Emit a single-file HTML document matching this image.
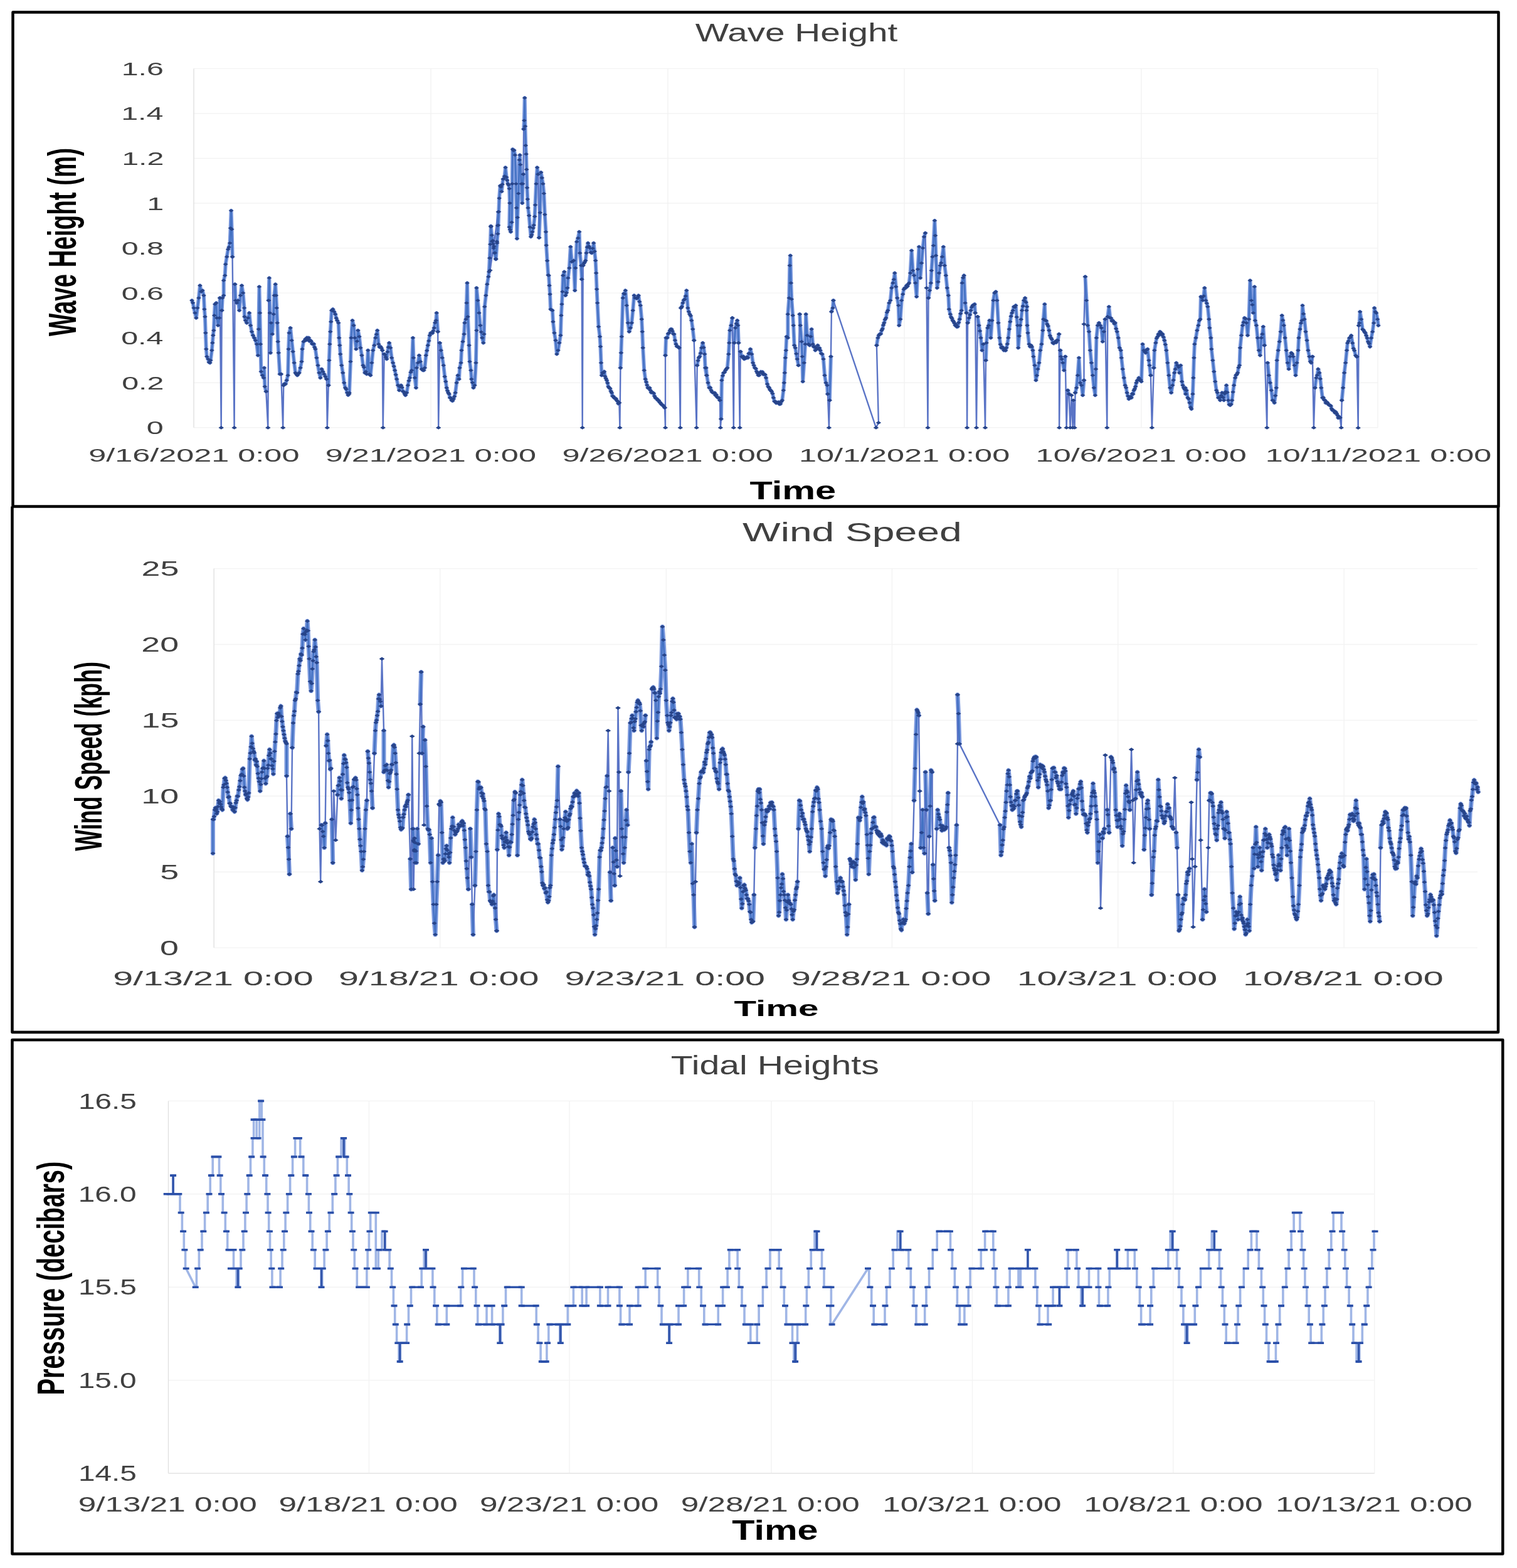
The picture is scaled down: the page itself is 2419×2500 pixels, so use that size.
<!DOCTYPE html><html><head><meta charset="utf-8"><title>Wave Height, Wind Speed, Tidal Heights</title><style>html,body{margin:0;padding:0;background:#fff}svg{display:block}</style></head><body><svg width="2419" height="2500" viewBox="0 0 2419 2500" font-family="&quot;Liberation Sans&quot;, Arial, sans-serif">
<rect width="2419" height="2500" fill="#fff"/>
<line x1="309" y1="109.40" x2="2197" y2="109.40" stroke="#f3f3f3" stroke-width="1.4"/>
<line x1="309" y1="180.95" x2="2197" y2="180.95" stroke="#f3f3f3" stroke-width="1.4"/>
<line x1="309" y1="252.50" x2="2197" y2="252.50" stroke="#f3f3f3" stroke-width="1.4"/>
<line x1="309" y1="324.05" x2="2197" y2="324.05" stroke="#f3f3f3" stroke-width="1.4"/>
<line x1="309" y1="395.60" x2="2197" y2="395.60" stroke="#f3f3f3" stroke-width="1.4"/>
<line x1="309" y1="467.15" x2="2197" y2="467.15" stroke="#f3f3f3" stroke-width="1.4"/>
<line x1="309" y1="538.70" x2="2197" y2="538.70" stroke="#f3f3f3" stroke-width="1.4"/>
<line x1="309" y1="610.25" x2="2197" y2="610.25" stroke="#f3f3f3" stroke-width="1.4"/>
<line x1="309" y1="681.80" x2="2197" y2="681.80" stroke="#f3f3f3" stroke-width="1.4"/>
<line x1="309.00" y1="109.4" x2="309.00" y2="681.8" stroke="#e0e0e0" stroke-width="1.4"/>
<line x1="687.00" y1="109.4" x2="687.00" y2="681.8" stroke="#f3f3f3" stroke-width="1.4"/>
<line x1="1065.00" y1="109.4" x2="1065.00" y2="681.8" stroke="#f3f3f3" stroke-width="1.4"/>
<line x1="1442.00" y1="109.4" x2="1442.00" y2="681.8" stroke="#f3f3f3" stroke-width="1.4"/>
<line x1="1820.00" y1="109.4" x2="1820.00" y2="681.8" stroke="#f3f3f3" stroke-width="1.4"/>
<line x1="2197.00" y1="109.4" x2="2197.00" y2="681.8" stroke="#f3f3f3" stroke-width="1.4"/>
<text transform="translate(1108.72,66.00) scale(0.5674,0.4058)" font-size="100" fill="#404040">Wave Height</text>
<text transform="translate(193.66,119.90) scale(0.4840,0.3010)" font-size="100" fill="#404040">1.6</text>
<text transform="translate(193.18,191.45) scale(0.4840,0.3010)" font-size="100" fill="#404040">1.4</text>
<text transform="translate(194.14,263.00) scale(0.4840,0.3010)" font-size="100" fill="#404040">1.2</text>
<text transform="translate(234.32,334.55) scale(0.4840,0.3010)" font-size="100" fill="#404040">1</text>
<text transform="translate(193.66,406.10) scale(0.4840,0.3010)" font-size="100" fill="#404040">0.8</text>
<text transform="translate(193.66,477.65) scale(0.4840,0.3010)" font-size="100" fill="#404040">0.6</text>
<text transform="translate(193.18,549.20) scale(0.4840,0.3010)" font-size="100" fill="#404040">0.4</text>
<text transform="translate(194.14,620.75) scale(0.4840,0.3010)" font-size="100" fill="#404040">0.2</text>
<text transform="translate(233.83,692.30) scale(0.4840,0.3010)" font-size="100" fill="#404040">0</text>
<text transform="translate(141.16,735.60) scale(0.5040,0.2940)" font-size="100" fill="#404040">9/16/2021 0:00</text>
<text transform="translate(518.66,735.60) scale(0.5040,0.2940)" font-size="100" fill="#404040">9/21/2021 0:00</text>
<text transform="translate(896.46,735.60) scale(0.5040,0.2940)" font-size="100" fill="#404040">9/26/2021 0:00</text>
<text transform="translate(1273.91,735.60) scale(0.5040,0.2940)" font-size="100" fill="#404040">10/1/2021 0:00</text>
<text transform="translate(1651.61,735.60) scale(0.5040,0.2940)" font-size="100" fill="#404040">10/6/2021 0:00</text>
<text transform="translate(2017.69,735.60) scale(0.5040,0.2940)" font-size="100" fill="#404040">10/11/2021 0:00</text>
<text transform="translate(1195.41,795.60) scale(0.5947,0.4072)" font-size="100" fill="#000" font-weight="bold">Time</text>
<text transform="translate(120.70,536.00) rotate(-90) scale(0.3850,0.6261)" font-size="100" fill="#000" font-weight="bold">Wave Height (m)</text>
<line x1="341.2" y1="906.60" x2="2356" y2="906.60" stroke="#f3f3f3" stroke-width="1.4"/>
<line x1="341.2" y1="1027.50" x2="2356" y2="1027.50" stroke="#f3f3f3" stroke-width="1.4"/>
<line x1="341.2" y1="1148.40" x2="2356" y2="1148.40" stroke="#f3f3f3" stroke-width="1.4"/>
<line x1="341.2" y1="1269.30" x2="2356" y2="1269.30" stroke="#f3f3f3" stroke-width="1.4"/>
<line x1="341.2" y1="1390.20" x2="2356" y2="1390.20" stroke="#f3f3f3" stroke-width="1.4"/>
<line x1="341.2" y1="1511.10" x2="2356" y2="1511.10" stroke="#f3f3f3" stroke-width="1.4"/>
<line x1="341.20" y1="906.6" x2="341.20" y2="1511" stroke="#e0e0e0" stroke-width="1.4"/>
<line x1="701.70" y1="906.6" x2="701.70" y2="1511" stroke="#f3f3f3" stroke-width="1.4"/>
<line x1="1062.30" y1="906.6" x2="1062.30" y2="1511" stroke="#f3f3f3" stroke-width="1.4"/>
<line x1="1422.40" y1="906.6" x2="1422.40" y2="1511" stroke="#f3f3f3" stroke-width="1.4"/>
<line x1="1782.70" y1="906.6" x2="1782.70" y2="1511" stroke="#f3f3f3" stroke-width="1.4"/>
<line x1="2143.20" y1="906.6" x2="2143.20" y2="1511" stroke="#f3f3f3" stroke-width="1.4"/>
<text transform="translate(1184.08,863.40) scale(0.6417,0.4304)" font-size="100" fill="#404040">Wind Speed</text>
<text transform="translate(225.51,918.20) scale(0.5373,0.3329)" font-size="100" fill="#404040">25</text>
<text transform="translate(225.25,1039.10) scale(0.5373,0.3329)" font-size="100" fill="#404040">20</text>
<text transform="translate(225.51,1160.00) scale(0.5373,0.3329)" font-size="100" fill="#404040">15</text>
<text transform="translate(225.25,1280.90) scale(0.5373,0.3329)" font-size="100" fill="#404040">10</text>
<text transform="translate(255.33,1401.80) scale(0.5373,0.3329)" font-size="100" fill="#404040">5</text>
<text transform="translate(255.06,1522.70) scale(0.5373,0.3329)" font-size="100" fill="#404040">0</text>
<text transform="translate(180.21,1571.40) scale(0.5748,0.3157)" font-size="100" fill="#404040">9/13/21 0:00</text>
<text transform="translate(539.91,1571.40) scale(0.5748,0.3157)" font-size="100" fill="#404040">9/18/21 0:00</text>
<text transform="translate(900.51,1571.40) scale(0.5748,0.3157)" font-size="100" fill="#404040">9/23/21 0:00</text>
<text transform="translate(1260.91,1571.40) scale(0.5748,0.3157)" font-size="100" fill="#404040">9/28/21 0:00</text>
<text transform="translate(1621.65,1571.40) scale(0.5748,0.3157)" font-size="100" fill="#404040">10/3/21 0:00</text>
<text transform="translate(1982.05,1571.40) scale(0.5748,0.3157)" font-size="100" fill="#404040">10/8/21 0:00</text>
<text transform="translate(1170.62,1619.70) scale(0.5819,0.3493)" font-size="100" fill="#000" font-weight="bold">Time</text>
<text transform="translate(162.30,1356.80) rotate(-90) scale(0.3578,0.6072)" font-size="100" fill="#000" font-weight="bold">Wind Speed (kph)</text>
<line x1="268.5" y1="1755.40" x2="2191.8" y2="1755.40" stroke="#f3f3f3" stroke-width="1.4"/>
<line x1="268.5" y1="1903.80" x2="2191.8" y2="1903.80" stroke="#f3f3f3" stroke-width="1.4"/>
<line x1="268.5" y1="2052.20" x2="2191.8" y2="2052.20" stroke="#f3f3f3" stroke-width="1.4"/>
<line x1="268.5" y1="2200.60" x2="2191.8" y2="2200.60" stroke="#f3f3f3" stroke-width="1.4"/>
<line x1="268.5" y1="2349.00" x2="2191.8" y2="2349.00" stroke="#f3f3f3" stroke-width="1.4"/>
<line x1="268.50" y1="1755.4" x2="268.50" y2="2349" stroke="#e0e0e0" stroke-width="1.4"/>
<line x1="588.40" y1="1755.4" x2="588.40" y2="2349" stroke="#f3f3f3" stroke-width="1.4"/>
<line x1="908.00" y1="1755.4" x2="908.00" y2="2349" stroke="#f3f3f3" stroke-width="1.4"/>
<line x1="1230.00" y1="1755.4" x2="1230.00" y2="2349" stroke="#f3f3f3" stroke-width="1.4"/>
<line x1="1550.50" y1="1755.4" x2="1550.50" y2="2349" stroke="#f3f3f3" stroke-width="1.4"/>
<line x1="1870.80" y1="1755.4" x2="1870.80" y2="2349" stroke="#f3f3f3" stroke-width="1.4"/>
<line x1="2191.80" y1="1755.4" x2="2191.80" y2="2349" stroke="#f3f3f3" stroke-width="1.4"/>
<line x1="268.5" y1="2349" x2="2191.8" y2="2349" stroke="#e6e6e6" stroke-width="1.4"/>
<text transform="translate(1069.85,1712.70) scale(0.5727,0.4275)" font-size="100" fill="#404040">Tidal Heights</text>
<text transform="translate(124.91,1767.60) scale(0.4781,0.3500)" font-size="100" fill="#404040">16.5</text>
<text transform="translate(124.67,1916.00) scale(0.4781,0.3500)" font-size="100" fill="#404040">16.0</text>
<text transform="translate(124.91,2064.40) scale(0.4781,0.3500)" font-size="100" fill="#404040">15.5</text>
<text transform="translate(124.67,2212.80) scale(0.4781,0.3500)" font-size="100" fill="#404040">15.0</text>
<text transform="translate(124.91,2361.20) scale(0.4781,0.3500)" font-size="100" fill="#404040">14.5</text>
<text transform="translate(124.69,2409.50) scale(0.5131,0.3414)" font-size="100" fill="#404040">9/13/21 0:00</text>
<text transform="translate(444.59,2409.50) scale(0.5131,0.3414)" font-size="100" fill="#404040">9/18/21 0:00</text>
<text transform="translate(765.09,2409.50) scale(0.5131,0.3414)" font-size="100" fill="#404040">9/23/21 0:00</text>
<text transform="translate(1085.69,2409.50) scale(0.5131,0.3414)" font-size="100" fill="#404040">9/28/21 0:00</text>
<text transform="translate(1407.32,2409.50) scale(0.5131,0.3414)" font-size="100" fill="#404040">10/3/21 0:00</text>
<text transform="translate(1728.32,2409.50) scale(0.5131,0.3414)" font-size="100" fill="#404040">10/8/21 0:00</text>
<text transform="translate(2034.08,2409.50) scale(0.5131,0.3414)" font-size="100" fill="#404040">10/13/21 0:00</text>
<text transform="translate(1167.31,2454.70) scale(0.5925,0.4362)" font-size="100" fill="#000" font-weight="bold">Time</text>
<text transform="translate(102.00,2224.60) rotate(-90) scale(0.3993,0.6029)" font-size="100" fill="#000" font-weight="bold">Pressure (decibars)</text>
<path d="M306.0,479.0 307.5,482.8 309.0,491.0 310.9,498.9 312.9,506.9 314.9,491.0 316.9,475.1 318.9,455.2 320.9,465.1 322.9,463.1 324.9,471.1 325.9,493.0 326.9,504.9 327.8,530.8 328.8,556.6 329.8,568.5 331.8,572.5 333.3,577.6 334.8,578.5 335.8,574.5 337.8,558.6 338.8,546.7 339.8,534.7 340.8,526.8 341.8,502.9 342.8,485.0 344.8,483.0 345.8,506.9 347.7,518.8 349.7,506.9 350.7,475.1M353.7,494.9 354.7,475.1 356.7,471.1 356.7,447.2 358.7,439.2 359.7,421.3 361.7,409.4 363.7,397.5 365.1,394.1 366.6,387.5 367.6,363.7 368.6,335.8 369.6,365.6 370.6,409.4M374.6,453.2 375.6,479.0 377.6,483.0 379.6,479.0 381.6,494.9 383.5,471.1 385.5,455.2 387.5,467.1 389.5,491.0 389.9,504.9 391.5,510.9 393.5,514.8 395.5,506.9 397.5,498.9 399.5,518.8 401.5,528.8 403.4,534.7 405.4,538.7 407.4,542.7 409.4,548.7 411.4,566.6 412.4,524.8 413.4,457.2 414.4,498.9 415.4,548.7 416.4,592.4 418.4,598.4 420.4,602.4 421.3,586.5 422.3,616.3 424.3,624.2M428.3,479.0 429.3,443.2 430.3,498.9 431.3,562.6 432.3,514.8 434.3,532.7 436.3,500.9 437.3,471.1 439.2,453.2 440.2,471.1 441.2,491.0 442.2,514.8 443.2,544.7 444.2,562.6 446.2,596.4 448.2,596.4M452.2,614.3 453.7,611.8 455.2,612.3 457.2,606.3 459.1,598.4 460.1,556.6 461.1,530.8 463.1,522.8 465.1,542.7 467.1,560.6 469.1,578.5 471.1,594.4 472.6,596.4 474.1,598.4 475.6,596.1 477.0,594.4 479.0,586.5 481.0,576.5 482.0,556.6 484.0,544.7 485.5,543.6 487.0,540.7 488.3,542.4 489.6,538.3 491.0,540.7 492.3,538.5 493.6,544.0 494.9,542.7 496.3,544.3 497.6,548.2 498.9,548.7 500.3,548.3 501.6,553.6 502.9,556.6 504.9,570.5 506.9,582.5 508.9,594.4 510.9,602.4 512.9,588.4 514.8,592.4 516.8,596.4 518.8,600.4 520.8,604.4M523.8,614.3 524.8,574.5 525.8,548.7 526.8,528.8 527.8,512.9 528.8,494.9 530.8,493.0 532.7,496.9 534.7,500.9 536.2,507.2 537.7,510.9 539.7,514.8 540.7,538.7 541.7,550.6 542.7,564.6 544.7,582.5 546.7,594.4 548.7,610.3 550.6,618.3 552.1,620.6 553.6,626.2 555.1,629.9 556.6,628.2 557.0,626.2 559.0,576.5 560.0,538.7 562.0,510.9 564.0,518.8 565.9,538.7 567.9,556.6 569.4,544.1 570.9,526.8 572.9,536.7 574.9,554.6 576.9,566.6 578.9,582.5 580.4,585.6 581.9,594.4 583.3,592.6 584.8,596.4 586.8,558.6 588.8,596.4 590.8,598.4 592.8,578.5 594.8,558.6 596.8,550.6 598.8,538.7 600.3,533.0 601.7,526.8 603.7,548.7 605.2,553.3 606.7,552.6 608.2,554.9 609.7,558.6M612.7,564.6 614.0,565.5 615.3,569.4 616.7,572.5 618.0,561.1 619.3,553.6 620.6,546.7 622.6,554.6 624.6,570.5 626.6,578.5 628.1,584.1 629.6,590.4 631.1,597.4 632.6,604.4 634.6,614.3 636.6,622.3 638.1,616.7 639.5,614.3 641.0,617.7 642.5,624.2 643.9,624.6 645.2,628.0 646.5,630.2 648.5,626.2 650.5,614.3 652.0,607.1 653.5,602.4 655.0,593.5 656.5,590.4 658.4,538.7 659.4,570.5 661.4,602.4 663.4,618.3 664.4,586.5 666.4,578.5 668.4,566.6 670.4,576.5 672.4,588.4 674.4,590.4 675.8,590.5 677.3,586.5 679.3,566.6 680.8,558.9 682.3,550.6 683.8,543.5 685.3,534.7 686.8,530.9 688.3,530.8 689.6,531.1 690.9,527.6 692.3,522.8 693.8,514.6 695.2,510.9 696.2,498.9 698.2,528.8M701.2,546.7 703.2,558.6 705.2,570.5 707.2,582.5 709.2,600.4 710.7,608.3 712.2,618.3 713.5,622.9 714.8,626.2 716.1,628.2 717.5,634.2 718.8,634.4 720.1,638.2 721.6,639.2 723.1,636.2 724.6,632.2 726.1,626.2 728.1,610.3 730.1,598.4 732.0,604.4 733.0,586.5 735.0,578.5 736.0,558.6 738.0,544.7 740.0,532.7 741.0,514.8 743.0,508.9 744.0,483.0 745.0,451.2 746.0,504.9 748.0,550.6 749.0,576.5 750.9,590.4 751.9,604.4 753.4,610.1 754.9,618.3 756.9,614.3 758.9,578.5 759.9,526.8 759.9,459.1 761.9,479.0 763.9,498.9 765.9,518.8 767.4,529.3 768.8,538.7 770.8,546.7 771.8,532.7 772.8,489.0 774.8,471.1 776.8,453.2 778.8,441.2 779.8,433.3 780.8,411.4 781.8,389.5 782.8,361.7 784.3,374.9 785.8,383.5 787.2,395.6 788.7,403.4 790.7,413.4 792.7,387.5 793.7,359.7 794.7,337.8M782.8,360.5 784.6,385.0 786.1,388.9 787.7,392.7 789.2,403.2 790.7,412.6 792.3,385.0 793.8,372.8 794.5,359.0 795.3,337.5 796.1,316.1 797.6,296.2 798.8,298.0 799.9,305.4 801.1,293.9 802.2,285.5 803.4,285.0 804.5,280.9 806.0,267.1 807.6,282.4 808.7,287.3 809.9,293.1 811.0,295.0 812.2,300.8 812.9,323.8 812.2,362.1 813.3,366.2 814.5,369.7 816.0,354.4 816.8,293.1 817.5,238.0 818.7,240.0 819.8,239.5 821.3,247.2 822.9,293.1 823.6,331.4 824.4,380.4 825.2,346.7 826.7,308.5 828.2,254.9 829.0,247.2 829.8,262.5 831.3,293.1 832.8,323.8 833.6,293.1 834.4,277.8M835.1,205.8 835.9,192.1 836.7,156.1 837.4,201.3 838.2,231.9 839.0,245.7 839.7,270.2 840.5,299.3 841.3,317.6 842.0,331.4 843.6,343.7 845.1,362.1 846.6,377.4 847.8,374.6 848.9,369.7 850.1,363.6 851.2,359.0 852.7,345.2 853.5,326.8 855.0,293.1 856.6,267.1 858.1,277.8M859.6,378.9 861.2,339.1 862.7,274.8 864.2,283.6 865.8,293.1 867.3,308.5 868.8,342.1 870.4,369.7 871.1,391.1 872.6,415.7 874.2,438.6 875.0,439.2 876.0,455.2 877.0,469.1 878.0,493.0 879.4,494.0 880.9,494.9 881.9,512.9 883.9,530.8 885.9,542.7 887.9,564.6 889.9,558.6 891.9,546.7 893.9,534.7 894.9,502.9 895.9,485.0 896.9,465.1 897.8,439.2 899.8,433.3 901.8,471.1 903.3,466.8 904.8,459.1 905.8,443.2 907.8,427.3 909.8,393.5 911.8,417.4 913.3,416.5 914.8,415.4 916.7,463.1 917.7,427.3 919.7,385.5 921.7,379.6 923.7,369.6 924.7,403.4 926.7,423.3 927.7,445.2M929.7,423.3 931.0,420.0 932.3,418.0 933.7,415.4 935.0,403.3 936.3,394.1 937.6,387.5 939.1,392.7 940.6,395.5 942.1,402.4 943.6,403.4 945.1,396.0 946.6,387.5 948.1,400.8 949.6,415.4 950.6,435.3 951.6,461.1 952.6,483.0 954.5,520.8 956.5,536.7 957.5,552.6 958.5,578.5 959.5,598.4 960.8,594.4 962.2,594.4 963.5,592.4 964.8,600.0 966.1,603.3 967.5,606.3 968.8,610.6 970.1,616.5 971.5,618.3 972.8,619.3 974.1,623.7 975.4,626.2 976.8,631.6 978.1,632.0 979.4,634.2 980.7,635.3 982.1,635.5 983.4,638.2 984.7,639.8 986.0,643.6 987.4,642.2M989.4,586.5 990.4,562.6 991.3,536.7 993.3,475.1 994.7,468.1 996.0,468.8 997.3,463.1 999.3,487.0 1001.3,514.8 1003.3,528.8 1005.3,522.8 1007.3,514.8 1009.2,494.9 1011.2,471.1 1012.7,475.0 1014.2,475.1 1015.5,476.0 1016.9,473.8 1018.2,471.1 1019.7,480.9 1021.2,487.0 1023.2,508.9 1024.2,528.8 1025.2,554.6 1027.2,590.4 1029.1,604.4 1030.5,609.1 1031.8,614.0 1033.1,618.3 1034.4,619.2 1035.8,618.3 1037.1,622.3 1038.4,625.8 1039.8,625.3 1041.1,626.2 1042.4,627.1 1043.7,631.6 1045.1,634.2 1046.4,635.4 1047.7,636.0 1049.0,638.2 1050.4,638.6 1051.7,641.1 1053.0,642.2 1054.3,644.2 1055.7,645.5 1057.0,646.1 1058.5,647.9 1060.0,650.1M1061.0,566.6 1062.0,538.7 1064.0,538.7 1065.4,531.9 1066.9,530.8 1068.3,527.1 1069.6,524.8 1070.9,524.8 1072.2,527.9 1073.6,532.3 1074.9,532.7 1076.4,542.5 1077.9,548.7 1079.4,552.4 1080.9,552.6 1082.9,554.6M1085.8,491.0 1087.3,488.9 1088.8,483.0 1090.3,478.6 1091.8,477.0 1093.3,472.1 1094.8,463.1 1096.8,491.0 1098.3,497.0 1099.8,500.9 1101.3,503.4 1102.7,510.9 1104.7,524.8 1106.7,542.7M1111.7,582.5 1113.0,574.9 1114.3,570.3 1115.7,568.5 1117.2,563.1 1118.7,554.6 1120.6,546.7 1122.1,554.1 1123.6,564.6 1124.6,586.5 1126.6,598.4 1126.0,586.5 1127.0,598.4 1129.0,610.3 1131.0,618.3 1132.5,617.9 1134.0,622.3 1135.4,625.0 1136.9,626.2 1138.3,626.6 1139.6,626.3 1140.9,630.2 1142.2,629.5 1143.6,633.0 1144.9,634.2 1146.4,634.2 1147.9,638.2M1149.9,668.0 1150.9,606.3 1152.4,599.0 1153.8,594.4 1155.3,593.7 1156.8,590.4 1158.3,588.2 1159.8,586.5 1161.8,564.6 1162.8,546.7 1163.8,526.8 1165.8,518.8 1167.8,506.9M1170.8,546.7 1172.7,522.8 1174.2,515.8 1175.7,510.9 1176.7,518.8 1177.7,546.7M1180.7,560.6 1182.7,568.5 1184.0,569.7 1185.3,568.3 1186.7,572.5 1188.2,571.4 1189.7,571.1 1191.1,569.2 1192.6,570.5 1194.0,563.6 1195.3,563.7 1196.6,556.6 1198.6,564.6 1200.6,578.5 1202.1,582.5 1203.6,586.5 1205.1,587.7 1206.6,592.4 1207.9,595.0 1209.2,598.3 1210.5,598.4 1211.9,594.2 1213.2,592.8 1214.5,594.4 1215.8,593.0 1217.2,597.0 1218.5,596.4 1220.0,597.3 1221.5,602.4 1223.5,612.3 1225.0,616.5 1226.5,618.3 1227.8,621.3 1229.1,622.5 1230.4,624.2 1231.9,627.5 1233.4,634.2 1234.9,640.0 1236.4,640.2 1237.7,642.6 1239.1,641.6 1240.4,642.2 1241.7,641.2 1243.0,644.4 1244.4,644.1 1245.8,640.5 1247.3,638.2 1249.3,622.3 1250.3,610.3 1251.3,594.4 1252.3,570.5 1253.3,558.6 1254.3,536.7 1256.3,538.7 1256.3,500.9 1258.3,475.1 1259.3,423.3 1260.3,407.4 1261.3,451.2 1262.3,477.0 1264.2,502.9 1265.2,518.8 1266.6,550.6 1268.2,554.6 1269.7,564.0 1271.2,572.5 1273.2,582.5M1275.2,500.9 1276.2,518.8 1278.2,544.7 1279.2,568.5 1280.2,608.3 1282.2,578.5 1284.1,548.7 1285.1,500.9 1287.1,534.7 1289.1,548.7 1291.1,550.6 1292.6,536.6 1294.1,524.8 1296.1,548.7 1297.4,552.8 1298.7,552.6 1300.1,558.6 1301.4,554.7 1302.7,556.1 1304.0,550.6 1305.4,555.6 1306.7,554.8 1308.0,558.6 1309.5,563.7 1311.0,564.6 1313.0,572.5 1315.0,598.4 1317.0,610.3 1319.0,614.3 1319.9,628.2M1322.9,638.2 1324.9,568.5M1325.9,496.9 1327.9,491.0 1328.9,479.0M1397.9,550.6 1399.9,538.7 1401.4,534.6 1402.9,532.7 1404.4,532.4 1405.9,526.8 1407.2,524.3 1408.5,518.3 1409.8,514.8 1411.3,509.4 1412.8,506.9 1414.3,498.0 1415.8,494.9 1417.8,483.0 1419.8,479.0 1421.8,459.1 1423.8,451.2 1425.3,445.5 1426.7,435.3 1428.7,457.2 1430.7,475.1 1432.7,487.0 1433.7,518.8 1435.7,508.9 1437.7,479.0 1439.7,469.1 1441.2,461.3 1442.7,459.1 1444.2,459.1 1445.6,455.2 1447.0,456.6 1448.3,452.9 1449.6,451.2 1451.6,435.3 1453.6,399.5 1455.6,431.3 1457.6,439.2 1459.6,451.2 1461.6,473.1 1463.5,429.3 1465.5,393.5 1467.5,443.2 1469.5,419.4 1471.5,395.5 1473.5,377.6 1475.5,371.6M1480.5,475.1 1482.4,463.1 1484.4,451.2 1485.4,431.3 1486.9,409.4 1488.4,391.5 1490.4,351.7 1491.4,375.6 1492.4,407.4 1494.4,459.1 1495.9,449.4 1497.4,435.3 1499.4,423.3 1500.8,419.2 1502.3,409.4 1504.3,393.5 1506.3,423.3 1508.3,439.2 1510.3,459.1 1512.3,471.1 1513.3,493.0 1515.3,500.9 1516.6,505.5 1517.9,507.6 1519.2,510.9 1520.6,512.8 1521.9,515.2 1523.2,518.8 1524.6,517.7 1525.9,521.2 1527.2,520.8 1528.7,514.4 1530.2,508.9 1531.7,500.1 1533.2,494.9 1534.2,451.2 1535.7,442.8 1537.2,439.2 1539.1,483.0 1541.1,498.9M1543.1,514.8 1545.1,506.9 1546.6,501.9 1548.1,494.9 1549.6,489.7 1551.1,487.0 1552.6,486.0 1554.1,485.0 1555.1,498.9M1559.0,504.9 1561.0,518.8 1562.5,527.7 1564.0,538.7 1566.0,558.6 1568.0,548.7M1572.0,574.5 1573.0,546.7 1574.9,522.8 1576.4,519.1 1577.9,510.9 1579.9,538.7 1581.9,510.9 1583.9,479.0 1585.9,467.1 1587.9,465.1 1589.9,479.0 1591.9,514.8 1593.8,538.7 1595.3,549.1 1596.8,554.6 1598.2,553.1 1599.5,555.5 1600.8,558.6 1602.1,556.2 1603.5,558.9 1604.8,554.6 1606.3,548.4 1607.8,538.7 1609.3,524.8 1610.8,512.9 1612.2,504.2 1613.7,498.9 1615.2,495.0 1616.7,489.0 1618.2,490.0 1619.7,487.0 1621.2,505.5 1622.7,518.8 1623.7,554.6 1625.2,535.8 1626.7,518.8 1628.2,509.2 1629.7,494.9 1631.1,488.1 1632.6,479.0 1634.6,475.1 1636.1,481.9 1637.6,489.0 1637.0,494.9 1638.0,518.8 1639.0,530.8 1641.0,548.7 1642.5,552.6 1644.0,550.6 1645.4,553.0 1646.9,558.6 1647.9,568.5 1649.9,582.5 1651.9,606.3 1653.4,598.7 1654.9,588.4 1656.9,578.5 1658.9,558.6 1660.9,548.7 1662.8,526.8 1663.8,508.9 1665.8,485.0 1666.8,510.9 1668.3,511.4 1669.8,516.8 1671.3,519.8 1672.8,526.8 1674.3,535.2 1675.8,538.7 1677.3,541.0 1678.8,546.7 1680.1,547.6 1681.4,545.9 1682.7,544.7 1684.1,546.1 1685.4,542.6 1686.7,542.7 1688.7,532.7M1690.7,558.6 1691.7,568.5 1693.2,572.6 1694.7,578.5 1696.7,590.4 1698.7,568.5M1702.6,622.3 1704.6,628.2M1714.6,626.2 1716.6,618.3 1718.5,598.4 1720.5,570.5 1722.5,610.3 1724.5,614.3 1726.5,630.2 1728.5,606.3M1730.5,441.2 1732.5,479.0 1734.5,518.8 1736.5,528.8 1738.4,558.6 1740.4,578.5 1742.4,598.4 1744.4,618.3 1746.4,630.2 1747.4,588.4 1748.4,538.7 1750.4,518.8 1752.4,514.8 1754.4,518.8 1756.3,522.8 1758.3,544.7 1760.3,528.8 1762.3,508.9M1766.3,504.9 1768.3,489.0 1770.3,506.9 1771.6,507.0 1772.9,511.7 1774.2,510.9 1775.6,512.8 1776.9,516.2 1778.2,514.8 1779.7,524.1 1781.2,528.8 1783.2,538.7 1785.2,554.6 1787.2,558.6 1788.2,570.5 1790.2,588.4 1792.2,602.4 1794.1,614.3 1795.6,618.1 1797.1,626.2 1798.6,631.5 1800.1,636.2 1801.4,633.1 1802.8,632.1 1804.1,634.2 1805.4,627.7 1806.7,628.4 1808.1,622.3 1809.4,620.0 1810.7,616.3 1812.0,610.3 1813.4,606.7 1814.7,605.7 1816.0,602.4 1817.3,606.0 1818.7,605.6 1820.0,608.3 1822.0,548.7 1824.0,558.6 1825.5,561.0 1827.0,562.6 1828.5,557.9 1829.9,556.6 1831.9,574.5 1832.9,582.5 1834.9,598.4M1839.9,586.5 1840.9,558.6 1842.9,546.7 1844.4,539.2 1845.9,536.7 1847.2,532.7 1848.5,533.8 1849.8,528.8 1851.2,530.5 1852.5,534.0 1853.8,532.7 1855.3,537.5 1856.8,542.7 1858.3,549.3 1859.8,558.6 1861.8,578.5 1863.8,598.4 1865.8,618.3 1867.7,626.2 1869.7,614.3 1871.2,606.1 1872.7,594.4 1874.2,588.4 1875.7,578.5 1877.7,582.5 1879.2,585.5 1880.7,594.4 1882.7,582.5 1884.7,608.3 1886.1,614.3 1887.6,618.3 1889.1,620.8 1890.6,628.2 1890.0,618.3 1892.0,622.3 1894.0,634.2 1895.5,635.9 1897.0,642.2 1898.5,649.4 1899.9,652.1 1901.9,628.2 1902.9,602.4 1903.9,570.5 1904.9,548.7 1906.9,538.7 1908.9,526.8 1910.9,518.8 1912.4,511.1 1913.9,508.9 1914.9,473.1 1916.4,474.5 1917.8,479.0 1919.3,472.0 1920.8,459.1 1922.8,479.0 1924.3,483.5 1925.8,489.0 1927.8,508.9 1928.8,522.8 1930.8,538.7 1931.8,556.6 1933.8,574.5 1935.8,592.4 1937.7,608.3 1939.7,622.3 1941.2,625.9 1942.7,634.2 1944.2,634.2 1945.7,638.2 1947.2,630.7 1948.7,626.2 1950.2,633.7 1951.7,638.2 1953.0,627.8 1954.3,624.7 1955.6,614.3 1957.1,625.5 1958.6,638.2 1960.1,645.0 1961.6,646.1 1963.1,644.6 1964.6,638.2 1966.1,625.0 1967.6,614.3 1969.6,602.4 1970.9,598.2 1972.2,596.9 1973.5,594.4 1975.0,586.0 1976.5,582.5 1977.5,554.6 1979.5,534.7 1981.5,518.8 1983.0,513.8 1984.5,506.9 1986.0,508.1 1987.5,514.8 1989.5,534.7 1991.5,508.9 1993.4,447.2 1995.4,479.0 1996.9,486.0 1998.4,498.9 2000.4,457.2 2001.4,510.9 2003.4,518.8 2005.4,538.7 2007.4,558.6 2009.4,566.6 2011.3,538.7 2012.8,532.7 2014.3,520.8 2016.3,550.6M2021.3,578.5 2023.3,598.4 2025.3,610.3 2027.3,622.3 2029.2,638.2 2030.7,638.9 2032.2,642.2 2033.7,630.8 2035.2,618.3 2036.2,574.5 2038.2,558.6 2040.2,544.7 2042.2,528.8 2044.2,502.9 2045.7,510.6 2047.2,518.8 2049.1,538.7 2051.1,558.6 2053.1,578.5 2055.1,588.4 2057.1,568.5 2059.1,562.6 2060.6,564.4 2062.1,568.5 2064.1,582.5 2066.0,598.4 2068.0,578.5 2070.0,558.6 2071.0,538.7 2073.0,524.8 2074.5,515.2 2076.0,510.9 2077.0,487.0 2078.5,500.4 2080.0,508.9 2082.0,528.8 2084.0,542.7 2085.9,558.6 2087.9,568.5 2089.4,576.3 2090.9,578.5 2092.9,568.5M2096.9,618.3 2098.9,602.4 2100.4,598.2 2101.9,588.4 2103.8,594.4 2105.3,604.0 2106.8,618.3 2108.8,634.2 2110.1,633.8 2111.5,637.6 2112.8,638.2 2114.1,642.4 2115.4,641.1 2116.8,642.2 2118.1,644.6 2119.4,645.8 2120.8,646.1 2122.1,647.3 2123.4,651.7 2124.7,654.1 2126.1,654.3 2127.4,655.2 2128.7,658.1 2130.0,656.9 2131.4,659.4 2132.7,662.0 2134.0,666.3 2135.3,664.4 2136.7,666.0M2139.7,638.2 2141.6,618.3 2143.6,594.4 2145.6,578.5 2147.6,558.6 2148.8,546.9 2150.3,543.8 2151.8,538.9 2153.3,537.8 2154.7,534.9 2156.7,546.9 2158.2,555.5 2159.7,558.8 2161.7,566.8 2163.7,568.8M2166.7,519.0 2167.7,515.0 2168.7,497.1 2170.7,509.0 2172.7,525.0 2174.2,526.3 2175.7,528.9 2177.1,530.8 2178.6,534.9 2180.1,538.9 2181.6,544.9 2183.1,547.8 2184.6,552.8 2186.6,538.9 2188.6,528.9 2190.6,515.0 2191.6,491.1 2193.1,497.2 2194.6,499.1 2196.6,509.0 2197.9,519.0" fill="none" stroke="#7d9ade" stroke-width="6" stroke-linejoin="round" stroke-linecap="round"/>
<path d="M350.7,475.1L352.7,681.9M352.7,681.9L353.7,494.9M370.6,409.4L373.6,681.9M373.6,681.9L374.6,453.2M424.3,624.2L427.3,681.9M427.3,681.9L428.3,479.0M448.2,596.4L451.2,681.9M451.2,681.9L452.2,614.3M520.8,604.4L521.8,681.9M521.8,681.9L523.8,614.3M609.7,558.6L610.7,681.9M610.7,681.9L612.7,564.6M698.2,528.8L699.2,681.9M699.2,681.9L701.2,546.7M794.7,337.8L781.5,431.0M781.5,431.0L782.8,360.5M834.4,277.8L835.1,205.8M858.1,277.8L859.6,378.9M927.7,445.2L928.7,681.9M928.7,681.9L929.7,423.3M987.4,642.2L988.4,681.9M988.4,681.9L989.4,586.5M1060.0,650.1L1061.0,681.9M1061.0,681.9L1061.0,566.6M1082.9,554.6L1084.8,681.9M1084.8,681.9L1085.8,491.0M1106.7,542.7L1110.7,681.9M1110.7,681.9L1111.7,582.5M1147.9,638.2L1148.9,681.9M1148.9,681.9L1149.9,668.0M1167.8,506.9L1169.8,681.9M1169.8,681.9L1170.8,546.7M1177.7,546.7L1179.7,681.9M1179.7,681.9L1180.7,560.6M1273.2,582.5L1275.2,500.9M1319.9,628.2L1321.9,681.9M1321.9,681.9L1322.9,638.2M1324.9,568.5L1325.9,496.9M1328.9,479.0L1396.9,681.9M1396.9,681.9L1400.9,674.0M1400.9,674.0L1397.9,550.6M1475.5,371.6L1477.5,459.1M1477.5,459.1L1479.5,681.9M1479.5,681.9L1480.5,475.1M1541.1,498.9L1542.1,681.9M1542.1,681.9L1543.1,514.8M1555.1,498.9L1557.0,681.9M1557.0,681.9L1559.0,504.9M1568.0,548.7L1571.0,681.9M1571.0,681.9L1572.0,574.5M1688.7,532.7L1689.1,681.9M1689.1,681.9L1690.7,558.6M1698.7,568.5L1700.6,681.9M1700.6,681.9L1702.6,622.3M1704.6,628.2L1706.6,681.9M1706.6,681.9L1708.6,630.2M1708.6,630.2L1710.6,681.9M1710.6,681.9L1711.6,638.2M1711.6,638.2L1713.6,681.9M1713.6,681.9L1714.6,626.2M1728.5,606.3L1728.5,516.8M1728.5,516.8L1730.5,441.2M1762.3,508.9L1765.3,681.9M1765.3,681.9L1766.3,504.9M1834.9,598.4L1836.9,681.9M1836.9,681.9L1839.9,586.5M2016.3,550.6L2020.3,681.9M2020.3,681.9L2021.3,578.5M2092.9,568.5L2094.9,681.9M2094.9,681.9L2096.9,618.3M2136.7,666.0L2138.7,681.9M2138.7,681.9L2139.7,638.2M2163.7,568.8L2165.7,682.2M2165.7,682.2L2166.7,519.0" fill="none" stroke="#5a74c6" stroke-width="2.4"/>
<path d="M306.0,479.0 307.5,482.8 309.0,491.0 310.9,498.9 312.9,506.9 314.9,491.0 316.9,475.1 318.9,455.2 320.9,465.1 322.9,463.1 324.9,471.1 325.9,493.0 326.9,504.9 327.8,530.8 328.8,556.6 329.8,568.5 331.8,572.5 333.3,577.6 334.8,578.5 335.8,574.5 337.8,558.6 338.8,546.7 339.8,534.7 340.8,526.8 341.8,502.9 342.8,485.0 344.8,483.0 345.8,506.9 347.7,518.8 349.7,506.9 350.7,475.1M353.7,494.9 354.7,475.1 356.7,471.1 356.7,447.2 358.7,439.2 359.7,421.3 361.7,409.4 363.7,397.5 365.1,394.1 366.6,387.5 367.6,363.7 368.6,335.8 369.6,365.6 370.6,409.4M374.6,453.2 375.6,479.0 377.6,483.0 379.6,479.0 381.6,494.9 383.5,471.1 385.5,455.2 387.5,467.1 389.5,491.0 389.9,504.9 391.5,510.9 393.5,514.8 395.5,506.9 397.5,498.9 399.5,518.8 401.5,528.8 403.4,534.7 405.4,538.7 407.4,542.7 409.4,548.7 411.4,566.6 412.4,524.8 413.4,457.2 414.4,498.9 415.4,548.7 416.4,592.4 418.4,598.4 420.4,602.4 421.3,586.5 422.3,616.3 424.3,624.2M428.3,479.0 429.3,443.2 430.3,498.9 431.3,562.6 432.3,514.8 434.3,532.7 436.3,500.9 437.3,471.1 439.2,453.2 440.2,471.1 441.2,491.0 442.2,514.8 443.2,544.7 444.2,562.6 446.2,596.4 448.2,596.4M452.2,614.3 453.7,611.8 455.2,612.3 457.2,606.3 459.1,598.4 460.1,556.6 461.1,530.8 463.1,522.8 465.1,542.7 467.1,560.6 469.1,578.5 471.1,594.4 472.6,596.4 474.1,598.4 475.6,596.1 477.0,594.4 479.0,586.5 481.0,576.5 482.0,556.6 484.0,544.7 485.5,543.6 487.0,540.7 488.3,542.4 489.6,538.3 491.0,540.7 492.3,538.5 493.6,544.0 494.9,542.7 496.3,544.3 497.6,548.2 498.9,548.7 500.3,548.3 501.6,553.6 502.9,556.6 504.9,570.5 506.9,582.5 508.9,594.4 510.9,602.4 512.9,588.4 514.8,592.4 516.8,596.4 518.8,600.4 520.8,604.4M523.8,614.3 524.8,574.5 525.8,548.7 526.8,528.8 527.8,512.9 528.8,494.9 530.8,493.0 532.7,496.9 534.7,500.9 536.2,507.2 537.7,510.9 539.7,514.8 540.7,538.7 541.7,550.6 542.7,564.6 544.7,582.5 546.7,594.4 548.7,610.3 550.6,618.3 552.1,620.6 553.6,626.2 555.1,629.9 556.6,628.2 557.0,626.2 559.0,576.5 560.0,538.7 562.0,510.9 564.0,518.8 565.9,538.7 567.9,556.6 569.4,544.1 570.9,526.8 572.9,536.7 574.9,554.6 576.9,566.6 578.9,582.5 580.4,585.6 581.9,594.4 583.3,592.6 584.8,596.4 586.8,558.6 588.8,596.4 590.8,598.4 592.8,578.5 594.8,558.6 596.8,550.6 598.8,538.7 600.3,533.0 601.7,526.8 603.7,548.7 605.2,553.3 606.7,552.6 608.2,554.9 609.7,558.6M612.7,564.6 614.0,565.5 615.3,569.4 616.7,572.5 618.0,561.1 619.3,553.6 620.6,546.7 622.6,554.6 624.6,570.5 626.6,578.5 628.1,584.1 629.6,590.4 631.1,597.4 632.6,604.4 634.6,614.3 636.6,622.3 638.1,616.7 639.5,614.3 641.0,617.7 642.5,624.2 643.9,624.6 645.2,628.0 646.5,630.2 648.5,626.2 650.5,614.3 652.0,607.1 653.5,602.4 655.0,593.5 656.5,590.4 658.4,538.7 659.4,570.5 661.4,602.4 663.4,618.3 664.4,586.5 666.4,578.5 668.4,566.6 670.4,576.5 672.4,588.4 674.4,590.4 675.8,590.5 677.3,586.5 679.3,566.6 680.8,558.9 682.3,550.6 683.8,543.5 685.3,534.7 686.8,530.9 688.3,530.8 689.6,531.1 690.9,527.6 692.3,522.8 693.8,514.6 695.2,510.9 696.2,498.9 698.2,528.8M701.2,546.7 703.2,558.6 705.2,570.5 707.2,582.5 709.2,600.4 710.7,608.3 712.2,618.3 713.5,622.9 714.8,626.2 716.1,628.2 717.5,634.2 718.8,634.4 720.1,638.2 721.6,639.2 723.1,636.2 724.6,632.2 726.1,626.2 728.1,610.3 730.1,598.4 732.0,604.4 733.0,586.5 735.0,578.5 736.0,558.6 738.0,544.7 740.0,532.7 741.0,514.8 743.0,508.9 744.0,483.0 745.0,451.2 746.0,504.9 748.0,550.6 749.0,576.5 750.9,590.4 751.9,604.4 753.4,610.1 754.9,618.3 756.9,614.3 758.9,578.5 759.9,526.8 759.9,459.1 761.9,479.0 763.9,498.9 765.9,518.8 767.4,529.3 768.8,538.7 770.8,546.7 771.8,532.7 772.8,489.0 774.8,471.1 776.8,453.2 778.8,441.2 779.8,433.3 780.8,411.4 781.8,389.5 782.8,361.7 784.3,374.9 785.8,383.5 787.2,395.6 788.7,403.4 790.7,413.4 792.7,387.5 793.7,359.7 794.7,337.8M782.8,360.5 784.6,385.0 786.1,388.9 787.7,392.7 789.2,403.2 790.7,412.6 792.3,385.0 793.8,372.8 794.5,359.0 795.3,337.5 796.1,316.1 797.6,296.2 798.8,298.0 799.9,305.4 801.1,293.9 802.2,285.5 803.4,285.0 804.5,280.9 806.0,267.1 807.6,282.4 808.7,287.3 809.9,293.1 811.0,295.0 812.2,300.8 812.9,323.8 812.2,362.1 813.3,366.2 814.5,369.7 816.0,354.4 816.8,293.1 817.5,238.0 818.7,240.0 819.8,239.5 821.3,247.2 822.9,293.1 823.6,331.4 824.4,380.4 825.2,346.7 826.7,308.5 828.2,254.9 829.0,247.2 829.8,262.5 831.3,293.1 832.8,323.8 833.6,293.1 834.4,277.8M835.1,205.8 835.9,192.1 836.7,156.1 837.4,201.3 838.2,231.9 839.0,245.7 839.7,270.2 840.5,299.3 841.3,317.6 842.0,331.4 843.6,343.7 845.1,362.1 846.6,377.4 847.8,374.6 848.9,369.7 850.1,363.6 851.2,359.0 852.7,345.2 853.5,326.8 855.0,293.1 856.6,267.1 858.1,277.8M859.6,378.9 861.2,339.1 862.7,274.8 864.2,283.6 865.8,293.1 867.3,308.5 868.8,342.1 870.4,369.7 871.1,391.1 872.6,415.7 874.2,438.6 875.0,439.2 876.0,455.2 877.0,469.1 878.0,493.0 879.4,494.0 880.9,494.9 881.9,512.9 883.9,530.8 885.9,542.7 887.9,564.6 889.9,558.6 891.9,546.7 893.9,534.7 894.9,502.9 895.9,485.0 896.9,465.1 897.8,439.2 899.8,433.3 901.8,471.1 903.3,466.8 904.8,459.1 905.8,443.2 907.8,427.3 909.8,393.5 911.8,417.4 913.3,416.5 914.8,415.4 916.7,463.1 917.7,427.3 919.7,385.5 921.7,379.6 923.7,369.6 924.7,403.4 926.7,423.3 927.7,445.2M929.7,423.3 931.0,420.0 932.3,418.0 933.7,415.4 935.0,403.3 936.3,394.1 937.6,387.5 939.1,392.7 940.6,395.5 942.1,402.4 943.6,403.4 945.1,396.0 946.6,387.5 948.1,400.8 949.6,415.4 950.6,435.3 951.6,461.1 952.6,483.0 954.5,520.8 956.5,536.7 957.5,552.6 958.5,578.5 959.5,598.4 960.8,594.4 962.2,594.4 963.5,592.4 964.8,600.0 966.1,603.3 967.5,606.3 968.8,610.6 970.1,616.5 971.5,618.3 972.8,619.3 974.1,623.7 975.4,626.2 976.8,631.6 978.1,632.0 979.4,634.2 980.7,635.3 982.1,635.5 983.4,638.2 984.7,639.8 986.0,643.6 987.4,642.2M989.4,586.5 990.4,562.6 991.3,536.7 993.3,475.1 994.7,468.1 996.0,468.8 997.3,463.1 999.3,487.0 1001.3,514.8 1003.3,528.8 1005.3,522.8 1007.3,514.8 1009.2,494.9 1011.2,471.1 1012.7,475.0 1014.2,475.1 1015.5,476.0 1016.9,473.8 1018.2,471.1 1019.7,480.9 1021.2,487.0 1023.2,508.9 1024.2,528.8 1025.2,554.6 1027.2,590.4 1029.1,604.4 1030.5,609.1 1031.8,614.0 1033.1,618.3 1034.4,619.2 1035.8,618.3 1037.1,622.3 1038.4,625.8 1039.8,625.3 1041.1,626.2 1042.4,627.1 1043.7,631.6 1045.1,634.2 1046.4,635.4 1047.7,636.0 1049.0,638.2 1050.4,638.6 1051.7,641.1 1053.0,642.2 1054.3,644.2 1055.7,645.5 1057.0,646.1 1058.5,647.9 1060.0,650.1M1061.0,566.6 1062.0,538.7 1064.0,538.7 1065.4,531.9 1066.9,530.8 1068.3,527.1 1069.6,524.8 1070.9,524.8 1072.2,527.9 1073.6,532.3 1074.9,532.7 1076.4,542.5 1077.9,548.7 1079.4,552.4 1080.9,552.6 1082.9,554.6M1085.8,491.0 1087.3,488.9 1088.8,483.0 1090.3,478.6 1091.8,477.0 1093.3,472.1 1094.8,463.1 1096.8,491.0 1098.3,497.0 1099.8,500.9 1101.3,503.4 1102.7,510.9 1104.7,524.8 1106.7,542.7M1111.7,582.5 1113.0,574.9 1114.3,570.3 1115.7,568.5 1117.2,563.1 1118.7,554.6 1120.6,546.7 1122.1,554.1 1123.6,564.6 1124.6,586.5 1126.6,598.4 1126.0,586.5 1127.0,598.4 1129.0,610.3 1131.0,618.3 1132.5,617.9 1134.0,622.3 1135.4,625.0 1136.9,626.2 1138.3,626.6 1139.6,626.3 1140.9,630.2 1142.2,629.5 1143.6,633.0 1144.9,634.2 1146.4,634.2 1147.9,638.2M1149.9,668.0 1150.9,606.3 1152.4,599.0 1153.8,594.4 1155.3,593.7 1156.8,590.4 1158.3,588.2 1159.8,586.5 1161.8,564.6 1162.8,546.7 1163.8,526.8 1165.8,518.8 1167.8,506.9M1170.8,546.7 1172.7,522.8 1174.2,515.8 1175.7,510.9 1176.7,518.8 1177.7,546.7M1180.7,560.6 1182.7,568.5 1184.0,569.7 1185.3,568.3 1186.7,572.5 1188.2,571.4 1189.7,571.1 1191.1,569.2 1192.6,570.5 1194.0,563.6 1195.3,563.7 1196.6,556.6 1198.6,564.6 1200.6,578.5 1202.1,582.5 1203.6,586.5 1205.1,587.7 1206.6,592.4 1207.9,595.0 1209.2,598.3 1210.5,598.4 1211.9,594.2 1213.2,592.8 1214.5,594.4 1215.8,593.0 1217.2,597.0 1218.5,596.4 1220.0,597.3 1221.5,602.4 1223.5,612.3 1225.0,616.5 1226.5,618.3 1227.8,621.3 1229.1,622.5 1230.4,624.2 1231.9,627.5 1233.4,634.2 1234.9,640.0 1236.4,640.2 1237.7,642.6 1239.1,641.6 1240.4,642.2 1241.7,641.2 1243.0,644.4 1244.4,644.1 1245.8,640.5 1247.3,638.2 1249.3,622.3 1250.3,610.3 1251.3,594.4 1252.3,570.5 1253.3,558.6 1254.3,536.7 1256.3,538.7 1256.3,500.9 1258.3,475.1 1259.3,423.3 1260.3,407.4 1261.3,451.2 1262.3,477.0 1264.2,502.9 1265.2,518.8 1266.6,550.6 1268.2,554.6 1269.7,564.0 1271.2,572.5 1273.2,582.5M1275.2,500.9 1276.2,518.8 1278.2,544.7 1279.2,568.5 1280.2,608.3 1282.2,578.5 1284.1,548.7 1285.1,500.9 1287.1,534.7 1289.1,548.7 1291.1,550.6 1292.6,536.6 1294.1,524.8 1296.1,548.7 1297.4,552.8 1298.7,552.6 1300.1,558.6 1301.4,554.7 1302.7,556.1 1304.0,550.6 1305.4,555.6 1306.7,554.8 1308.0,558.6 1309.5,563.7 1311.0,564.6 1313.0,572.5 1315.0,598.4 1317.0,610.3 1319.0,614.3 1319.9,628.2M1322.9,638.2 1324.9,568.5M1325.9,496.9 1327.9,491.0 1328.9,479.0M1397.9,550.6 1399.9,538.7 1401.4,534.6 1402.9,532.7 1404.4,532.4 1405.9,526.8 1407.2,524.3 1408.5,518.3 1409.8,514.8 1411.3,509.4 1412.8,506.9 1414.3,498.0 1415.8,494.9 1417.8,483.0 1419.8,479.0 1421.8,459.1 1423.8,451.2 1425.3,445.5 1426.7,435.3 1428.7,457.2 1430.7,475.1 1432.7,487.0 1433.7,518.8 1435.7,508.9 1437.7,479.0 1439.7,469.1 1441.2,461.3 1442.7,459.1 1444.2,459.1 1445.6,455.2 1447.0,456.6 1448.3,452.9 1449.6,451.2 1451.6,435.3 1453.6,399.5 1455.6,431.3 1457.6,439.2 1459.6,451.2 1461.6,473.1 1463.5,429.3 1465.5,393.5 1467.5,443.2 1469.5,419.4 1471.5,395.5 1473.5,377.6 1475.5,371.6M1480.5,475.1 1482.4,463.1 1484.4,451.2 1485.4,431.3 1486.9,409.4 1488.4,391.5 1490.4,351.7 1491.4,375.6 1492.4,407.4 1494.4,459.1 1495.9,449.4 1497.4,435.3 1499.4,423.3 1500.8,419.2 1502.3,409.4 1504.3,393.5 1506.3,423.3 1508.3,439.2 1510.3,459.1 1512.3,471.1 1513.3,493.0 1515.3,500.9 1516.6,505.5 1517.9,507.6 1519.2,510.9 1520.6,512.8 1521.9,515.2 1523.2,518.8 1524.6,517.7 1525.9,521.2 1527.2,520.8 1528.7,514.4 1530.2,508.9 1531.7,500.1 1533.2,494.9 1534.2,451.2 1535.7,442.8 1537.2,439.2 1539.1,483.0 1541.1,498.9M1543.1,514.8 1545.1,506.9 1546.6,501.9 1548.1,494.9 1549.6,489.7 1551.1,487.0 1552.6,486.0 1554.1,485.0 1555.1,498.9M1559.0,504.9 1561.0,518.8 1562.5,527.7 1564.0,538.7 1566.0,558.6 1568.0,548.7M1572.0,574.5 1573.0,546.7 1574.9,522.8 1576.4,519.1 1577.9,510.9 1579.9,538.7 1581.9,510.9 1583.9,479.0 1585.9,467.1 1587.9,465.1 1589.9,479.0 1591.9,514.8 1593.8,538.7 1595.3,549.1 1596.8,554.6 1598.2,553.1 1599.5,555.5 1600.8,558.6 1602.1,556.2 1603.5,558.9 1604.8,554.6 1606.3,548.4 1607.8,538.7 1609.3,524.8 1610.8,512.9 1612.2,504.2 1613.7,498.9 1615.2,495.0 1616.7,489.0 1618.2,490.0 1619.7,487.0 1621.2,505.5 1622.7,518.8 1623.7,554.6 1625.2,535.8 1626.7,518.8 1628.2,509.2 1629.7,494.9 1631.1,488.1 1632.6,479.0 1634.6,475.1 1636.1,481.9 1637.6,489.0 1637.0,494.9 1638.0,518.8 1639.0,530.8 1641.0,548.7 1642.5,552.6 1644.0,550.6 1645.4,553.0 1646.9,558.6 1647.9,568.5 1649.9,582.5 1651.9,606.3 1653.4,598.7 1654.9,588.4 1656.9,578.5 1658.9,558.6 1660.9,548.7 1662.8,526.8 1663.8,508.9 1665.8,485.0 1666.8,510.9 1668.3,511.4 1669.8,516.8 1671.3,519.8 1672.8,526.8 1674.3,535.2 1675.8,538.7 1677.3,541.0 1678.8,546.7 1680.1,547.6 1681.4,545.9 1682.7,544.7 1684.1,546.1 1685.4,542.6 1686.7,542.7 1688.7,532.7M1690.7,558.6 1691.7,568.5 1693.2,572.6 1694.7,578.5 1696.7,590.4 1698.7,568.5M1702.6,622.3 1704.6,628.2M1714.6,626.2 1716.6,618.3 1718.5,598.4 1720.5,570.5 1722.5,610.3 1724.5,614.3 1726.5,630.2 1728.5,606.3M1730.5,441.2 1732.5,479.0 1734.5,518.8 1736.5,528.8 1738.4,558.6 1740.4,578.5 1742.4,598.4 1744.4,618.3 1746.4,630.2 1747.4,588.4 1748.4,538.7 1750.4,518.8 1752.4,514.8 1754.4,518.8 1756.3,522.8 1758.3,544.7 1760.3,528.8 1762.3,508.9M1766.3,504.9 1768.3,489.0 1770.3,506.9 1771.6,507.0 1772.9,511.7 1774.2,510.9 1775.6,512.8 1776.9,516.2 1778.2,514.8 1779.7,524.1 1781.2,528.8 1783.2,538.7 1785.2,554.6 1787.2,558.6 1788.2,570.5 1790.2,588.4 1792.2,602.4 1794.1,614.3 1795.6,618.1 1797.1,626.2 1798.6,631.5 1800.1,636.2 1801.4,633.1 1802.8,632.1 1804.1,634.2 1805.4,627.7 1806.7,628.4 1808.1,622.3 1809.4,620.0 1810.7,616.3 1812.0,610.3 1813.4,606.7 1814.7,605.7 1816.0,602.4 1817.3,606.0 1818.7,605.6 1820.0,608.3 1822.0,548.7 1824.0,558.6 1825.5,561.0 1827.0,562.6 1828.5,557.9 1829.9,556.6 1831.9,574.5 1832.9,582.5 1834.9,598.4M1839.9,586.5 1840.9,558.6 1842.9,546.7 1844.4,539.2 1845.9,536.7 1847.2,532.7 1848.5,533.8 1849.8,528.8 1851.2,530.5 1852.5,534.0 1853.8,532.7 1855.3,537.5 1856.8,542.7 1858.3,549.3 1859.8,558.6 1861.8,578.5 1863.8,598.4 1865.8,618.3 1867.7,626.2 1869.7,614.3 1871.2,606.1 1872.7,594.4 1874.2,588.4 1875.7,578.5 1877.7,582.5 1879.2,585.5 1880.7,594.4 1882.7,582.5 1884.7,608.3 1886.1,614.3 1887.6,618.3 1889.1,620.8 1890.6,628.2 1890.0,618.3 1892.0,622.3 1894.0,634.2 1895.5,635.9 1897.0,642.2 1898.5,649.4 1899.9,652.1 1901.9,628.2 1902.9,602.4 1903.9,570.5 1904.9,548.7 1906.9,538.7 1908.9,526.8 1910.9,518.8 1912.4,511.1 1913.9,508.9 1914.9,473.1 1916.4,474.5 1917.8,479.0 1919.3,472.0 1920.8,459.1 1922.8,479.0 1924.3,483.5 1925.8,489.0 1927.8,508.9 1928.8,522.8 1930.8,538.7 1931.8,556.6 1933.8,574.5 1935.8,592.4 1937.7,608.3 1939.7,622.3 1941.2,625.9 1942.7,634.2 1944.2,634.2 1945.7,638.2 1947.2,630.7 1948.7,626.2 1950.2,633.7 1951.7,638.2 1953.0,627.8 1954.3,624.7 1955.6,614.3 1957.1,625.5 1958.6,638.2 1960.1,645.0 1961.6,646.1 1963.1,644.6 1964.6,638.2 1966.1,625.0 1967.6,614.3 1969.6,602.4 1970.9,598.2 1972.2,596.9 1973.5,594.4 1975.0,586.0 1976.5,582.5 1977.5,554.6 1979.5,534.7 1981.5,518.8 1983.0,513.8 1984.5,506.9 1986.0,508.1 1987.5,514.8 1989.5,534.7 1991.5,508.9 1993.4,447.2 1995.4,479.0 1996.9,486.0 1998.4,498.9 2000.4,457.2 2001.4,510.9 2003.4,518.8 2005.4,538.7 2007.4,558.6 2009.4,566.6 2011.3,538.7 2012.8,532.7 2014.3,520.8 2016.3,550.6M2021.3,578.5 2023.3,598.4 2025.3,610.3 2027.3,622.3 2029.2,638.2 2030.7,638.9 2032.2,642.2 2033.7,630.8 2035.2,618.3 2036.2,574.5 2038.2,558.6 2040.2,544.7 2042.2,528.8 2044.2,502.9 2045.7,510.6 2047.2,518.8 2049.1,538.7 2051.1,558.6 2053.1,578.5 2055.1,588.4 2057.1,568.5 2059.1,562.6 2060.6,564.4 2062.1,568.5 2064.1,582.5 2066.0,598.4 2068.0,578.5 2070.0,558.6 2071.0,538.7 2073.0,524.8 2074.5,515.2 2076.0,510.9 2077.0,487.0 2078.5,500.4 2080.0,508.9 2082.0,528.8 2084.0,542.7 2085.9,558.6 2087.9,568.5 2089.4,576.3 2090.9,578.5 2092.9,568.5M2096.9,618.3 2098.9,602.4 2100.4,598.2 2101.9,588.4 2103.8,594.4 2105.3,604.0 2106.8,618.3 2108.8,634.2 2110.1,633.8 2111.5,637.6 2112.8,638.2 2114.1,642.4 2115.4,641.1 2116.8,642.2 2118.1,644.6 2119.4,645.8 2120.8,646.1 2122.1,647.3 2123.4,651.7 2124.7,654.1 2126.1,654.3 2127.4,655.2 2128.7,658.1 2130.0,656.9 2131.4,659.4 2132.7,662.0 2134.0,666.3 2135.3,664.4 2136.7,666.0M2139.7,638.2 2141.6,618.3 2143.6,594.4 2145.6,578.5 2147.6,558.6 2148.8,546.9 2150.3,543.8 2151.8,538.9 2153.3,537.8 2154.7,534.9 2156.7,546.9 2158.2,555.5 2159.7,558.8 2161.7,566.8 2163.7,568.8M2166.7,519.0 2167.7,515.0 2168.7,497.1 2170.7,509.0 2172.7,525.0 2174.2,526.3 2175.7,528.9 2177.1,530.8 2178.6,534.9 2180.1,538.9 2181.6,544.9 2183.1,547.8 2184.6,552.8 2186.6,538.9 2188.6,528.9 2190.6,515.0 2191.6,491.1 2193.1,497.2 2194.6,499.1 2196.6,509.0 2197.9,519.0" fill="none" stroke="#4472C4" stroke-width="2.6" stroke-linejoin="round"/>
<defs><marker id="mk1" markerUnits="userSpaceOnUse" markerWidth="9.0" markerHeight="6.2" refX="4.0" refY="2.6" overflow="visible"><path d="M0,2.6L4.0,0L8.0,2.6L4.0,5.2Z" fill="#27448a"/></marker></defs>
<polyline points="350.7,475.1 352.7,681.9 352.7,681.9 353.7,494.9 370.6,409.4 373.6,681.9 373.6,681.9 374.6,453.2 424.3,624.2 427.3,681.9 427.3,681.9 428.3,479.0 448.2,596.4 451.2,681.9 451.2,681.9 452.2,614.3 520.8,604.4 521.8,681.9 521.8,681.9 523.8,614.3 609.7,558.6 610.7,681.9 610.7,681.9 612.7,564.6 698.2,528.8 699.2,681.9 699.2,681.9 701.2,546.7 794.7,337.8 781.5,431.0 781.5,431.0 782.8,360.5 834.4,277.8 835.1,205.8 858.1,277.8 859.6,378.9 927.7,445.2 928.7,681.9 928.7,681.9 929.7,423.3 987.4,642.2 988.4,681.9 988.4,681.9 989.4,586.5 1060.0,650.1 1061.0,681.9 1061.0,681.9 1061.0,566.6 1082.9,554.6 1084.8,681.9 1084.8,681.9 1085.8,491.0 1106.7,542.7 1110.7,681.9 1110.7,681.9 1111.7,582.5 1147.9,638.2 1148.9,681.9 1148.9,681.9 1149.9,668.0 1167.8,506.9 1169.8,681.9 1169.8,681.9 1170.8,546.7 1177.7,546.7 1179.7,681.9 1179.7,681.9 1180.7,560.6 1273.2,582.5 1275.2,500.9 1319.9,628.2 1321.9,681.9 1321.9,681.9 1322.9,638.2 1324.9,568.5 1325.9,496.9 1328.9,479.0 1396.9,681.9 1396.9,681.9 1400.9,674.0 1400.9,674.0 1397.9,550.6 1475.5,371.6 1477.5,459.1 1477.5,459.1 1479.5,681.9 1479.5,681.9 1480.5,475.1 1541.1,498.9 1542.1,681.9 1542.1,681.9 1543.1,514.8 1555.1,498.9 1557.0,681.9 1557.0,681.9 1559.0,504.9 1568.0,548.7 1571.0,681.9 1571.0,681.9 1572.0,574.5 1688.7,532.7 1689.1,681.9 1689.1,681.9 1690.7,558.6 1698.7,568.5 1700.6,681.9 1700.6,681.9 1702.6,622.3 1704.6,628.2 1706.6,681.9 1706.6,681.9 1708.6,630.2 1708.6,630.2 1710.6,681.9 1710.6,681.9 1711.6,638.2 1711.6,638.2 1713.6,681.9 1713.6,681.9 1714.6,626.2 1728.5,606.3 1728.5,516.8 1728.5,516.8 1730.5,441.2 1762.3,508.9 1765.3,681.9 1765.3,681.9 1766.3,504.9 1834.9,598.4 1836.9,681.9 1836.9,681.9 1839.9,586.5 2016.3,550.6 2020.3,681.9 2020.3,681.9 2021.3,578.5 2092.9,568.5 2094.9,681.9 2094.9,681.9 2096.9,618.3 2136.7,666.0 2138.7,681.9 2138.7,681.9 2139.7,638.2 2163.7,568.8 2165.7,682.2 2165.7,682.2 2166.7,519.0 306.0,479.0 307.5,482.8 309.0,491.0 310.9,498.9 312.9,506.9 314.9,491.0 316.9,475.1 318.9,455.2 320.9,465.1 322.9,463.1 324.9,471.1 325.9,493.0 326.9,504.9 327.8,530.8 328.8,556.6 329.8,568.5 331.8,572.5 333.3,577.6 334.8,578.5 335.8,574.5 337.8,558.6 338.8,546.7 339.8,534.7 340.8,526.8 341.8,502.9 342.8,485.0 344.8,483.0 345.8,506.9 347.7,518.8 349.7,506.9 350.7,475.1 353.7,494.9 354.7,475.1 356.7,471.1 356.7,447.2 358.7,439.2 359.7,421.3 361.7,409.4 363.7,397.5 365.1,394.1 366.6,387.5 367.6,363.7 368.6,335.8 369.6,365.6 370.6,409.4 374.6,453.2 375.6,479.0 377.6,483.0 379.6,479.0 381.6,494.9 383.5,471.1 385.5,455.2 387.5,467.1 389.5,491.0 389.9,504.9 391.5,510.9 393.5,514.8 395.5,506.9 397.5,498.9 399.5,518.8 401.5,528.8 403.4,534.7 405.4,538.7 407.4,542.7 409.4,548.7 411.4,566.6 412.4,524.8 413.4,457.2 414.4,498.9 415.4,548.7 416.4,592.4 418.4,598.4 420.4,602.4 421.3,586.5 422.3,616.3 424.3,624.2 428.3,479.0 429.3,443.2 430.3,498.9 431.3,562.6 432.3,514.8 434.3,532.7 436.3,500.9 437.3,471.1 439.2,453.2 440.2,471.1 441.2,491.0 442.2,514.8 443.2,544.7 444.2,562.6 446.2,596.4 448.2,596.4 452.2,614.3 453.7,611.8 455.2,612.3 457.2,606.3 459.1,598.4 460.1,556.6 461.1,530.8 463.1,522.8 465.1,542.7 467.1,560.6 469.1,578.5 471.1,594.4 472.6,596.4 474.1,598.4 475.6,596.1 477.0,594.4 479.0,586.5 481.0,576.5 482.0,556.6 484.0,544.7 485.5,543.6 487.0,540.7 488.3,542.4 489.6,538.3 491.0,540.7 492.3,538.5 493.6,544.0 494.9,542.7 496.3,544.3 497.6,548.2 498.9,548.7 500.3,548.3 501.6,553.6 502.9,556.6 504.9,570.5 506.9,582.5 508.9,594.4 510.9,602.4 512.9,588.4 514.8,592.4 516.8,596.4 518.8,600.4 520.8,604.4 523.8,614.3 524.8,574.5 525.8,548.7 526.8,528.8 527.8,512.9 528.8,494.9 530.8,493.0 532.7,496.9 534.7,500.9 536.2,507.2 537.7,510.9 539.7,514.8 540.7,538.7 541.7,550.6 542.7,564.6 544.7,582.5 546.7,594.4 548.7,610.3 550.6,618.3 552.1,620.6 553.6,626.2 555.1,629.9 556.6,628.2 557.0,626.2 559.0,576.5 560.0,538.7 562.0,510.9 564.0,518.8 565.9,538.7 567.9,556.6 569.4,544.1 570.9,526.8 572.9,536.7 574.9,554.6 576.9,566.6 578.9,582.5 580.4,585.6 581.9,594.4 583.3,592.6 584.8,596.4 586.8,558.6 588.8,596.4 590.8,598.4 592.8,578.5 594.8,558.6 596.8,550.6 598.8,538.7 600.3,533.0 601.7,526.8 603.7,548.7 605.2,553.3 606.7,552.6 608.2,554.9 609.7,558.6 612.7,564.6 614.0,565.5 615.3,569.4 616.7,572.5 618.0,561.1 619.3,553.6 620.6,546.7 622.6,554.6 624.6,570.5 626.6,578.5 628.1,584.1 629.6,590.4 631.1,597.4 632.6,604.4 634.6,614.3 636.6,622.3 638.1,616.7 639.5,614.3 641.0,617.7 642.5,624.2 643.9,624.6 645.2,628.0 646.5,630.2 648.5,626.2 650.5,614.3 652.0,607.1 653.5,602.4 655.0,593.5 656.5,590.4 658.4,538.7 659.4,570.5 661.4,602.4 663.4,618.3 664.4,586.5 666.4,578.5 668.4,566.6 670.4,576.5 672.4,588.4 674.4,590.4 675.8,590.5 677.3,586.5 679.3,566.6 680.8,558.9 682.3,550.6 683.8,543.5 685.3,534.7 686.8,530.9 688.3,530.8 689.6,531.1 690.9,527.6 692.3,522.8 693.8,514.6 695.2,510.9 696.2,498.9 698.2,528.8 701.2,546.7 703.2,558.6 705.2,570.5 707.2,582.5 709.2,600.4 710.7,608.3 712.2,618.3 713.5,622.9 714.8,626.2 716.1,628.2 717.5,634.2 718.8,634.4 720.1,638.2 721.6,639.2 723.1,636.2 724.6,632.2 726.1,626.2 728.1,610.3 730.1,598.4 732.0,604.4 733.0,586.5 735.0,578.5 736.0,558.6 738.0,544.7 740.0,532.7 741.0,514.8 743.0,508.9 744.0,483.0 745.0,451.2 746.0,504.9 748.0,550.6 749.0,576.5 750.9,590.4 751.9,604.4 753.4,610.1 754.9,618.3 756.9,614.3 758.9,578.5 759.9,526.8 759.9,459.1 761.9,479.0 763.9,498.9 765.9,518.8 767.4,529.3 768.8,538.7 770.8,546.7 771.8,532.7 772.8,489.0 774.8,471.1 776.8,453.2 778.8,441.2 779.8,433.3 780.8,411.4 781.8,389.5 782.8,361.7 784.3,374.9 785.8,383.5 787.2,395.6 788.7,403.4 790.7,413.4 792.7,387.5 793.7,359.7 794.7,337.8 782.8,360.5 784.6,385.0 786.1,388.9 787.7,392.7 789.2,403.2 790.7,412.6 792.3,385.0 793.8,372.8 794.5,359.0 795.3,337.5 796.1,316.1 797.6,296.2 798.8,298.0 799.9,305.4 801.1,293.9 802.2,285.5 803.4,285.0 804.5,280.9 806.0,267.1 807.6,282.4 808.7,287.3 809.9,293.1 811.0,295.0 812.2,300.8 812.9,323.8 812.2,362.1 813.3,366.2 814.5,369.7 816.0,354.4 816.8,293.1 817.5,238.0 818.7,240.0 819.8,239.5 821.3,247.2 822.9,293.1 823.6,331.4 824.4,380.4 825.2,346.7 826.7,308.5 828.2,254.9 829.0,247.2 829.8,262.5 831.3,293.1 832.8,323.8 833.6,293.1 834.4,277.8 835.1,205.8 835.9,192.1 836.7,156.1 837.4,201.3 838.2,231.9 839.0,245.7 839.7,270.2 840.5,299.3 841.3,317.6 842.0,331.4 843.6,343.7 845.1,362.1 846.6,377.4 847.8,374.6 848.9,369.7 850.1,363.6 851.2,359.0 852.7,345.2 853.5,326.8 855.0,293.1 856.6,267.1 858.1,277.8 859.6,378.9 861.2,339.1 862.7,274.8 864.2,283.6 865.8,293.1 867.3,308.5 868.8,342.1 870.4,369.7 871.1,391.1 872.6,415.7 874.2,438.6 875.0,439.2 876.0,455.2 877.0,469.1 878.0,493.0 879.4,494.0 880.9,494.9 881.9,512.9 883.9,530.8 885.9,542.7 887.9,564.6 889.9,558.6 891.9,546.7 893.9,534.7 894.9,502.9 895.9,485.0 896.9,465.1 897.8,439.2 899.8,433.3 901.8,471.1 903.3,466.8 904.8,459.1 905.8,443.2 907.8,427.3 909.8,393.5 911.8,417.4 913.3,416.5 914.8,415.4 916.7,463.1 917.7,427.3 919.7,385.5 921.7,379.6 923.7,369.6 924.7,403.4 926.7,423.3 927.7,445.2 929.7,423.3 931.0,420.0 932.3,418.0 933.7,415.4 935.0,403.3 936.3,394.1 937.6,387.5 939.1,392.7 940.6,395.5 942.1,402.4 943.6,403.4 945.1,396.0 946.6,387.5 948.1,400.8 949.6,415.4 950.6,435.3 951.6,461.1 952.6,483.0 954.5,520.8 956.5,536.7 957.5,552.6 958.5,578.5 959.5,598.4 960.8,594.4 962.2,594.4 963.5,592.4 964.8,600.0 966.1,603.3 967.5,606.3 968.8,610.6 970.1,616.5 971.5,618.3 972.8,619.3 974.1,623.7 975.4,626.2 976.8,631.6 978.1,632.0 979.4,634.2 980.7,635.3 982.1,635.5 983.4,638.2 984.7,639.8 986.0,643.6 987.4,642.2 989.4,586.5 990.4,562.6 991.3,536.7 993.3,475.1 994.7,468.1 996.0,468.8 997.3,463.1 999.3,487.0 1001.3,514.8 1003.3,528.8 1005.3,522.8 1007.3,514.8 1009.2,494.9 1011.2,471.1 1012.7,475.0 1014.2,475.1 1015.5,476.0 1016.9,473.8 1018.2,471.1 1019.7,480.9 1021.2,487.0 1023.2,508.9 1024.2,528.8 1025.2,554.6 1027.2,590.4 1029.1,604.4 1030.5,609.1 1031.8,614.0 1033.1,618.3 1034.4,619.2 1035.8,618.3 1037.1,622.3 1038.4,625.8 1039.8,625.3 1041.1,626.2 1042.4,627.1 1043.7,631.6 1045.1,634.2 1046.4,635.4 1047.7,636.0 1049.0,638.2 1050.4,638.6 1051.7,641.1 1053.0,642.2 1054.3,644.2 1055.7,645.5 1057.0,646.1 1058.5,647.9 1060.0,650.1 1061.0,566.6 1062.0,538.7 1064.0,538.7 1065.4,531.9 1066.9,530.8 1068.3,527.1 1069.6,524.8 1070.9,524.8 1072.2,527.9 1073.6,532.3 1074.9,532.7 1076.4,542.5 1077.9,548.7 1079.4,552.4 1080.9,552.6 1082.9,554.6 1085.8,491.0 1087.3,488.9 1088.8,483.0 1090.3,478.6 1091.8,477.0 1093.3,472.1 1094.8,463.1 1096.8,491.0 1098.3,497.0 1099.8,500.9 1101.3,503.4 1102.7,510.9 1104.7,524.8 1106.7,542.7 1111.7,582.5 1113.0,574.9 1114.3,570.3 1115.7,568.5 1117.2,563.1 1118.7,554.6 1120.6,546.7 1122.1,554.1 1123.6,564.6 1124.6,586.5 1126.6,598.4 1126.0,586.5 1127.0,598.4 1129.0,610.3 1131.0,618.3 1132.5,617.9 1134.0,622.3 1135.4,625.0 1136.9,626.2 1138.3,626.6 1139.6,626.3 1140.9,630.2 1142.2,629.5 1143.6,633.0 1144.9,634.2 1146.4,634.2 1147.9,638.2 1149.9,668.0 1150.9,606.3 1152.4,599.0 1153.8,594.4 1155.3,593.7 1156.8,590.4 1158.3,588.2 1159.8,586.5 1161.8,564.6 1162.8,546.7 1163.8,526.8 1165.8,518.8 1167.8,506.9 1170.8,546.7 1172.7,522.8 1174.2,515.8 1175.7,510.9 1176.7,518.8 1177.7,546.7 1180.7,560.6 1182.7,568.5 1184.0,569.7 1185.3,568.3 1186.7,572.5 1188.2,571.4 1189.7,571.1 1191.1,569.2 1192.6,570.5 1194.0,563.6 1195.3,563.7 1196.6,556.6 1198.6,564.6 1200.6,578.5 1202.1,582.5 1203.6,586.5 1205.1,587.7 1206.6,592.4 1207.9,595.0 1209.2,598.3 1210.5,598.4 1211.9,594.2 1213.2,592.8 1214.5,594.4 1215.8,593.0 1217.2,597.0 1218.5,596.4 1220.0,597.3 1221.5,602.4 1223.5,612.3 1225.0,616.5 1226.5,618.3 1227.8,621.3 1229.1,622.5 1230.4,624.2 1231.9,627.5 1233.4,634.2 1234.9,640.0 1236.4,640.2 1237.7,642.6 1239.1,641.6 1240.4,642.2 1241.7,641.2 1243.0,644.4 1244.4,644.1 1245.8,640.5 1247.3,638.2 1249.3,622.3 1250.3,610.3 1251.3,594.4 1252.3,570.5 1253.3,558.6 1254.3,536.7 1256.3,538.7 1256.3,500.9 1258.3,475.1 1259.3,423.3 1260.3,407.4 1261.3,451.2 1262.3,477.0 1264.2,502.9 1265.2,518.8 1266.6,550.6 1268.2,554.6 1269.7,564.0 1271.2,572.5 1273.2,582.5 1275.2,500.9 1276.2,518.8 1278.2,544.7 1279.2,568.5 1280.2,608.3 1282.2,578.5 1284.1,548.7 1285.1,500.9 1287.1,534.7 1289.1,548.7 1291.1,550.6 1292.6,536.6 1294.1,524.8 1296.1,548.7 1297.4,552.8 1298.7,552.6 1300.1,558.6 1301.4,554.7 1302.7,556.1 1304.0,550.6 1305.4,555.6 1306.7,554.8 1308.0,558.6 1309.5,563.7 1311.0,564.6 1313.0,572.5 1315.0,598.4 1317.0,610.3 1319.0,614.3 1319.9,628.2 1322.9,638.2 1324.9,568.5 1325.9,496.9 1327.9,491.0 1328.9,479.0 1397.9,550.6 1399.9,538.7 1401.4,534.6 1402.9,532.7 1404.4,532.4 1405.9,526.8 1407.2,524.3 1408.5,518.3 1409.8,514.8 1411.3,509.4 1412.8,506.9 1414.3,498.0 1415.8,494.9 1417.8,483.0 1419.8,479.0 1421.8,459.1 1423.8,451.2 1425.3,445.5 1426.7,435.3 1428.7,457.2 1430.7,475.1 1432.7,487.0 1433.7,518.8 1435.7,508.9 1437.7,479.0 1439.7,469.1 1441.2,461.3 1442.7,459.1 1444.2,459.1 1445.6,455.2 1447.0,456.6 1448.3,452.9 1449.6,451.2 1451.6,435.3 1453.6,399.5 1455.6,431.3 1457.6,439.2 1459.6,451.2 1461.6,473.1 1463.5,429.3 1465.5,393.5 1467.5,443.2 1469.5,419.4 1471.5,395.5 1473.5,377.6 1475.5,371.6 1480.5,475.1 1482.4,463.1 1484.4,451.2 1485.4,431.3 1486.9,409.4 1488.4,391.5 1490.4,351.7 1491.4,375.6 1492.4,407.4 1494.4,459.1 1495.9,449.4 1497.4,435.3 1499.4,423.3 1500.8,419.2 1502.3,409.4 1504.3,393.5 1506.3,423.3 1508.3,439.2 1510.3,459.1 1512.3,471.1 1513.3,493.0 1515.3,500.9 1516.6,505.5 1517.9,507.6 1519.2,510.9 1520.6,512.8 1521.9,515.2 1523.2,518.8 1524.6,517.7 1525.9,521.2 1527.2,520.8 1528.7,514.4 1530.2,508.9 1531.7,500.1 1533.2,494.9 1534.2,451.2 1535.7,442.8 1537.2,439.2 1539.1,483.0 1541.1,498.9 1543.1,514.8 1545.1,506.9 1546.6,501.9 1548.1,494.9 1549.6,489.7 1551.1,487.0 1552.6,486.0 1554.1,485.0 1555.1,498.9 1559.0,504.9 1561.0,518.8 1562.5,527.7 1564.0,538.7 1566.0,558.6 1568.0,548.7 1572.0,574.5 1573.0,546.7 1574.9,522.8 1576.4,519.1 1577.9,510.9 1579.9,538.7 1581.9,510.9 1583.9,479.0 1585.9,467.1 1587.9,465.1 1589.9,479.0 1591.9,514.8 1593.8,538.7 1595.3,549.1 1596.8,554.6 1598.2,553.1 1599.5,555.5 1600.8,558.6 1602.1,556.2 1603.5,558.9 1604.8,554.6 1606.3,548.4 1607.8,538.7 1609.3,524.8 1610.8,512.9 1612.2,504.2 1613.7,498.9 1615.2,495.0 1616.7,489.0 1618.2,490.0 1619.7,487.0 1621.2,505.5 1622.7,518.8 1623.7,554.6 1625.2,535.8 1626.7,518.8 1628.2,509.2 1629.7,494.9 1631.1,488.1 1632.6,479.0 1634.6,475.1 1636.1,481.9 1637.6,489.0 1637.0,494.9 1638.0,518.8 1639.0,530.8 1641.0,548.7 1642.5,552.6 1644.0,550.6 1645.4,553.0 1646.9,558.6 1647.9,568.5 1649.9,582.5 1651.9,606.3 1653.4,598.7 1654.9,588.4 1656.9,578.5 1658.9,558.6 1660.9,548.7 1662.8,526.8 1663.8,508.9 1665.8,485.0 1666.8,510.9 1668.3,511.4 1669.8,516.8 1671.3,519.8 1672.8,526.8 1674.3,535.2 1675.8,538.7 1677.3,541.0 1678.8,546.7 1680.1,547.6 1681.4,545.9 1682.7,544.7 1684.1,546.1 1685.4,542.6 1686.7,542.7 1688.7,532.7 1690.7,558.6 1691.7,568.5 1693.2,572.6 1694.7,578.5 1696.7,590.4 1698.7,568.5 1702.6,622.3 1704.6,628.2 1714.6,626.2 1716.6,618.3 1718.5,598.4 1720.5,570.5 1722.5,610.3 1724.5,614.3 1726.5,630.2 1728.5,606.3 1730.5,441.2 1732.5,479.0 1734.5,518.8 1736.5,528.8 1738.4,558.6 1740.4,578.5 1742.4,598.4 1744.4,618.3 1746.4,630.2 1747.4,588.4 1748.4,538.7 1750.4,518.8 1752.4,514.8 1754.4,518.8 1756.3,522.8 1758.3,544.7 1760.3,528.8 1762.3,508.9 1766.3,504.9 1768.3,489.0 1770.3,506.9 1771.6,507.0 1772.9,511.7 1774.2,510.9 1775.6,512.8 1776.9,516.2 1778.2,514.8 1779.7,524.1 1781.2,528.8 1783.2,538.7 1785.2,554.6 1787.2,558.6 1788.2,570.5 1790.2,588.4 1792.2,602.4 1794.1,614.3 1795.6,618.1 1797.1,626.2 1798.6,631.5 1800.1,636.2 1801.4,633.1 1802.8,632.1 1804.1,634.2 1805.4,627.7 1806.7,628.4 1808.1,622.3 1809.4,620.0 1810.7,616.3 1812.0,610.3 1813.4,606.7 1814.7,605.7 1816.0,602.4 1817.3,606.0 1818.7,605.6 1820.0,608.3 1822.0,548.7 1824.0,558.6 1825.5,561.0 1827.0,562.6 1828.5,557.9 1829.9,556.6 1831.9,574.5 1832.9,582.5 1834.9,598.4 1839.9,586.5 1840.9,558.6 1842.9,546.7 1844.4,539.2 1845.9,536.7 1847.2,532.7 1848.5,533.8 1849.8,528.8 1851.2,530.5 1852.5,534.0 1853.8,532.7 1855.3,537.5 1856.8,542.7 1858.3,549.3 1859.8,558.6 1861.8,578.5 1863.8,598.4 1865.8,618.3 1867.7,626.2 1869.7,614.3 1871.2,606.1 1872.7,594.4 1874.2,588.4 1875.7,578.5 1877.7,582.5 1879.2,585.5 1880.7,594.4 1882.7,582.5 1884.7,608.3 1886.1,614.3 1887.6,618.3 1889.1,620.8 1890.6,628.2 1890.0,618.3 1892.0,622.3 1894.0,634.2 1895.5,635.9 1897.0,642.2 1898.5,649.4 1899.9,652.1 1901.9,628.2 1902.9,602.4 1903.9,570.5 1904.9,548.7 1906.9,538.7 1908.9,526.8 1910.9,518.8 1912.4,511.1 1913.9,508.9 1914.9,473.1 1916.4,474.5 1917.8,479.0 1919.3,472.0 1920.8,459.1 1922.8,479.0 1924.3,483.5 1925.8,489.0 1927.8,508.9 1928.8,522.8 1930.8,538.7 1931.8,556.6 1933.8,574.5 1935.8,592.4 1937.7,608.3 1939.7,622.3 1941.2,625.9 1942.7,634.2 1944.2,634.2 1945.7,638.2 1947.2,630.7 1948.7,626.2 1950.2,633.7 1951.7,638.2 1953.0,627.8 1954.3,624.7 1955.6,614.3 1957.1,625.5 1958.6,638.2 1960.1,645.0 1961.6,646.1 1963.1,644.6 1964.6,638.2 1966.1,625.0 1967.6,614.3 1969.6,602.4 1970.9,598.2 1972.2,596.9 1973.5,594.4 1975.0,586.0 1976.5,582.5 1977.5,554.6 1979.5,534.7 1981.5,518.8 1983.0,513.8 1984.5,506.9 1986.0,508.1 1987.5,514.8 1989.5,534.7 1991.5,508.9 1993.4,447.2 1995.4,479.0 1996.9,486.0 1998.4,498.9 2000.4,457.2 2001.4,510.9 2003.4,518.8 2005.4,538.7 2007.4,558.6 2009.4,566.6 2011.3,538.7 2012.8,532.7 2014.3,520.8 2016.3,550.6 2021.3,578.5 2023.3,598.4 2025.3,610.3 2027.3,622.3 2029.2,638.2 2030.7,638.9 2032.2,642.2 2033.7,630.8 2035.2,618.3 2036.2,574.5 2038.2,558.6 2040.2,544.7 2042.2,528.8 2044.2,502.9 2045.7,510.6 2047.2,518.8 2049.1,538.7 2051.1,558.6 2053.1,578.5 2055.1,588.4 2057.1,568.5 2059.1,562.6 2060.6,564.4 2062.1,568.5 2064.1,582.5 2066.0,598.4 2068.0,578.5 2070.0,558.6 2071.0,538.7 2073.0,524.8 2074.5,515.2 2076.0,510.9 2077.0,487.0 2078.5,500.4 2080.0,508.9 2082.0,528.8 2084.0,542.7 2085.9,558.6 2087.9,568.5 2089.4,576.3 2090.9,578.5 2092.9,568.5 2096.9,618.3 2098.9,602.4 2100.4,598.2 2101.9,588.4 2103.8,594.4 2105.3,604.0 2106.8,618.3 2108.8,634.2 2110.1,633.8 2111.5,637.6 2112.8,638.2 2114.1,642.4 2115.4,641.1 2116.8,642.2 2118.1,644.6 2119.4,645.8 2120.8,646.1 2122.1,647.3 2123.4,651.7 2124.7,654.1 2126.1,654.3 2127.4,655.2 2128.7,658.1 2130.0,656.9 2131.4,659.4 2132.7,662.0 2134.0,666.3 2135.3,664.4 2136.7,666.0 2139.7,638.2 2141.6,618.3 2143.6,594.4 2145.6,578.5 2147.6,558.6 2148.8,546.9 2150.3,543.8 2151.8,538.9 2153.3,537.8 2154.7,534.9 2156.7,546.9 2158.2,555.5 2159.7,558.8 2161.7,566.8 2163.7,568.8 2166.7,519.0 2167.7,515.0 2168.7,497.1 2170.7,509.0 2172.7,525.0 2174.2,526.3 2175.7,528.9 2177.1,530.8 2178.6,534.9 2180.1,538.9 2181.6,544.9 2183.1,547.8 2184.6,552.8 2186.6,538.9 2188.6,528.9 2190.6,515.0 2191.6,491.1 2193.1,497.2 2194.6,499.1 2196.6,509.0 2197.9,519.0" fill="none" stroke="none" marker-start="url(#mk1)" marker-mid="url(#mk1)" marker-end="url(#mk1)"/>
<path d="M339.5,1360.6 339.5,1306.4 340.5,1306.8 341.5,1301.7 342.5,1291.3 343.5,1288.0 344.5,1290.4 345.5,1297.4 346.5,1294.4 347.5,1286.1 348.6,1276.3 349.6,1280.3 350.6,1278.0 351.6,1282.3 352.6,1286.6 353.6,1289.6 354.6,1291.3 356.1,1255.2 357.1,1251.2 358.1,1241.1 359.1,1240.1 360.1,1244.3 361.1,1248.9 362.1,1255.2 363.1,1262.9 364.1,1271.2 365.1,1270.3 366.1,1280.7 367.1,1280.8 368.1,1285.3 369.1,1286.7 370.1,1286.5 371.1,1291.3 372.1,1286.8 373.1,1287.7 374.1,1294.3 375.1,1287.9 376.2,1280.1 377.2,1276.3 378.3,1269.2 379.5,1269.6 380.7,1259.5 381.8,1254.3 383.0,1244.7 384.2,1236.4 385.4,1234.4 386.5,1226.4 387.7,1225.1 388.7,1237.3 389.7,1255.2 390.7,1261.2 391.7,1267.3 392.7,1265.4 393.7,1273.3 394.7,1275.0 395.7,1270.8 396.7,1264.2 398.2,1210.0 399.2,1200.8 400.2,1190.8 401.2,1173.9 402.2,1185.1 403.3,1193.4 404.3,1198.0 405.3,1200.3 406.3,1211.8 407.3,1210.0 408.3,1219.6 409.3,1214.0 410.3,1222.1 411.3,1233.2 412.3,1240.7 413.3,1246.2 414.8,1261.2 415.8,1250.7 416.8,1241.5 417.8,1231.1 418.8,1225.0 419.8,1224.2 420.8,1213.0 421.8,1225.1 422.8,1241.1 423.8,1249.2 424.8,1239.4 425.8,1237.7 426.8,1225.1 427.8,1219.9 428.8,1204.5 429.9,1195.0 430.9,1200.8 431.9,1210.1 432.9,1210.0 433.9,1220.8 434.9,1225.9 435.9,1234.1 436.9,1213.7 437.9,1197.9 438.9,1182.9 439.9,1170.3 440.9,1148.8 441.9,1137.8 442.9,1143.7 443.9,1137.0 444.9,1140.8 445.9,1140.7 446.9,1128.5 447.9,1125.7 448.9,1142.3 449.9,1150.3 450.9,1158.8 451.9,1164.9 452.9,1171.1 453.9,1176.9 454.9,1181.7 455.9,1184.0 457.0,1185.9 457.0,1237.1M458.5,1333.5 459.5,1351.3 460.5,1370.1 461.5,1393.7M463.0,1297.4 464.5,1321.4M466.0,1192.0 467.5,1152.8 468.5,1140.9 469.5,1133.9 470.5,1116.7 471.5,1114.2 472.5,1103.6 473.5,1104.6 475.0,1074.5 476.0,1070.3 477.0,1061.2 478.0,1050.4 479.0,1053.3 480.0,1042.7 481.0,1044.4 482.0,1033.3 483.0,1011.0 484.1,1002.3 485.1,1010.1 486.1,1011.6 487.1,1020.3 488.1,1007.0 489.1,1004.8 490.1,990.2 491.1,1005.6 492.1,1030.6 493.1,1050.4 494.6,1086.6 496.1,1101.6 497.1,1089.8 498.1,1066.5 499.1,1053.5 500.1,1038.9 501.1,1035.9 502.1,1020.3 503.1,1031.5 504.1,1047.0 505.1,1056.5 506.6,1116.7 508.1,1134.8M512.7,1315.4 513.7,1315.8 514.7,1325.8 515.7,1333.5 517.2,1351.6 518.7,1312.4M520.2,1189.0 521.7,1170.9 522.7,1181.0 523.7,1201.1 524.7,1213.0 525.7,1212.1 526.7,1226.5 527.7,1225.1M529.2,1306.4 530.7,1375.6M538.3,1267.2 539.3,1252.5 540.3,1251.9 541.3,1240.1 542.3,1245.4 543.3,1259.3 544.3,1273.3 545.4,1259.7 546.5,1234.5 547.7,1217.5 548.8,1204.0 549.8,1210.3 550.8,1210.7 551.8,1216.1 552.8,1223.6 553.8,1248.0 554.8,1255.2 555.8,1258.0 556.8,1263.7 557.8,1276.3 559.3,1312.4 560.3,1291.5 561.3,1275.7 562.3,1255.2 563.5,1254.3 564.6,1243.0 565.7,1242.0 566.9,1240.1 567.9,1243.6 568.9,1257.6 569.9,1267.2 570.9,1288.5 571.9,1306.3 572.9,1321.4 573.9,1338.3 574.9,1348.6 575.9,1357.6 577.4,1387.7 578.4,1382.0 579.4,1370.1 580.4,1357.6 581.9,1321.4 583.4,1291.3 584.9,1276.3M586.4,1198.0 587.4,1208.7 588.4,1216.8 589.4,1231.1 590.4,1243.1 591.4,1249.0 592.5,1261.2 594.0,1288.3M597.0,1201.0 598.5,1164.9 599.5,1152.1 600.5,1148.2 601.5,1140.8 602.5,1134.2 603.5,1114.2 604.5,1107.7 605.5,1114.7 606.5,1118.4 607.5,1125.7M612.0,1164.9 612.0,1231.1 613.2,1228.3 614.3,1220.8 615.4,1227.6 616.5,1219.1 617.5,1228.2 618.5,1244.4 619.6,1255.2 620.6,1246.2 621.6,1233.4 622.6,1231.1 623.6,1227.8 624.6,1218.8 625.6,1219.1 627.1,1189.0 628.1,1187.7 629.1,1191.4 630.1,1201.0 631.1,1216.0 632.1,1234.3 633.1,1258.2 634.6,1291.3 635.6,1299.0 636.6,1303.5 637.6,1309.4 638.6,1319.2 639.6,1322.6 640.6,1321.4 641.8,1319.9 642.9,1303.2 644.0,1298.2 645.1,1291.3 646.2,1285.3 647.2,1286.4 648.2,1282.3 649.2,1278.8 650.2,1275.9 651.2,1267.2M654.2,1369.6 655.7,1417.8M658.7,1321.4 659.7,1342.0 660.7,1354.7 661.7,1375.6 660.5,1356.7 659.2,1339.8 658.0,1321.4M661.0,1336.5 662.0,1343.6 663.0,1357.0 664.0,1375.6 665.5,1321.4 667.0,1345.5M670.1,1122.7 671.6,1071.5M673.1,1201.0 674.6,1158.8M677.6,1179.9 679.1,1222.1 680.6,1285.3 682.1,1321.4 683.1,1323.4 684.1,1322.8 685.1,1330.5 686.6,1375.6 688.1,1336.5 689.6,1405.8 691.1,1441.9 692.6,1472.0 694.1,1490.1 695.7,1441.9 697.2,1405.8 698.7,1363.6M700.2,1282.3 701.2,1284.0 702.2,1277.2 703.2,1279.3 704.7,1327.5 706.2,1375.6 707.2,1369.8 708.2,1369.8 709.2,1372.6 710.2,1361.4 711.2,1353.2 712.2,1348.5 713.3,1355.6 714.5,1361.7 715.6,1366.6 716.7,1375.6 717.7,1359.3 718.7,1336.1 719.7,1321.4 720.8,1317.3 721.8,1303.4 723.2,1318.0 724.5,1324.2 725.8,1330.5 726.9,1327.4 728.0,1326.1 729.1,1324.7 730.3,1321.4 731.4,1314.6 732.5,1317.5 733.7,1317.2 734.8,1315.4 735.9,1310.8 737.1,1309.0 738.2,1316.8 739.3,1312.4 740.3,1323.9 741.3,1338.7 742.3,1351.6 743.3,1372.7 744.3,1385.0 745.3,1399.7 746.8,1417.8M749.9,1321.4 751.4,1366.6M752.9,1441.9 754.4,1490.1M757.4,1411.8 758.9,1357.6 760.4,1291.3 761.9,1246.2 762.9,1246.7 763.9,1258.0 764.9,1255.2 765.9,1256.7 766.9,1255.5 767.9,1264.2 768.9,1269.5 769.9,1265.5 770.9,1273.3 771.9,1277.0 772.9,1289.4 773.9,1291.3 775.4,1345.5 777.0,1357.6 778.5,1411.8 779.5,1421.9 780.5,1422.0 781.5,1435.9 782.5,1437.3 783.5,1438.8 784.5,1441.9 785.5,1436.7 786.5,1428.4 787.5,1426.8 788.5,1441.0 789.5,1447.8 790.5,1466.0 792.0,1484.0M792.9,1354.6 794.0,1323.4 795.0,1297.4 796.0,1301.9 797.0,1314.6 798.0,1315.4 799.0,1317.4 800.0,1332.5 801.0,1336.5 802.0,1337.8 803.0,1347.4 804.1,1351.6 805.1,1342.2 806.1,1335.1 807.1,1327.5 808.2,1339.5 809.3,1344.3 810.5,1350.0 811.6,1363.6 812.7,1350.8 813.8,1342.0 815.0,1343.0 816.1,1330.5 817.1,1314.1 818.1,1299.9 819.1,1276.3 820.1,1274.6 821.1,1262.5 822.1,1264.2M825.1,1363.6 826.6,1306.4 827.6,1295.3 828.6,1283.6 829.6,1267.2 830.6,1261.9 831.7,1251.2 832.7,1243.2 833.7,1252.5 834.7,1264.7 835.7,1276.3 836.7,1286.9 837.7,1287.6 838.7,1297.4 839.7,1303.7 840.7,1309.1 841.7,1315.4 842.7,1325.9 843.7,1329.1 844.7,1330.5 845.7,1337.7 846.7,1338.5 847.7,1336.5 848.8,1326.5 850.0,1318.2 851.1,1313.8 852.2,1306.4 853.2,1311.5 854.2,1321.6 855.2,1330.5 856.2,1337.7 857.2,1345.5 858.3,1345.5 859.4,1355.6 860.5,1367.4 861.6,1367.8 862.8,1381.7 863.8,1390.0 864.8,1407.7 865.8,1411.8 866.9,1410.6 868.0,1416.8 869.2,1415.6 870.3,1423.8 871.4,1421.9 872.6,1434.6 873.7,1438.7 874.8,1435.9 875.8,1429.6 876.8,1415.4 877.8,1411.8 879.3,1363.6 880.3,1353.1 881.3,1344.3 882.3,1339.5 883.3,1330.5 884.3,1319.6 885.4,1306.4 886.4,1295.6 887.4,1286.6 888.4,1276.3 889.9,1222.1M892.9,1306.4 893.9,1317.8 894.9,1339.0 895.9,1354.6 896.9,1348.9 897.9,1335.6 898.9,1321.4 899.9,1307.6 900.9,1303.6 901.9,1294.3 902.9,1306.0 903.9,1309.5 904.9,1321.4 905.9,1319.2 906.9,1306.9 907.9,1300.4 908.9,1297.8 909.9,1289.2 910.9,1285.3 912.0,1286.2 913.0,1278.7 914.0,1270.3 915.1,1270.4 916.2,1264.5 917.3,1267.3 918.5,1267.2 919.6,1260.8 920.7,1266.9 921.9,1269.6 923.0,1264.2 924.0,1280.5 925.0,1304.5 926.0,1324.5 927.5,1351.6 928.5,1357.4 929.5,1362.5 930.5,1369.6 931.6,1375.2 932.8,1380.9 933.9,1381.1 935.0,1381.7 936.2,1385.1 937.3,1394.7 938.4,1390.9 939.6,1396.7 940.6,1406.7 941.6,1412.7 942.6,1417.8 943.6,1431.0 944.6,1442.1 945.6,1447.9 946.6,1458.7 947.6,1477.5 948.6,1490.1 949.6,1480.9 950.6,1476.0 951.6,1466.0 952.6,1455.7 953.6,1435.5 954.6,1417.8 956.1,1366.6 957.1,1355.7 958.1,1356.2 959.1,1351.6 960.1,1344.1 961.1,1336.1 962.1,1321.4 963.1,1307.2 964.1,1293.1 965.1,1273.3 966.2,1255.4 967.2,1254.5 968.2,1237.1M972.7,1390.7 974.2,1435.9M977.2,1351.6 978.2,1374.4 979.2,1393.0 980.2,1411.8M981.0,1336.5 982.0,1356.4 983.0,1371.2 984.0,1381.7M990.1,1261.2 991.6,1321.4 992.6,1334.7 993.6,1361.4 994.6,1375.6 996.1,1351.6 997.1,1334.7 998.1,1307.8 999.1,1291.3 1000.6,1315.4M1002.1,1231.1 1003.6,1201.0 1005.1,1152.8 1006.1,1151.7 1007.1,1145.8 1008.1,1140.8 1009.1,1145.1 1010.1,1160.5 1011.1,1164.9 1012.1,1150.5 1013.1,1146.1 1014.1,1134.8 1015.1,1127.9 1016.2,1119.8 1017.2,1116.7 1018.2,1119.5 1019.2,1120.3 1020.2,1122.7 1021.2,1133.2 1022.2,1156.4 1023.2,1164.9 1024.2,1157.7 1025.2,1154.9 1026.2,1158.8 1027.2,1152.6 1028.2,1150.8 1029.2,1140.8M1030.7,1213.0 1031.7,1230.0 1032.7,1246.2 1033.7,1258.2 1035.2,1195.0 1036.2,1190.8 1037.2,1189.0 1038.2,1182.9M1039.7,1098.6 1040.7,1096.6 1041.7,1095.8 1042.8,1098.6 1043.8,1104.7 1044.8,1105.0 1045.8,1116.7 1047.3,1176.9 1048.3,1149.8 1049.3,1135.8 1050.3,1110.7 1051.3,1102.7 1052.3,1105.6 1053.3,1098.6 1054.8,1062.5 1056.3,999.3 1057.8,1020.3 1059.3,1044.4 1060.8,1068.5 1062.3,1116.7 1063.8,1140.8 1064.8,1152.2 1065.8,1155.7 1066.8,1164.9 1067.8,1158.9 1068.8,1152.3 1069.9,1140.8 1070.9,1136.1 1071.9,1118.3 1072.9,1113.7 1073.9,1119.7 1074.9,1132.3 1075.9,1143.8 1076.9,1144.4 1077.9,1143.3 1078.9,1146.8 1079.9,1137.9 1080.9,1141.5 1081.9,1137.8 1082.9,1146.4 1083.9,1142.2 1084.9,1146.8 1086.4,1167.9 1087.9,1195.0 1089.4,1219.1 1090.9,1243.2 1091.9,1249.6 1092.9,1253.8 1093.9,1261.2 1094.9,1270.6 1095.9,1285.7 1097.0,1291.3 1098.5,1327.5 1100.0,1357.6 1101.5,1375.6 1103.0,1345.5 1104.5,1408.8 1106.0,1426.8 1107.5,1478.0M1110.5,1327.5 1112.0,1291.3 1113.5,1273.3 1115.0,1249.2 1116.0,1240.9 1117.0,1238.9 1118.0,1231.1 1119.2,1229.4 1120.3,1228.6 1121.4,1231.6 1122.5,1225.1 1123.5,1215.0 1124.6,1218.9 1125.6,1210.0 1126.6,1199.7 1127.6,1195.7 1128.6,1185.9 1129.6,1183.5 1130.6,1175.7 1131.6,1167.9 1132.6,1167.6 1133.6,1174.0 1134.6,1170.9 1135.6,1176.0 1136.6,1192.6 1137.6,1201.0 1139.1,1225.1 1140.1,1225.8 1141.1,1229.5 1142.1,1231.1 1143.1,1241.3 1144.1,1246.7 1145.1,1249.2 1146.6,1258.2 1148.1,1216.1 1149.1,1210.6 1150.1,1199.7 1151.2,1195.0 1152.2,1193.8 1153.2,1198.5 1154.2,1201.0 1155.2,1203.8 1156.2,1210.4 1157.2,1219.1 1158.2,1234.6 1159.2,1234.5 1160.2,1249.2 1161.2,1260.0 1162.2,1261.8 1163.2,1270.3 1164.2,1277.7 1165.2,1286.1 1166.2,1297.4 1167.7,1333.5 1169.2,1369.6 1170.2,1372.6 1171.2,1385.2 1172.2,1393.7 1173.2,1395.7 1174.2,1405.1 1175.2,1411.8 1176.4,1406.3 1177.5,1410.5 1178.6,1407.8 1179.8,1399.7 1180.8,1415.1 1181.8,1433.5 1182.8,1447.9 1183.8,1441.0 1184.8,1421.7 1185.8,1411.8 1186.9,1410.7 1188.0,1416.2 1189.2,1419.3 1190.3,1426.8 1191.4,1432.7 1192.6,1432.9 1193.7,1436.4 1194.8,1441.9 1195.8,1453.5 1196.8,1454.8 1197.8,1466.0 1198.8,1470.7 1199.8,1469.6 1200.8,1469.0 1202.3,1426.8M1203.8,1351.6 1205.4,1321.4 1206.4,1300.2 1207.4,1285.2 1208.4,1261.2 1209.4,1258.3 1210.4,1263.8 1211.4,1258.2 1212.4,1274.4 1213.4,1280.3 1214.4,1291.3 1215.4,1311.7 1216.4,1332.9 1217.4,1345.5 1218.9,1315.4 1219.9,1310.3 1220.9,1302.4 1221.9,1291.3 1223.0,1294.3 1224.2,1293.6 1225.3,1289.9 1226.4,1285.3 1227.6,1289.6 1228.7,1279.8 1229.8,1282.3 1230.9,1279.3 1232.0,1285.4 1233.0,1285.7 1234.0,1291.3 1235.5,1321.4 1236.5,1332.2 1237.5,1341.6 1238.5,1357.6 1240.0,1399.7 1241.5,1460.0 1242.5,1454.4 1243.5,1436.1 1244.5,1426.8 1245.5,1415.5 1246.5,1409.5 1247.5,1393.7 1248.5,1401.0 1249.5,1421.3 1250.5,1426.8 1251.5,1435.4 1252.5,1447.3 1253.5,1466.0 1254.5,1451.1 1255.5,1438.2 1256.5,1426.8 1257.7,1435.6 1258.8,1439.0 1259.9,1441.3 1261.1,1441.9 1262.1,1449.2 1263.1,1458.5 1264.1,1466.0 1265.2,1453.0 1266.3,1450.4 1267.5,1435.3 1268.6,1426.8 1269.6,1417.2 1270.6,1414.4 1271.6,1405.8M1273.1,1321.4 1274.6,1276.3 1275.6,1277.1 1276.6,1284.1 1277.6,1291.3 1278.6,1301.5 1279.6,1296.5 1280.6,1306.4 1281.8,1305.9 1282.9,1310.4 1284.0,1314.7 1285.1,1321.4 1286.2,1324.5 1287.2,1326.5 1288.2,1333.5 1289.2,1339.6 1290.2,1346.5 1291.2,1357.6 1292.2,1342.4 1293.2,1334.8 1294.2,1321.4 1295.7,1294.3 1296.7,1285.4 1297.7,1278.8 1298.7,1273.3 1299.7,1272.5 1300.7,1260.0 1301.7,1261.2 1302.9,1255.4 1304.0,1258.2 1305.0,1273.5 1306.0,1279.5 1307.0,1291.3 1308.6,1309.4 1310.1,1321.4 1311.6,1357.6 1313.1,1375.6 1314.1,1386.0 1315.1,1385.3 1316.1,1396.7 1317.1,1381.9 1318.1,1370.8 1319.1,1351.6 1320.1,1348.6 1321.1,1352.8 1322.1,1348.5 1323.6,1327.5 1325.1,1306.4 1326.1,1308.7 1327.1,1307.1 1328.1,1309.4 1329.1,1323.4 1330.1,1324.2 1331.1,1333.5 1332.6,1381.7 1334.1,1405.8 1335.7,1423.8 1336.8,1417.5 1337.9,1413.2 1339.0,1403.6 1340.2,1399.7 1341.2,1405.8 1342.2,1404.9 1343.2,1405.8 1344.2,1413.8 1345.2,1420.3 1346.2,1426.8 1347.2,1443.7 1348.2,1454.8 1349.2,1460.0 1350.7,1490.1 1351.7,1478.1 1352.7,1457.4 1353.7,1441.9M1355.2,1369.6 1356.2,1372.6 1357.2,1378.0 1358.2,1381.7 1359.4,1374.7 1360.5,1374.0 1361.6,1383.1 1362.8,1375.6 1364.3,1402.7 1365.3,1379.2 1366.3,1369.9 1367.3,1345.5 1368.8,1303.4 1369.8,1305.5 1370.8,1308.4 1371.8,1303.4 1372.8,1287.3 1373.8,1279.0 1374.8,1270.3 1375.8,1280.9 1376.8,1278.4 1377.8,1291.3 1378.8,1289.6 1379.8,1295.6 1380.8,1300.4 1382.3,1330.5 1383.3,1347.6 1384.3,1368.4 1385.3,1393.7 1386.8,1357.6 1387.8,1347.6 1388.8,1328.6 1389.9,1321.4 1390.9,1321.1 1391.9,1311.2 1392.9,1303.4 1393.9,1303.0 1394.9,1318.2 1395.9,1318.4 1396.9,1318.3 1397.9,1324.2 1398.9,1327.5 1400.0,1329.7 1401.1,1326.1 1402.3,1332.0 1403.4,1333.5 1404.5,1329.7 1405.7,1332.9 1406.8,1343.0 1407.9,1339.5 1409.0,1344.9 1410.2,1342.8 1411.3,1346.2 1412.4,1345.5 1413.6,1347.8 1414.7,1336.7 1415.8,1338.7 1417.0,1336.5 1418.0,1333.1 1419.0,1333.9 1420.0,1339.5 1421.0,1340.8 1422.0,1348.1 1423.0,1357.6 1424.5,1381.7 1425.5,1384.3 1426.5,1394.3 1427.5,1405.8 1428.5,1414.3 1429.5,1427.3 1430.5,1435.9 1431.5,1447.2 1432.5,1454.8 1433.5,1456.9 1434.5,1467.6 1435.5,1473.1 1436.5,1481.0 1437.5,1483.0 1438.5,1471.0 1439.5,1472.0 1440.7,1465.8 1441.8,1472.8 1442.9,1469.0 1444.1,1466.0 1445.1,1448.5 1446.1,1436.4 1447.1,1423.8 1448.6,1411.8 1450.1,1381.7 1451.1,1367.2 1452.1,1356.8 1453.1,1345.5 1454.6,1390.7M1457.6,1276.3 1459.1,1225.1 1460.6,1170.9 1462.1,1131.7 1463.1,1133.9 1464.1,1136.5 1465.1,1140.8M1468.1,1351.6 1469.6,1327.5 1471.2,1291.3 1472.7,1351.6 1474.2,1360.6M1475.7,1231.1 1477.2,1291.3M1478.7,1423.8 1480.2,1456.9M1481.7,1333.5 1483.2,1285.3 1484.7,1228.1 1486.2,1231.1M1487.7,1378.7 1488.7,1401.3 1489.7,1420.5 1490.7,1435.9M1493.7,1321.4 1495.2,1291.3 1496.4,1298.1 1497.5,1303.1 1498.6,1306.8 1499.8,1315.4 1500.9,1320.1 1502.0,1324.3 1503.1,1316.7 1504.3,1321.4 1505.4,1323.1 1506.5,1322.3 1507.7,1321.1 1508.8,1318.4 1509.8,1294.7 1510.8,1282.9 1511.8,1264.2M1513.3,1351.6 1514.3,1356.0 1515.3,1364.0 1516.3,1375.6 1517.8,1438.9 1518.8,1426.8 1519.8,1414.5 1520.8,1399.7 1521.8,1389.2 1522.8,1378.6 1523.8,1363.6 1525.4,1315.4M1526.9,1107.7 1528.4,1137.8 1529.9,1185.9M1594.6,1315.4 1596.1,1363.6 1597.1,1358.0 1598.1,1347.2 1599.1,1339.5 1600.1,1322.0 1601.1,1318.7 1602.1,1303.4 1603.1,1293.2 1604.1,1279.3 1605.1,1261.2 1606.2,1251.4 1607.2,1233.6 1608.2,1228.1 1609.2,1238.5 1610.2,1251.5 1611.2,1270.3 1612.2,1278.9 1613.2,1284.8 1614.2,1291.3 1615.3,1283.8 1616.4,1289.3 1617.6,1285.8 1618.7,1276.3 1619.7,1276.1 1620.7,1265.8 1621.7,1261.2 1622.5,1261.2 1623.5,1271.8 1624.5,1283.8 1625.5,1300.4 1626.5,1310.3 1627.5,1314.8 1628.6,1318.4 1629.6,1301.7 1630.6,1295.2 1631.6,1276.3 1632.7,1274.9 1633.8,1270.7 1634.9,1268.5 1636.1,1267.2 1637.2,1264.6 1638.3,1256.2 1639.5,1253.4 1640.6,1246.2 1641.7,1237.9 1642.9,1241.1 1644.0,1232.1 1645.1,1231.1 1646.1,1229.0 1647.1,1213.6 1648.1,1210.0 1649.3,1207.3 1650.4,1209.0 1651.5,1206.5 1652.6,1207.0 1653.6,1223.4 1654.6,1244.2 1655.7,1255.2 1656.7,1239.6 1657.7,1234.4 1658.7,1219.1 1659.8,1222.1 1660.9,1224.0 1662.0,1220.7 1663.2,1222.1 1664.3,1226.8 1665.4,1230.8 1666.6,1237.6 1667.7,1243.2 1668.7,1246.2 1669.7,1251.5 1670.7,1261.2 1672.2,1288.3 1673.2,1284.0 1674.2,1276.6 1675.2,1276.3 1676.2,1258.9 1677.2,1243.0 1678.2,1225.1 1679.4,1224.3 1680.5,1224.1 1681.6,1230.9 1682.8,1231.1 1683.9,1240.0 1685.0,1236.8 1686.1,1246.1 1687.3,1249.2 1688.4,1253.3 1689.5,1258.3 1690.7,1258.1 1691.8,1258.2 1692.8,1246.9 1693.8,1236.6 1694.8,1231.1 1695.8,1233.1 1696.8,1224.7 1697.8,1225.1 1698.8,1229.3 1699.8,1249.6 1700.8,1255.2 1701.8,1267.6 1702.8,1285.1 1703.8,1303.4 1704.8,1292.2 1705.8,1282.4 1706.8,1276.3 1708.0,1275.2 1709.1,1266.9 1710.2,1264.3 1711.4,1261.2 1712.5,1269.3 1713.6,1283.3 1714.7,1282.5 1715.9,1297.4 1716.9,1288.3 1717.9,1272.9 1718.9,1267.2 1720.0,1257.8 1721.1,1258.0 1722.3,1249.9 1723.4,1246.2 1724.4,1256.0 1725.4,1277.3 1726.4,1291.3 1727.5,1298.6 1728.7,1297.6 1729.8,1298.1 1730.9,1300.4 1731.9,1313.0 1732.9,1323.4 1733.9,1327.5 1734.9,1316.3 1735.9,1311.0 1737.0,1306.4 1738.0,1304.9 1739.0,1297.5 1740.0,1285.3 1741.0,1269.7 1742.0,1263.7 1743.0,1249.2 1744.0,1260.7 1745.0,1264.3 1746.0,1270.3 1747.0,1284.7 1748.0,1294.6 1749.0,1306.4 1750.5,1375.6 1751.5,1357.4 1752.5,1342.1 1753.5,1330.5M1758.0,1336.5 1759.0,1326.2 1760.0,1328.5 1761.0,1321.4M1765.6,1291.3 1766.6,1299.0 1767.6,1316.9 1768.6,1327.5M1771.6,1207.0 1772.6,1208.7 1773.6,1212.3 1774.6,1216.1 1775.6,1226.7 1776.6,1224.8 1777.6,1231.1 1779.1,1291.3 1780.1,1300.1 1781.1,1308.0 1782.1,1318.4 1783.1,1308.0 1784.1,1301.1 1785.1,1297.4 1786.1,1305.8 1787.1,1317.2 1788.1,1321.4 1789.6,1348.5 1790.6,1329.6 1791.7,1325.8 1792.7,1306.4 1793.7,1290.4 1794.7,1264.9 1795.7,1252.2 1796.7,1260.7 1797.7,1263.1 1798.7,1270.3 1799.7,1277.5 1800.7,1279.5 1801.7,1291.3M1810.7,1273.3 1811.7,1259.3 1812.7,1245.4 1813.7,1231.1 1814.7,1243.5 1815.7,1250.2 1816.7,1258.2 1817.9,1263.7 1819.0,1267.1 1820.1,1263.9 1821.3,1270.3M1824.3,1354.6 1825.3,1331.8 1826.3,1320.2 1827.3,1303.4 1828.3,1289.9 1829.3,1281.0 1830.3,1276.3 1831.3,1289.2 1832.3,1306.8 1833.3,1321.4M1836.3,1426.8 1837.3,1408.2 1838.3,1388.4 1839.3,1366.6 1840.3,1356.9 1841.3,1331.7 1842.3,1321.4 1843.3,1318.1 1844.3,1308.5 1845.4,1309.4 1846.9,1243.2 1847.9,1259.3 1848.9,1270.5 1849.9,1285.3 1850.9,1286.0 1851.9,1293.1 1852.9,1300.4 1854.0,1304.6 1855.1,1304.6 1856.3,1312.5 1857.4,1309.4 1858.5,1300.9 1859.7,1293.9 1860.8,1294.1 1861.9,1282.3 1863.0,1288.8 1864.2,1288.1 1865.3,1301.5 1866.4,1303.4 1867.6,1306.3 1868.7,1317.8 1869.8,1318.6 1870.9,1321.4M1875.5,1327.5 1877.0,1351.6M1878.5,1426.8 1880.0,1484.0 1881.0,1481.7 1882.0,1476.8 1883.0,1466.0 1884.0,1458.1 1885.0,1455.5 1886.0,1441.9 1887.1,1432.4 1888.3,1432.5 1889.4,1434.7 1890.5,1426.8 1891.5,1408.9 1892.5,1404.8 1893.5,1390.7 1894.5,1394.7 1895.5,1389.3 1896.5,1384.7M1908.6,1243.2 1909.6,1231.4 1910.6,1206.0 1911.6,1195.0 1913.1,1207.0M1917.6,1466.0 1918.6,1450.4 1919.6,1435.2 1920.6,1417.8 1921.6,1429.1 1922.6,1440.9 1923.6,1453.9M1928.2,1276.3 1929.2,1275.8 1930.2,1264.2 1931.2,1264.2 1932.2,1265.8 1933.2,1279.4 1934.2,1285.3 1935.2,1303.0 1936.2,1313.3 1937.2,1321.4 1938.2,1329.5 1939.2,1331.0 1940.2,1339.5 1941.0,1321.4 1942.0,1316.3 1943.0,1295.9 1944.0,1291.3 1945.0,1284.3 1946.0,1286.8 1947.0,1279.3 1948.0,1293.1 1949.1,1296.2 1950.1,1306.4 1951.1,1321.3 1952.1,1321.8 1953.1,1336.5 1954.1,1323.6 1955.1,1303.2 1956.1,1294.3 1957.1,1302.2 1958.1,1312.7 1959.1,1327.5 1960.1,1327.6 1961.1,1338.4 1962.1,1345.5 1963.6,1381.7 1965.1,1423.8 1966.6,1447.9 1968.1,1481.0 1969.1,1472.0 1970.1,1460.3 1971.1,1453.9 1972.1,1459.8 1973.1,1456.6 1974.1,1466.0 1975.1,1454.1 1976.2,1442.2 1977.2,1429.8 1978.2,1440.7 1979.2,1458.9 1980.2,1466.0 1981.2,1463.5 1982.2,1469.1 1983.2,1472.0 1984.2,1477.5 1985.2,1482.5 1986.2,1490.1 1987.2,1487.7 1988.2,1474.9 1989.2,1466.0 1990.2,1472.2 1991.2,1477.3 1992.2,1484.0 1993.7,1441.9 1995.2,1411.8 1996.7,1396.7 1998.2,1351.6 1999.7,1384.7 2000.7,1361.9 2001.7,1345.9 2002.8,1318.4 2003.8,1343.1 2004.8,1362.4 2005.8,1381.7 2006.8,1367.6 2007.8,1362.7 2008.8,1351.6 2009.8,1359.1 2010.8,1373.9 2011.8,1387.7 2012.8,1365.9 2013.8,1358.0 2014.8,1339.5 2015.8,1339.2 2016.8,1329.1 2017.8,1321.4 2018.8,1332.3 2019.8,1338.5 2020.8,1351.6 2021.8,1343.8 2022.8,1337.1 2023.8,1330.5 2024.8,1334.6 2025.8,1337.8 2026.8,1345.5 2027.8,1349.2 2028.8,1362.6 2029.9,1366.6 2030.9,1379.1 2031.9,1384.5 2032.9,1387.7 2033.9,1394.2 2034.9,1392.1 2035.9,1402.7 2036.9,1387.3 2037.9,1380.7 2038.9,1363.6 2039.9,1377.3 2040.9,1380.2 2041.9,1387.7 2042.9,1369.4 2043.9,1351.8 2044.9,1330.5 2046.0,1324.4 2047.2,1327.0 2048.3,1319.8 2049.4,1318.4 2050.4,1337.7 2051.4,1348.1 2052.4,1363.6 2053.4,1351.5 2054.4,1336.2 2055.4,1321.4 2056.4,1339.9 2057.5,1357.1 2058.5,1375.6 2060.0,1399.7 2061.5,1429.8 2062.5,1444.3 2063.5,1451.0 2064.5,1456.9 2065.5,1459.0 2066.5,1463.0 2067.5,1466.0 2068.5,1462.7 2069.5,1452.9 2070.5,1441.9 2072.0,1411.8 2073.5,1366.6 2074.5,1355.4 2075.5,1346.0 2076.5,1327.5 2077.5,1320.9 2078.5,1324.6 2079.5,1321.4 2080.5,1315.9 2081.5,1306.9 2082.5,1300.4 2083.5,1300.9 2084.6,1295.9 2085.6,1285.3 2086.6,1280.0 2087.6,1278.7 2088.6,1273.3 2089.6,1282.5 2090.6,1287.7 2091.6,1291.3 2092.6,1299.7 2093.6,1315.0 2094.6,1321.4 2095.6,1327.7 2096.6,1333.3 2097.6,1345.5 2098.6,1355.5 2099.6,1363.4 2100.6,1369.6 2101.6,1378.6 2102.6,1389.7 2103.6,1399.7 2104.6,1417.6 2105.6,1427.5 2106.6,1435.9 2107.6,1426.7 2108.6,1424.8 2109.6,1411.8 2110.6,1414.6 2111.7,1414.7 2112.7,1417.8 2113.7,1413.5 2114.7,1409.2 2115.7,1399.7 2116.8,1401.5 2117.9,1395.8 2119.1,1392.7 2120.2,1387.7 2121.2,1390.5 2122.2,1390.2 2123.2,1399.7 2124.2,1408.2 2125.2,1413.2 2126.2,1426.8 2127.3,1435.9 2128.5,1432.7 2129.6,1439.4 2130.7,1441.9 2131.7,1433.7 2132.7,1416.0 2133.7,1408.8 2134.7,1401.7 2135.7,1384.6 2136.7,1375.6 2137.8,1365.6 2138.8,1366.8 2139.8,1360.6 2140.8,1366.4 2141.8,1379.7 2142.8,1381.7 2143.8,1363.9 2144.8,1342.7 2145.8,1330.5 2146.8,1322.7 2147.8,1320.8 2148.8,1324.5 2149.8,1318.4 2150.8,1315.0 2151.8,1306.4 2152.9,1298.7 2154.1,1299.8 2155.2,1299.4 2156.3,1297.4 2157.3,1305.1 2158.3,1309.0 2159.3,1306.4 2160.3,1300.9 2161.3,1288.0 2162.3,1276.3 2163.3,1289.2 2164.3,1297.0 2165.4,1312.4 2166.4,1315.8 2167.4,1312.4 2168.4,1318.4 2169.4,1320.1 2170.4,1330.4 2171.4,1330.5 2172.4,1342.3 2173.4,1355.3 2174.4,1363.6 2175.9,1417.8 2176.9,1401.3 2177.9,1383.0 2178.9,1369.6 2179.9,1389.7 2180.9,1410.7 2181.9,1429.8 2182.9,1439.8 2183.9,1460.1 2184.9,1469.0 2185.9,1451.7 2186.9,1419.0 2187.9,1399.7 2188.9,1394.6 2189.9,1399.5 2190.9,1393.7 2192.0,1402.4 2193.0,1402.5 2194.0,1411.8 2195.0,1422.9 2196.0,1428.7 2197.0,1441.9 2198.0,1455.3 2199.0,1461.0 2200.0,1469.0M2201.5,1351.6 2203.0,1315.4 2204.0,1314.6 2205.0,1309.4 2206.0,1312.4 2207.0,1305.3 2208.0,1300.0 2209.0,1294.3 2210.0,1295.7 2211.0,1296.5 2212.0,1303.4 2213.0,1306.8 2214.0,1319.8 2215.0,1324.5 2216.0,1336.6 2217.0,1342.6 2218.0,1345.5 2219.1,1351.9 2220.1,1359.1 2221.1,1360.6 2222.1,1363.2 2223.1,1371.2 2224.1,1381.7 2225.1,1385.1 2226.1,1377.7 2227.1,1384.7 2228.1,1373.7 2229.1,1376.0 2230.1,1366.6 2231.1,1352.9 2232.1,1342.8 2233.1,1336.5 2234.1,1323.2 2235.1,1316.5 2236.1,1300.4 2237.1,1291.5 2238.1,1298.9 2239.1,1291.3 2240.1,1288.0 2241.1,1290.2 2242.1,1288.3 2243.1,1301.0 2244.1,1309.9 2245.1,1327.5 2246.2,1338.0 2247.2,1333.6 2248.2,1342.5 2249.7,1363.6 2251.2,1405.8 2252.7,1460.0 2253.7,1446.6 2254.7,1430.4 2255.7,1408.8 2256.8,1406.0 2257.9,1409.8 2259.1,1396.8 2260.2,1399.7 2261.5,1380.6 2262.9,1370.0 2263.9,1364.4 2265.0,1359.3 2266.1,1353.1 2267.1,1357.1 2268.2,1370.5 2269.3,1376.4 2270.4,1389.3 2271.4,1406.4 2272.5,1421.4 2273.6,1442.8 2274.6,1451.7 2275.7,1460.0 2276.8,1457.1 2277.9,1447.1 2278.9,1438.1 2280.0,1434.3 2281.1,1426.4 2282.1,1430.0 2283.2,1436.8 2284.3,1434.3 2285.4,1435.0 2286.4,1442.8 2287.5,1454.7 2288.6,1468.5 2289.6,1475.8 2290.7,1492.1 2291.8,1479.2 2292.8,1464.3 2293.9,1453.1 2295.0,1442.8 2296.1,1431.7 2297.1,1427.8 2298.2,1421.2 2299.3,1425.7 2300.3,1408.7 2301.4,1395.7 2302.5,1387.3 2303.6,1372.1 2304.6,1351.9 2305.7,1340.0 2306.8,1330.3 2307.8,1327.1 2308.9,1323.2 2310.0,1316.4 2311.1,1313.7 2312.1,1307.8 2313.2,1313.6 2314.3,1312.1 2315.3,1319.2 2316.4,1322.8 2317.5,1333.5 2318.6,1335.7 2319.6,1342.3 2320.7,1357.1 2321.8,1360.0 2322.8,1352.8 2323.9,1338.6 2325.0,1335.7 2326.1,1324.7 2327.1,1322.8 2328.2,1288.6 2329.3,1281.7 2330.3,1284.3 2331.4,1291.9 2332.5,1292.8 2333.6,1294.3 2334.6,1300.8 2335.7,1297.1 2336.8,1304.3 2337.8,1305.4 2338.9,1301.4 2340.0,1307.1 2341.1,1310.0 2342.1,1311.4 2343.2,1316.4 2344.3,1292.8 2345.3,1289.8 2346.4,1275.7 2347.5,1269.9 2348.6,1258.6 2349.6,1247.4 2350.7,1243.6 2351.8,1247.4 2352.8,1250.0 2353.9,1248.5 2355.0,1258.6 2356.1,1254.9 2357.1,1262.8" fill="none" stroke="#7d9ade" stroke-width="7" stroke-linejoin="round" stroke-linecap="round"/>
<path d="M457.0,1237.1L458.5,1333.5M461.5,1393.7L463.0,1297.4M464.5,1321.4L466.0,1192.0M508.1,1134.8L509.6,1321.4M509.6,1321.4L511.2,1405.8M511.2,1405.8L512.7,1315.4M518.7,1312.4L520.2,1189.0M527.7,1225.1L529.2,1306.4M530.7,1375.6L532.2,1261.2M532.2,1261.2L535.2,1339.5M535.2,1339.5L538.3,1267.2M584.9,1276.3L586.4,1198.0M594.0,1288.3L597.0,1201.0M607.5,1125.7L609.0,1050.4M609.0,1050.4L612.0,1164.9M651.2,1267.2L654.2,1369.6M655.7,1417.8L657.2,1173.9M657.2,1173.9L658.7,1321.4M658.0,1321.4L659.5,1417.8M659.5,1417.8L661.0,1336.5M667.0,1345.5L668.6,1201.0M668.6,1201.0L670.1,1122.7M671.6,1071.5L673.1,1201.0M674.6,1158.8L676.1,1315.4M676.1,1315.4L677.6,1179.9M698.7,1363.6L700.2,1282.3M746.8,1417.8L749.9,1321.4M751.4,1366.6L752.9,1441.9M754.4,1490.1L757.4,1411.8M792.0,1484.0L792.9,1354.6M822.1,1264.2L825.1,1363.6M889.9,1222.1L892.9,1306.4M968.2,1237.1L969.7,1164.9M969.7,1164.9L971.2,1261.2M971.2,1261.2L972.7,1390.7M974.2,1435.9L977.2,1351.6M980.2,1411.8L981.0,1336.5M984.0,1381.7L985.5,1128.7M985.5,1128.7L987.0,1231.1M987.0,1231.1L988.6,1396.7M988.6,1396.7L990.1,1261.2M1000.6,1315.4L1002.1,1231.1M1029.2,1140.8L1030.7,1213.0M1038.2,1182.9L1039.7,1098.6M1107.5,1478.0L1109.0,1405.8M1109.0,1405.8L1110.5,1327.5M1202.3,1426.8L1203.8,1351.6M1271.6,1405.8L1273.1,1321.4M1353.7,1441.9L1355.2,1369.6M1454.6,1390.7L1457.6,1276.3M1465.1,1140.8L1466.6,1261.2M1466.6,1261.2L1468.1,1351.6M1474.2,1360.6L1475.7,1231.1M1477.2,1291.3L1478.7,1423.8M1480.2,1456.9L1481.7,1333.5M1486.2,1231.1L1487.7,1378.7M1490.7,1435.9L1493.7,1321.4M1511.8,1264.2L1513.3,1351.6M1525.4,1315.4L1526.9,1185.9M1526.9,1185.9L1526.9,1107.7M1529.9,1185.9L1594.6,1315.4M1753.5,1330.5L1755.0,1447.9M1755.0,1447.9L1758.0,1336.5M1761.0,1321.4L1762.5,1204.0M1762.5,1204.0L1765.6,1291.3M1768.6,1327.5L1771.6,1207.0M1801.7,1291.3L1804.1,1195.0M1804.1,1195.0L1806.2,1276.3M1806.2,1276.3L1807.7,1375.6M1807.7,1375.6L1810.7,1273.3M1821.3,1270.3L1824.3,1354.6M1833.3,1321.4L1836.3,1426.8M1870.9,1321.4L1873.4,1240.1M1873.4,1240.1L1875.5,1327.5M1877.0,1351.6L1878.5,1426.8M1896.5,1384.7L1899.6,1279.3M1899.6,1279.3L1901.1,1369.6M1901.1,1369.6L1902.6,1478.0M1902.6,1478.0L1905.6,1381.7M1905.6,1381.7L1908.6,1243.2M1913.1,1207.0L1914.6,1339.5M1914.6,1339.5L1917.6,1466.0M1923.6,1453.9L1926.7,1351.6M1926.7,1351.6L1928.2,1276.3M2200.0,1469.0L2201.5,1351.6" fill="none" stroke="#5a74c6" stroke-width="2.4"/>
<path d="M339.5,1360.6 339.5,1306.4 340.5,1306.8 341.5,1301.7 342.5,1291.3 343.5,1288.0 344.5,1290.4 345.5,1297.4 346.5,1294.4 347.5,1286.1 348.6,1276.3 349.6,1280.3 350.6,1278.0 351.6,1282.3 352.6,1286.6 353.6,1289.6 354.6,1291.3 356.1,1255.2 357.1,1251.2 358.1,1241.1 359.1,1240.1 360.1,1244.3 361.1,1248.9 362.1,1255.2 363.1,1262.9 364.1,1271.2 365.1,1270.3 366.1,1280.7 367.1,1280.8 368.1,1285.3 369.1,1286.7 370.1,1286.5 371.1,1291.3 372.1,1286.8 373.1,1287.7 374.1,1294.3 375.1,1287.9 376.2,1280.1 377.2,1276.3 378.3,1269.2 379.5,1269.6 380.7,1259.5 381.8,1254.3 383.0,1244.7 384.2,1236.4 385.4,1234.4 386.5,1226.4 387.7,1225.1 388.7,1237.3 389.7,1255.2 390.7,1261.2 391.7,1267.3 392.7,1265.4 393.7,1273.3 394.7,1275.0 395.7,1270.8 396.7,1264.2 398.2,1210.0 399.2,1200.8 400.2,1190.8 401.2,1173.9 402.2,1185.1 403.3,1193.4 404.3,1198.0 405.3,1200.3 406.3,1211.8 407.3,1210.0 408.3,1219.6 409.3,1214.0 410.3,1222.1 411.3,1233.2 412.3,1240.7 413.3,1246.2 414.8,1261.2 415.8,1250.7 416.8,1241.5 417.8,1231.1 418.8,1225.0 419.8,1224.2 420.8,1213.0 421.8,1225.1 422.8,1241.1 423.8,1249.2 424.8,1239.4 425.8,1237.7 426.8,1225.1 427.8,1219.9 428.8,1204.5 429.9,1195.0 430.9,1200.8 431.9,1210.1 432.9,1210.0 433.9,1220.8 434.9,1225.9 435.9,1234.1 436.9,1213.7 437.9,1197.9 438.9,1182.9 439.9,1170.3 440.9,1148.8 441.9,1137.8 442.9,1143.7 443.9,1137.0 444.9,1140.8 445.9,1140.7 446.9,1128.5 447.9,1125.7 448.9,1142.3 449.9,1150.3 450.9,1158.8 451.9,1164.9 452.9,1171.1 453.9,1176.9 454.9,1181.7 455.9,1184.0 457.0,1185.9 457.0,1237.1M458.5,1333.5 459.5,1351.3 460.5,1370.1 461.5,1393.7M463.0,1297.4 464.5,1321.4M466.0,1192.0 467.5,1152.8 468.5,1140.9 469.5,1133.9 470.5,1116.7 471.5,1114.2 472.5,1103.6 473.5,1104.6 475.0,1074.5 476.0,1070.3 477.0,1061.2 478.0,1050.4 479.0,1053.3 480.0,1042.7 481.0,1044.4 482.0,1033.3 483.0,1011.0 484.1,1002.3 485.1,1010.1 486.1,1011.6 487.1,1020.3 488.1,1007.0 489.1,1004.8 490.1,990.2 491.1,1005.6 492.1,1030.6 493.1,1050.4 494.6,1086.6 496.1,1101.6 497.1,1089.8 498.1,1066.5 499.1,1053.5 500.1,1038.9 501.1,1035.9 502.1,1020.3 503.1,1031.5 504.1,1047.0 505.1,1056.5 506.6,1116.7 508.1,1134.8M512.7,1315.4 513.7,1315.8 514.7,1325.8 515.7,1333.5 517.2,1351.6 518.7,1312.4M520.2,1189.0 521.7,1170.9 522.7,1181.0 523.7,1201.1 524.7,1213.0 525.7,1212.1 526.7,1226.5 527.7,1225.1M529.2,1306.4 530.7,1375.6M538.3,1267.2 539.3,1252.5 540.3,1251.9 541.3,1240.1 542.3,1245.4 543.3,1259.3 544.3,1273.3 545.4,1259.7 546.5,1234.5 547.7,1217.5 548.8,1204.0 549.8,1210.3 550.8,1210.7 551.8,1216.1 552.8,1223.6 553.8,1248.0 554.8,1255.2 555.8,1258.0 556.8,1263.7 557.8,1276.3 559.3,1312.4 560.3,1291.5 561.3,1275.7 562.3,1255.2 563.5,1254.3 564.6,1243.0 565.7,1242.0 566.9,1240.1 567.9,1243.6 568.9,1257.6 569.9,1267.2 570.9,1288.5 571.9,1306.3 572.9,1321.4 573.9,1338.3 574.9,1348.6 575.9,1357.6 577.4,1387.7 578.4,1382.0 579.4,1370.1 580.4,1357.6 581.9,1321.4 583.4,1291.3 584.9,1276.3M586.4,1198.0 587.4,1208.7 588.4,1216.8 589.4,1231.1 590.4,1243.1 591.4,1249.0 592.5,1261.2 594.0,1288.3M597.0,1201.0 598.5,1164.9 599.5,1152.1 600.5,1148.2 601.5,1140.8 602.5,1134.2 603.5,1114.2 604.5,1107.7 605.5,1114.7 606.5,1118.4 607.5,1125.7M612.0,1164.9 612.0,1231.1 613.2,1228.3 614.3,1220.8 615.4,1227.6 616.5,1219.1 617.5,1228.2 618.5,1244.4 619.6,1255.2 620.6,1246.2 621.6,1233.4 622.6,1231.1 623.6,1227.8 624.6,1218.8 625.6,1219.1 627.1,1189.0 628.1,1187.7 629.1,1191.4 630.1,1201.0 631.1,1216.0 632.1,1234.3 633.1,1258.2 634.6,1291.3 635.6,1299.0 636.6,1303.5 637.6,1309.4 638.6,1319.2 639.6,1322.6 640.6,1321.4 641.8,1319.9 642.9,1303.2 644.0,1298.2 645.1,1291.3 646.2,1285.3 647.2,1286.4 648.2,1282.3 649.2,1278.8 650.2,1275.9 651.2,1267.2M654.2,1369.6 655.7,1417.8M658.7,1321.4 659.7,1342.0 660.7,1354.7 661.7,1375.6 660.5,1356.7 659.2,1339.8 658.0,1321.4M661.0,1336.5 662.0,1343.6 663.0,1357.0 664.0,1375.6 665.5,1321.4 667.0,1345.5M670.1,1122.7 671.6,1071.5M673.1,1201.0 674.6,1158.8M677.6,1179.9 679.1,1222.1 680.6,1285.3 682.1,1321.4 683.1,1323.4 684.1,1322.8 685.1,1330.5 686.6,1375.6 688.1,1336.5 689.6,1405.8 691.1,1441.9 692.6,1472.0 694.1,1490.1 695.7,1441.9 697.2,1405.8 698.7,1363.6M700.2,1282.3 701.2,1284.0 702.2,1277.2 703.2,1279.3 704.7,1327.5 706.2,1375.6 707.2,1369.8 708.2,1369.8 709.2,1372.6 710.2,1361.4 711.2,1353.2 712.2,1348.5 713.3,1355.6 714.5,1361.7 715.6,1366.6 716.7,1375.6 717.7,1359.3 718.7,1336.1 719.7,1321.4 720.8,1317.3 721.8,1303.4 723.2,1318.0 724.5,1324.2 725.8,1330.5 726.9,1327.4 728.0,1326.1 729.1,1324.7 730.3,1321.4 731.4,1314.6 732.5,1317.5 733.7,1317.2 734.8,1315.4 735.9,1310.8 737.1,1309.0 738.2,1316.8 739.3,1312.4 740.3,1323.9 741.3,1338.7 742.3,1351.6 743.3,1372.7 744.3,1385.0 745.3,1399.7 746.8,1417.8M749.9,1321.4 751.4,1366.6M752.9,1441.9 754.4,1490.1M757.4,1411.8 758.9,1357.6 760.4,1291.3 761.9,1246.2 762.9,1246.7 763.9,1258.0 764.9,1255.2 765.9,1256.7 766.9,1255.5 767.9,1264.2 768.9,1269.5 769.9,1265.5 770.9,1273.3 771.9,1277.0 772.9,1289.4 773.9,1291.3 775.4,1345.5 777.0,1357.6 778.5,1411.8 779.5,1421.9 780.5,1422.0 781.5,1435.9 782.5,1437.3 783.5,1438.8 784.5,1441.9 785.5,1436.7 786.5,1428.4 787.5,1426.8 788.5,1441.0 789.5,1447.8 790.5,1466.0 792.0,1484.0M792.9,1354.6 794.0,1323.4 795.0,1297.4 796.0,1301.9 797.0,1314.6 798.0,1315.4 799.0,1317.4 800.0,1332.5 801.0,1336.5 802.0,1337.8 803.0,1347.4 804.1,1351.6 805.1,1342.2 806.1,1335.1 807.1,1327.5 808.2,1339.5 809.3,1344.3 810.5,1350.0 811.6,1363.6 812.7,1350.8 813.8,1342.0 815.0,1343.0 816.1,1330.5 817.1,1314.1 818.1,1299.9 819.1,1276.3 820.1,1274.6 821.1,1262.5 822.1,1264.2M825.1,1363.6 826.6,1306.4 827.6,1295.3 828.6,1283.6 829.6,1267.2 830.6,1261.9 831.7,1251.2 832.7,1243.2 833.7,1252.5 834.7,1264.7 835.7,1276.3 836.7,1286.9 837.7,1287.6 838.7,1297.4 839.7,1303.7 840.7,1309.1 841.7,1315.4 842.7,1325.9 843.7,1329.1 844.7,1330.5 845.7,1337.7 846.7,1338.5 847.7,1336.5 848.8,1326.5 850.0,1318.2 851.1,1313.8 852.2,1306.4 853.2,1311.5 854.2,1321.6 855.2,1330.5 856.2,1337.7 857.2,1345.5 858.3,1345.5 859.4,1355.6 860.5,1367.4 861.6,1367.8 862.8,1381.7 863.8,1390.0 864.8,1407.7 865.8,1411.8 866.9,1410.6 868.0,1416.8 869.2,1415.6 870.3,1423.8 871.4,1421.9 872.6,1434.6 873.7,1438.7 874.8,1435.9 875.8,1429.6 876.8,1415.4 877.8,1411.8 879.3,1363.6 880.3,1353.1 881.3,1344.3 882.3,1339.5 883.3,1330.5 884.3,1319.6 885.4,1306.4 886.4,1295.6 887.4,1286.6 888.4,1276.3 889.9,1222.1M892.9,1306.4 893.9,1317.8 894.9,1339.0 895.9,1354.6 896.9,1348.9 897.9,1335.6 898.9,1321.4 899.9,1307.6 900.9,1303.6 901.9,1294.3 902.9,1306.0 903.9,1309.5 904.9,1321.4 905.9,1319.2 906.9,1306.9 907.9,1300.4 908.9,1297.8 909.9,1289.2 910.9,1285.3 912.0,1286.2 913.0,1278.7 914.0,1270.3 915.1,1270.4 916.2,1264.5 917.3,1267.3 918.5,1267.2 919.6,1260.8 920.7,1266.9 921.9,1269.6 923.0,1264.2 924.0,1280.5 925.0,1304.5 926.0,1324.5 927.5,1351.6 928.5,1357.4 929.5,1362.5 930.5,1369.6 931.6,1375.2 932.8,1380.9 933.9,1381.1 935.0,1381.7 936.2,1385.1 937.3,1394.7 938.4,1390.9 939.6,1396.7 940.6,1406.7 941.6,1412.7 942.6,1417.8 943.6,1431.0 944.6,1442.1 945.6,1447.9 946.6,1458.7 947.6,1477.5 948.6,1490.1 949.6,1480.9 950.6,1476.0 951.6,1466.0 952.6,1455.7 953.6,1435.5 954.6,1417.8 956.1,1366.6 957.1,1355.7 958.1,1356.2 959.1,1351.6 960.1,1344.1 961.1,1336.1 962.1,1321.4 963.1,1307.2 964.1,1293.1 965.1,1273.3 966.2,1255.4 967.2,1254.5 968.2,1237.1M972.7,1390.7 974.2,1435.9M977.2,1351.6 978.2,1374.4 979.2,1393.0 980.2,1411.8M981.0,1336.5 982.0,1356.4 983.0,1371.2 984.0,1381.7M990.1,1261.2 991.6,1321.4 992.6,1334.7 993.6,1361.4 994.6,1375.6 996.1,1351.6 997.1,1334.7 998.1,1307.8 999.1,1291.3 1000.6,1315.4M1002.1,1231.1 1003.6,1201.0 1005.1,1152.8 1006.1,1151.7 1007.1,1145.8 1008.1,1140.8 1009.1,1145.1 1010.1,1160.5 1011.1,1164.9 1012.1,1150.5 1013.1,1146.1 1014.1,1134.8 1015.1,1127.9 1016.2,1119.8 1017.2,1116.7 1018.2,1119.5 1019.2,1120.3 1020.2,1122.7 1021.2,1133.2 1022.2,1156.4 1023.2,1164.9 1024.2,1157.7 1025.2,1154.9 1026.2,1158.8 1027.2,1152.6 1028.2,1150.8 1029.2,1140.8M1030.7,1213.0 1031.7,1230.0 1032.7,1246.2 1033.7,1258.2 1035.2,1195.0 1036.2,1190.8 1037.2,1189.0 1038.2,1182.9M1039.7,1098.6 1040.7,1096.6 1041.7,1095.8 1042.8,1098.6 1043.8,1104.7 1044.8,1105.0 1045.8,1116.7 1047.3,1176.9 1048.3,1149.8 1049.3,1135.8 1050.3,1110.7 1051.3,1102.7 1052.3,1105.6 1053.3,1098.6 1054.8,1062.5 1056.3,999.3 1057.8,1020.3 1059.3,1044.4 1060.8,1068.5 1062.3,1116.7 1063.8,1140.8 1064.8,1152.2 1065.8,1155.7 1066.8,1164.9 1067.8,1158.9 1068.8,1152.3 1069.9,1140.8 1070.9,1136.1 1071.9,1118.3 1072.9,1113.7 1073.9,1119.7 1074.9,1132.3 1075.9,1143.8 1076.9,1144.4 1077.9,1143.3 1078.9,1146.8 1079.9,1137.9 1080.9,1141.5 1081.9,1137.8 1082.9,1146.4 1083.9,1142.2 1084.9,1146.8 1086.4,1167.9 1087.9,1195.0 1089.4,1219.1 1090.9,1243.2 1091.9,1249.6 1092.9,1253.8 1093.9,1261.2 1094.9,1270.6 1095.9,1285.7 1097.0,1291.3 1098.5,1327.5 1100.0,1357.6 1101.5,1375.6 1103.0,1345.5 1104.5,1408.8 1106.0,1426.8 1107.5,1478.0M1110.5,1327.5 1112.0,1291.3 1113.5,1273.3 1115.0,1249.2 1116.0,1240.9 1117.0,1238.9 1118.0,1231.1 1119.2,1229.4 1120.3,1228.6 1121.4,1231.6 1122.5,1225.1 1123.5,1215.0 1124.6,1218.9 1125.6,1210.0 1126.6,1199.7 1127.6,1195.7 1128.6,1185.9 1129.6,1183.5 1130.6,1175.7 1131.6,1167.9 1132.6,1167.6 1133.6,1174.0 1134.6,1170.9 1135.6,1176.0 1136.6,1192.6 1137.6,1201.0 1139.1,1225.1 1140.1,1225.8 1141.1,1229.5 1142.1,1231.1 1143.1,1241.3 1144.1,1246.7 1145.1,1249.2 1146.6,1258.2 1148.1,1216.1 1149.1,1210.6 1150.1,1199.7 1151.2,1195.0 1152.2,1193.8 1153.2,1198.5 1154.2,1201.0 1155.2,1203.8 1156.2,1210.4 1157.2,1219.1 1158.2,1234.6 1159.2,1234.5 1160.2,1249.2 1161.2,1260.0 1162.2,1261.8 1163.2,1270.3 1164.2,1277.7 1165.2,1286.1 1166.2,1297.4 1167.7,1333.5 1169.2,1369.6 1170.2,1372.6 1171.2,1385.2 1172.2,1393.7 1173.2,1395.7 1174.2,1405.1 1175.2,1411.8 1176.4,1406.3 1177.5,1410.5 1178.6,1407.8 1179.8,1399.7 1180.8,1415.1 1181.8,1433.5 1182.8,1447.9 1183.8,1441.0 1184.8,1421.7 1185.8,1411.8 1186.9,1410.7 1188.0,1416.2 1189.2,1419.3 1190.3,1426.8 1191.4,1432.7 1192.6,1432.9 1193.7,1436.4 1194.8,1441.9 1195.8,1453.5 1196.8,1454.8 1197.8,1466.0 1198.8,1470.7 1199.8,1469.6 1200.8,1469.0 1202.3,1426.8M1203.8,1351.6 1205.4,1321.4 1206.4,1300.2 1207.4,1285.2 1208.4,1261.2 1209.4,1258.3 1210.4,1263.8 1211.4,1258.2 1212.4,1274.4 1213.4,1280.3 1214.4,1291.3 1215.4,1311.7 1216.4,1332.9 1217.4,1345.5 1218.9,1315.4 1219.9,1310.3 1220.9,1302.4 1221.9,1291.3 1223.0,1294.3 1224.2,1293.6 1225.3,1289.9 1226.4,1285.3 1227.6,1289.6 1228.7,1279.8 1229.8,1282.3 1230.9,1279.3 1232.0,1285.4 1233.0,1285.7 1234.0,1291.3 1235.5,1321.4 1236.5,1332.2 1237.5,1341.6 1238.5,1357.6 1240.0,1399.7 1241.5,1460.0 1242.5,1454.4 1243.5,1436.1 1244.5,1426.8 1245.5,1415.5 1246.5,1409.5 1247.5,1393.7 1248.5,1401.0 1249.5,1421.3 1250.5,1426.8 1251.5,1435.4 1252.5,1447.3 1253.5,1466.0 1254.5,1451.1 1255.5,1438.2 1256.5,1426.8 1257.7,1435.6 1258.8,1439.0 1259.9,1441.3 1261.1,1441.9 1262.1,1449.2 1263.1,1458.5 1264.1,1466.0 1265.2,1453.0 1266.3,1450.4 1267.5,1435.3 1268.6,1426.8 1269.6,1417.2 1270.6,1414.4 1271.6,1405.8M1273.1,1321.4 1274.6,1276.3 1275.6,1277.1 1276.6,1284.1 1277.6,1291.3 1278.6,1301.5 1279.6,1296.5 1280.6,1306.4 1281.8,1305.9 1282.9,1310.4 1284.0,1314.7 1285.1,1321.4 1286.2,1324.5 1287.2,1326.5 1288.2,1333.5 1289.2,1339.6 1290.2,1346.5 1291.2,1357.6 1292.2,1342.4 1293.2,1334.8 1294.2,1321.4 1295.7,1294.3 1296.7,1285.4 1297.7,1278.8 1298.7,1273.3 1299.7,1272.5 1300.7,1260.0 1301.7,1261.2 1302.9,1255.4 1304.0,1258.2 1305.0,1273.5 1306.0,1279.5 1307.0,1291.3 1308.6,1309.4 1310.1,1321.4 1311.6,1357.6 1313.1,1375.6 1314.1,1386.0 1315.1,1385.3 1316.1,1396.7 1317.1,1381.9 1318.1,1370.8 1319.1,1351.6 1320.1,1348.6 1321.1,1352.8 1322.1,1348.5 1323.6,1327.5 1325.1,1306.4 1326.1,1308.7 1327.1,1307.1 1328.1,1309.4 1329.1,1323.4 1330.1,1324.2 1331.1,1333.5 1332.6,1381.7 1334.1,1405.8 1335.7,1423.8 1336.8,1417.5 1337.9,1413.2 1339.0,1403.6 1340.2,1399.7 1341.2,1405.8 1342.2,1404.9 1343.2,1405.8 1344.2,1413.8 1345.2,1420.3 1346.2,1426.8 1347.2,1443.7 1348.2,1454.8 1349.2,1460.0 1350.7,1490.1 1351.7,1478.1 1352.7,1457.4 1353.7,1441.9M1355.2,1369.6 1356.2,1372.6 1357.2,1378.0 1358.2,1381.7 1359.4,1374.7 1360.5,1374.0 1361.6,1383.1 1362.8,1375.6 1364.3,1402.7 1365.3,1379.2 1366.3,1369.9 1367.3,1345.5 1368.8,1303.4 1369.8,1305.5 1370.8,1308.4 1371.8,1303.4 1372.8,1287.3 1373.8,1279.0 1374.8,1270.3 1375.8,1280.9 1376.8,1278.4 1377.8,1291.3 1378.8,1289.6 1379.8,1295.6 1380.8,1300.4 1382.3,1330.5 1383.3,1347.6 1384.3,1368.4 1385.3,1393.7 1386.8,1357.6 1387.8,1347.6 1388.8,1328.6 1389.9,1321.4 1390.9,1321.1 1391.9,1311.2 1392.9,1303.4 1393.9,1303.0 1394.9,1318.2 1395.9,1318.4 1396.9,1318.3 1397.9,1324.2 1398.9,1327.5 1400.0,1329.7 1401.1,1326.1 1402.3,1332.0 1403.4,1333.5 1404.5,1329.7 1405.7,1332.9 1406.8,1343.0 1407.9,1339.5 1409.0,1344.9 1410.2,1342.8 1411.3,1346.2 1412.4,1345.5 1413.6,1347.8 1414.7,1336.7 1415.8,1338.7 1417.0,1336.5 1418.0,1333.1 1419.0,1333.9 1420.0,1339.5 1421.0,1340.8 1422.0,1348.1 1423.0,1357.6 1424.5,1381.7 1425.5,1384.3 1426.5,1394.3 1427.5,1405.8 1428.5,1414.3 1429.5,1427.3 1430.5,1435.9 1431.5,1447.2 1432.5,1454.8 1433.5,1456.9 1434.5,1467.6 1435.5,1473.1 1436.5,1481.0 1437.5,1483.0 1438.5,1471.0 1439.5,1472.0 1440.7,1465.8 1441.8,1472.8 1442.9,1469.0 1444.1,1466.0 1445.1,1448.5 1446.1,1436.4 1447.1,1423.8 1448.6,1411.8 1450.1,1381.7 1451.1,1367.2 1452.1,1356.8 1453.1,1345.5 1454.6,1390.7M1457.6,1276.3 1459.1,1225.1 1460.6,1170.9 1462.1,1131.7 1463.1,1133.9 1464.1,1136.5 1465.1,1140.8M1468.1,1351.6 1469.6,1327.5 1471.2,1291.3 1472.7,1351.6 1474.2,1360.6M1475.7,1231.1 1477.2,1291.3M1478.7,1423.8 1480.2,1456.9M1481.7,1333.5 1483.2,1285.3 1484.7,1228.1 1486.2,1231.1M1487.7,1378.7 1488.7,1401.3 1489.7,1420.5 1490.7,1435.9M1493.7,1321.4 1495.2,1291.3 1496.4,1298.1 1497.5,1303.1 1498.6,1306.8 1499.8,1315.4 1500.9,1320.1 1502.0,1324.3 1503.1,1316.7 1504.3,1321.4 1505.4,1323.1 1506.5,1322.3 1507.7,1321.1 1508.8,1318.4 1509.8,1294.7 1510.8,1282.9 1511.8,1264.2M1513.3,1351.6 1514.3,1356.0 1515.3,1364.0 1516.3,1375.6 1517.8,1438.9 1518.8,1426.8 1519.8,1414.5 1520.8,1399.7 1521.8,1389.2 1522.8,1378.6 1523.8,1363.6 1525.4,1315.4M1526.9,1107.7 1528.4,1137.8 1529.9,1185.9M1594.6,1315.4 1596.1,1363.6 1597.1,1358.0 1598.1,1347.2 1599.1,1339.5 1600.1,1322.0 1601.1,1318.7 1602.1,1303.4 1603.1,1293.2 1604.1,1279.3 1605.1,1261.2 1606.2,1251.4 1607.2,1233.6 1608.2,1228.1 1609.2,1238.5 1610.2,1251.5 1611.2,1270.3 1612.2,1278.9 1613.2,1284.8 1614.2,1291.3 1615.3,1283.8 1616.4,1289.3 1617.6,1285.8 1618.7,1276.3 1619.7,1276.1 1620.7,1265.8 1621.7,1261.2 1622.5,1261.2 1623.5,1271.8 1624.5,1283.8 1625.5,1300.4 1626.5,1310.3 1627.5,1314.8 1628.6,1318.4 1629.6,1301.7 1630.6,1295.2 1631.6,1276.3 1632.7,1274.9 1633.8,1270.7 1634.9,1268.5 1636.1,1267.2 1637.2,1264.6 1638.3,1256.2 1639.5,1253.4 1640.6,1246.2 1641.7,1237.9 1642.9,1241.1 1644.0,1232.1 1645.1,1231.1 1646.1,1229.0 1647.1,1213.6 1648.1,1210.0 1649.3,1207.3 1650.4,1209.0 1651.5,1206.5 1652.6,1207.0 1653.6,1223.4 1654.6,1244.2 1655.7,1255.2 1656.7,1239.6 1657.7,1234.4 1658.7,1219.1 1659.8,1222.1 1660.9,1224.0 1662.0,1220.7 1663.2,1222.1 1664.3,1226.8 1665.4,1230.8 1666.6,1237.6 1667.7,1243.2 1668.7,1246.2 1669.7,1251.5 1670.7,1261.2 1672.2,1288.3 1673.2,1284.0 1674.2,1276.6 1675.2,1276.3 1676.2,1258.9 1677.2,1243.0 1678.2,1225.1 1679.4,1224.3 1680.5,1224.1 1681.6,1230.9 1682.8,1231.1 1683.9,1240.0 1685.0,1236.8 1686.1,1246.1 1687.3,1249.2 1688.4,1253.3 1689.5,1258.3 1690.7,1258.1 1691.8,1258.2 1692.8,1246.9 1693.8,1236.6 1694.8,1231.1 1695.8,1233.1 1696.8,1224.7 1697.8,1225.1 1698.8,1229.3 1699.8,1249.6 1700.8,1255.2 1701.8,1267.6 1702.8,1285.1 1703.8,1303.4 1704.8,1292.2 1705.8,1282.4 1706.8,1276.3 1708.0,1275.2 1709.1,1266.9 1710.2,1264.3 1711.4,1261.2 1712.5,1269.3 1713.6,1283.3 1714.7,1282.5 1715.9,1297.4 1716.9,1288.3 1717.9,1272.9 1718.9,1267.2 1720.0,1257.8 1721.1,1258.0 1722.3,1249.9 1723.4,1246.2 1724.4,1256.0 1725.4,1277.3 1726.4,1291.3 1727.5,1298.6 1728.7,1297.6 1729.8,1298.1 1730.9,1300.4 1731.9,1313.0 1732.9,1323.4 1733.9,1327.5 1734.9,1316.3 1735.9,1311.0 1737.0,1306.4 1738.0,1304.9 1739.0,1297.5 1740.0,1285.3 1741.0,1269.7 1742.0,1263.7 1743.0,1249.2 1744.0,1260.7 1745.0,1264.3 1746.0,1270.3 1747.0,1284.7 1748.0,1294.6 1749.0,1306.4 1750.5,1375.6 1751.5,1357.4 1752.5,1342.1 1753.5,1330.5M1758.0,1336.5 1759.0,1326.2 1760.0,1328.5 1761.0,1321.4M1765.6,1291.3 1766.6,1299.0 1767.6,1316.9 1768.6,1327.5M1771.6,1207.0 1772.6,1208.7 1773.6,1212.3 1774.6,1216.1 1775.6,1226.7 1776.6,1224.8 1777.6,1231.1 1779.1,1291.3 1780.1,1300.1 1781.1,1308.0 1782.1,1318.4 1783.1,1308.0 1784.1,1301.1 1785.1,1297.4 1786.1,1305.8 1787.1,1317.2 1788.1,1321.4 1789.6,1348.5 1790.6,1329.6 1791.7,1325.8 1792.7,1306.4 1793.7,1290.4 1794.7,1264.9 1795.7,1252.2 1796.7,1260.7 1797.7,1263.1 1798.7,1270.3 1799.7,1277.5 1800.7,1279.5 1801.7,1291.3M1810.7,1273.3 1811.7,1259.3 1812.7,1245.4 1813.7,1231.1 1814.7,1243.5 1815.7,1250.2 1816.7,1258.2 1817.9,1263.7 1819.0,1267.1 1820.1,1263.9 1821.3,1270.3M1824.3,1354.6 1825.3,1331.8 1826.3,1320.2 1827.3,1303.4 1828.3,1289.9 1829.3,1281.0 1830.3,1276.3 1831.3,1289.2 1832.3,1306.8 1833.3,1321.4M1836.3,1426.8 1837.3,1408.2 1838.3,1388.4 1839.3,1366.6 1840.3,1356.9 1841.3,1331.7 1842.3,1321.4 1843.3,1318.1 1844.3,1308.5 1845.4,1309.4 1846.9,1243.2 1847.9,1259.3 1848.9,1270.5 1849.9,1285.3 1850.9,1286.0 1851.9,1293.1 1852.9,1300.4 1854.0,1304.6 1855.1,1304.6 1856.3,1312.5 1857.4,1309.4 1858.5,1300.9 1859.7,1293.9 1860.8,1294.1 1861.9,1282.3 1863.0,1288.8 1864.2,1288.1 1865.3,1301.5 1866.4,1303.4 1867.6,1306.3 1868.7,1317.8 1869.8,1318.6 1870.9,1321.4M1875.5,1327.5 1877.0,1351.6M1878.5,1426.8 1880.0,1484.0 1881.0,1481.7 1882.0,1476.8 1883.0,1466.0 1884.0,1458.1 1885.0,1455.5 1886.0,1441.9 1887.1,1432.4 1888.3,1432.5 1889.4,1434.7 1890.5,1426.8 1891.5,1408.9 1892.5,1404.8 1893.5,1390.7 1894.5,1394.7 1895.5,1389.3 1896.5,1384.7M1908.6,1243.2 1909.6,1231.4 1910.6,1206.0 1911.6,1195.0 1913.1,1207.0M1917.6,1466.0 1918.6,1450.4 1919.6,1435.2 1920.6,1417.8 1921.6,1429.1 1922.6,1440.9 1923.6,1453.9M1928.2,1276.3 1929.2,1275.8 1930.2,1264.2 1931.2,1264.2 1932.2,1265.8 1933.2,1279.4 1934.2,1285.3 1935.2,1303.0 1936.2,1313.3 1937.2,1321.4 1938.2,1329.5 1939.2,1331.0 1940.2,1339.5 1941.0,1321.4 1942.0,1316.3 1943.0,1295.9 1944.0,1291.3 1945.0,1284.3 1946.0,1286.8 1947.0,1279.3 1948.0,1293.1 1949.1,1296.2 1950.1,1306.4 1951.1,1321.3 1952.1,1321.8 1953.1,1336.5 1954.1,1323.6 1955.1,1303.2 1956.1,1294.3 1957.1,1302.2 1958.1,1312.7 1959.1,1327.5 1960.1,1327.6 1961.1,1338.4 1962.1,1345.5 1963.6,1381.7 1965.1,1423.8 1966.6,1447.9 1968.1,1481.0 1969.1,1472.0 1970.1,1460.3 1971.1,1453.9 1972.1,1459.8 1973.1,1456.6 1974.1,1466.0 1975.1,1454.1 1976.2,1442.2 1977.2,1429.8 1978.2,1440.7 1979.2,1458.9 1980.2,1466.0 1981.2,1463.5 1982.2,1469.1 1983.2,1472.0 1984.2,1477.5 1985.2,1482.5 1986.2,1490.1 1987.2,1487.7 1988.2,1474.9 1989.2,1466.0 1990.2,1472.2 1991.2,1477.3 1992.2,1484.0 1993.7,1441.9 1995.2,1411.8 1996.7,1396.7 1998.2,1351.6 1999.7,1384.7 2000.7,1361.9 2001.7,1345.9 2002.8,1318.4 2003.8,1343.1 2004.8,1362.4 2005.8,1381.7 2006.8,1367.6 2007.8,1362.7 2008.8,1351.6 2009.8,1359.1 2010.8,1373.9 2011.8,1387.7 2012.8,1365.9 2013.8,1358.0 2014.8,1339.5 2015.8,1339.2 2016.8,1329.1 2017.8,1321.4 2018.8,1332.3 2019.8,1338.5 2020.8,1351.6 2021.8,1343.8 2022.8,1337.1 2023.8,1330.5 2024.8,1334.6 2025.8,1337.8 2026.8,1345.5 2027.8,1349.2 2028.8,1362.6 2029.9,1366.6 2030.9,1379.1 2031.9,1384.5 2032.9,1387.7 2033.9,1394.2 2034.9,1392.1 2035.9,1402.7 2036.9,1387.3 2037.9,1380.7 2038.9,1363.6 2039.9,1377.3 2040.9,1380.2 2041.9,1387.7 2042.9,1369.4 2043.9,1351.8 2044.9,1330.5 2046.0,1324.4 2047.2,1327.0 2048.3,1319.8 2049.4,1318.4 2050.4,1337.7 2051.4,1348.1 2052.4,1363.6 2053.4,1351.5 2054.4,1336.2 2055.4,1321.4 2056.4,1339.9 2057.5,1357.1 2058.5,1375.6 2060.0,1399.7 2061.5,1429.8 2062.5,1444.3 2063.5,1451.0 2064.5,1456.9 2065.5,1459.0 2066.5,1463.0 2067.5,1466.0 2068.5,1462.7 2069.5,1452.9 2070.5,1441.9 2072.0,1411.8 2073.5,1366.6 2074.5,1355.4 2075.5,1346.0 2076.5,1327.5 2077.5,1320.9 2078.5,1324.6 2079.5,1321.4 2080.5,1315.9 2081.5,1306.9 2082.5,1300.4 2083.5,1300.9 2084.6,1295.9 2085.6,1285.3 2086.6,1280.0 2087.6,1278.7 2088.6,1273.3 2089.6,1282.5 2090.6,1287.7 2091.6,1291.3 2092.6,1299.7 2093.6,1315.0 2094.6,1321.4 2095.6,1327.7 2096.6,1333.3 2097.6,1345.5 2098.6,1355.5 2099.6,1363.4 2100.6,1369.6 2101.6,1378.6 2102.6,1389.7 2103.6,1399.7 2104.6,1417.6 2105.6,1427.5 2106.6,1435.9 2107.6,1426.7 2108.6,1424.8 2109.6,1411.8 2110.6,1414.6 2111.7,1414.7 2112.7,1417.8 2113.7,1413.5 2114.7,1409.2 2115.7,1399.7 2116.8,1401.5 2117.9,1395.8 2119.1,1392.7 2120.2,1387.7 2121.2,1390.5 2122.2,1390.2 2123.2,1399.7 2124.2,1408.2 2125.2,1413.2 2126.2,1426.8 2127.3,1435.9 2128.5,1432.7 2129.6,1439.4 2130.7,1441.9 2131.7,1433.7 2132.7,1416.0 2133.7,1408.8 2134.7,1401.7 2135.7,1384.6 2136.7,1375.6 2137.8,1365.6 2138.8,1366.8 2139.8,1360.6 2140.8,1366.4 2141.8,1379.7 2142.8,1381.7 2143.8,1363.9 2144.8,1342.7 2145.8,1330.5 2146.8,1322.7 2147.8,1320.8 2148.8,1324.5 2149.8,1318.4 2150.8,1315.0 2151.8,1306.4 2152.9,1298.7 2154.1,1299.8 2155.2,1299.4 2156.3,1297.4 2157.3,1305.1 2158.3,1309.0 2159.3,1306.4 2160.3,1300.9 2161.3,1288.0 2162.3,1276.3 2163.3,1289.2 2164.3,1297.0 2165.4,1312.4 2166.4,1315.8 2167.4,1312.4 2168.4,1318.4 2169.4,1320.1 2170.4,1330.4 2171.4,1330.5 2172.4,1342.3 2173.4,1355.3 2174.4,1363.6 2175.9,1417.8 2176.9,1401.3 2177.9,1383.0 2178.9,1369.6 2179.9,1389.7 2180.9,1410.7 2181.9,1429.8 2182.9,1439.8 2183.9,1460.1 2184.9,1469.0 2185.9,1451.7 2186.9,1419.0 2187.9,1399.7 2188.9,1394.6 2189.9,1399.5 2190.9,1393.7 2192.0,1402.4 2193.0,1402.5 2194.0,1411.8 2195.0,1422.9 2196.0,1428.7 2197.0,1441.9 2198.0,1455.3 2199.0,1461.0 2200.0,1469.0M2201.5,1351.6 2203.0,1315.4 2204.0,1314.6 2205.0,1309.4 2206.0,1312.4 2207.0,1305.3 2208.0,1300.0 2209.0,1294.3 2210.0,1295.7 2211.0,1296.5 2212.0,1303.4 2213.0,1306.8 2214.0,1319.8 2215.0,1324.5 2216.0,1336.6 2217.0,1342.6 2218.0,1345.5 2219.1,1351.9 2220.1,1359.1 2221.1,1360.6 2222.1,1363.2 2223.1,1371.2 2224.1,1381.7 2225.1,1385.1 2226.1,1377.7 2227.1,1384.7 2228.1,1373.7 2229.1,1376.0 2230.1,1366.6 2231.1,1352.9 2232.1,1342.8 2233.1,1336.5 2234.1,1323.2 2235.1,1316.5 2236.1,1300.4 2237.1,1291.5 2238.1,1298.9 2239.1,1291.3 2240.1,1288.0 2241.1,1290.2 2242.1,1288.3 2243.1,1301.0 2244.1,1309.9 2245.1,1327.5 2246.2,1338.0 2247.2,1333.6 2248.2,1342.5 2249.7,1363.6 2251.2,1405.8 2252.7,1460.0 2253.7,1446.6 2254.7,1430.4 2255.7,1408.8 2256.8,1406.0 2257.9,1409.8 2259.1,1396.8 2260.2,1399.7 2261.5,1380.6 2262.9,1370.0 2263.9,1364.4 2265.0,1359.3 2266.1,1353.1 2267.1,1357.1 2268.2,1370.5 2269.3,1376.4 2270.4,1389.3 2271.4,1406.4 2272.5,1421.4 2273.6,1442.8 2274.6,1451.7 2275.7,1460.0 2276.8,1457.1 2277.9,1447.1 2278.9,1438.1 2280.0,1434.3 2281.1,1426.4 2282.1,1430.0 2283.2,1436.8 2284.3,1434.3 2285.4,1435.0 2286.4,1442.8 2287.5,1454.7 2288.6,1468.5 2289.6,1475.8 2290.7,1492.1 2291.8,1479.2 2292.8,1464.3 2293.9,1453.1 2295.0,1442.8 2296.1,1431.7 2297.1,1427.8 2298.2,1421.2 2299.3,1425.7 2300.3,1408.7 2301.4,1395.7 2302.5,1387.3 2303.6,1372.1 2304.6,1351.9 2305.7,1340.0 2306.8,1330.3 2307.8,1327.1 2308.9,1323.2 2310.0,1316.4 2311.1,1313.7 2312.1,1307.8 2313.2,1313.6 2314.3,1312.1 2315.3,1319.2 2316.4,1322.8 2317.5,1333.5 2318.6,1335.7 2319.6,1342.3 2320.7,1357.1 2321.8,1360.0 2322.8,1352.8 2323.9,1338.6 2325.0,1335.7 2326.1,1324.7 2327.1,1322.8 2328.2,1288.6 2329.3,1281.7 2330.3,1284.3 2331.4,1291.9 2332.5,1292.8 2333.6,1294.3 2334.6,1300.8 2335.7,1297.1 2336.8,1304.3 2337.8,1305.4 2338.9,1301.4 2340.0,1307.1 2341.1,1310.0 2342.1,1311.4 2343.2,1316.4 2344.3,1292.8 2345.3,1289.8 2346.4,1275.7 2347.5,1269.9 2348.6,1258.6 2349.6,1247.4 2350.7,1243.6 2351.8,1247.4 2352.8,1250.0 2353.9,1248.5 2355.0,1258.6 2356.1,1254.9 2357.1,1262.8" fill="none" stroke="#4472C4" stroke-width="2.6" stroke-linejoin="round"/>
<defs><marker id="mk2" markerUnits="userSpaceOnUse" markerWidth="9.4" markerHeight="6.4" refX="4.2" refY="2.7" overflow="visible"><path d="M0,2.7L4.2,0L8.4,2.7L4.2,5.4Z" fill="#27448a"/></marker></defs>
<polyline points="457.0,1237.1 458.5,1333.5 461.5,1393.7 463.0,1297.4 464.5,1321.4 466.0,1192.0 508.1,1134.8 509.6,1321.4 509.6,1321.4 511.2,1405.8 511.2,1405.8 512.7,1315.4 518.7,1312.4 520.2,1189.0 527.7,1225.1 529.2,1306.4 530.7,1375.6 532.2,1261.2 532.2,1261.2 535.2,1339.5 535.2,1339.5 538.3,1267.2 584.9,1276.3 586.4,1198.0 594.0,1288.3 597.0,1201.0 607.5,1125.7 609.0,1050.4 609.0,1050.4 612.0,1164.9 651.2,1267.2 654.2,1369.6 655.7,1417.8 657.2,1173.9 657.2,1173.9 658.7,1321.4 658.0,1321.4 659.5,1417.8 659.5,1417.8 661.0,1336.5 667.0,1345.5 668.6,1201.0 668.6,1201.0 670.1,1122.7 671.6,1071.5 673.1,1201.0 674.6,1158.8 676.1,1315.4 676.1,1315.4 677.6,1179.9 698.7,1363.6 700.2,1282.3 746.8,1417.8 749.9,1321.4 751.4,1366.6 752.9,1441.9 754.4,1490.1 757.4,1411.8 792.0,1484.0 792.9,1354.6 822.1,1264.2 825.1,1363.6 889.9,1222.1 892.9,1306.4 968.2,1237.1 969.7,1164.9 969.7,1164.9 971.2,1261.2 971.2,1261.2 972.7,1390.7 974.2,1435.9 977.2,1351.6 980.2,1411.8 981.0,1336.5 984.0,1381.7 985.5,1128.7 985.5,1128.7 987.0,1231.1 987.0,1231.1 988.6,1396.7 988.6,1396.7 990.1,1261.2 1000.6,1315.4 1002.1,1231.1 1029.2,1140.8 1030.7,1213.0 1038.2,1182.9 1039.7,1098.6 1107.5,1478.0 1109.0,1405.8 1109.0,1405.8 1110.5,1327.5 1202.3,1426.8 1203.8,1351.6 1271.6,1405.8 1273.1,1321.4 1353.7,1441.9 1355.2,1369.6 1454.6,1390.7 1457.6,1276.3 1465.1,1140.8 1466.6,1261.2 1466.6,1261.2 1468.1,1351.6 1474.2,1360.6 1475.7,1231.1 1477.2,1291.3 1478.7,1423.8 1480.2,1456.9 1481.7,1333.5 1486.2,1231.1 1487.7,1378.7 1490.7,1435.9 1493.7,1321.4 1511.8,1264.2 1513.3,1351.6 1525.4,1315.4 1526.9,1185.9 1526.9,1185.9 1526.9,1107.7 1529.9,1185.9 1594.6,1315.4 1753.5,1330.5 1755.0,1447.9 1755.0,1447.9 1758.0,1336.5 1761.0,1321.4 1762.5,1204.0 1762.5,1204.0 1765.6,1291.3 1768.6,1327.5 1771.6,1207.0 1801.7,1291.3 1804.1,1195.0 1804.1,1195.0 1806.2,1276.3 1806.2,1276.3 1807.7,1375.6 1807.7,1375.6 1810.7,1273.3 1821.3,1270.3 1824.3,1354.6 1833.3,1321.4 1836.3,1426.8 1870.9,1321.4 1873.4,1240.1 1873.4,1240.1 1875.5,1327.5 1877.0,1351.6 1878.5,1426.8 1896.5,1384.7 1899.6,1279.3 1899.6,1279.3 1901.1,1369.6 1901.1,1369.6 1902.6,1478.0 1902.6,1478.0 1905.6,1381.7 1905.6,1381.7 1908.6,1243.2 1913.1,1207.0 1914.6,1339.5 1914.6,1339.5 1917.6,1466.0 1923.6,1453.9 1926.7,1351.6 1926.7,1351.6 1928.2,1276.3 2200.0,1469.0 2201.5,1351.6 339.5,1360.6 339.5,1306.4 340.5,1306.8 341.5,1301.7 342.5,1291.3 343.5,1288.0 344.5,1290.4 345.5,1297.4 346.5,1294.4 347.5,1286.1 348.6,1276.3 349.6,1280.3 350.6,1278.0 351.6,1282.3 352.6,1286.6 353.6,1289.6 354.6,1291.3 356.1,1255.2 357.1,1251.2 358.1,1241.1 359.1,1240.1 360.1,1244.3 361.1,1248.9 362.1,1255.2 363.1,1262.9 364.1,1271.2 365.1,1270.3 366.1,1280.7 367.1,1280.8 368.1,1285.3 369.1,1286.7 370.1,1286.5 371.1,1291.3 372.1,1286.8 373.1,1287.7 374.1,1294.3 375.1,1287.9 376.2,1280.1 377.2,1276.3 378.3,1269.2 379.5,1269.6 380.7,1259.5 381.8,1254.3 383.0,1244.7 384.2,1236.4 385.4,1234.4 386.5,1226.4 387.7,1225.1 388.7,1237.3 389.7,1255.2 390.7,1261.2 391.7,1267.3 392.7,1265.4 393.7,1273.3 394.7,1275.0 395.7,1270.8 396.7,1264.2 398.2,1210.0 399.2,1200.8 400.2,1190.8 401.2,1173.9 402.2,1185.1 403.3,1193.4 404.3,1198.0 405.3,1200.3 406.3,1211.8 407.3,1210.0 408.3,1219.6 409.3,1214.0 410.3,1222.1 411.3,1233.2 412.3,1240.7 413.3,1246.2 414.8,1261.2 415.8,1250.7 416.8,1241.5 417.8,1231.1 418.8,1225.0 419.8,1224.2 420.8,1213.0 421.8,1225.1 422.8,1241.1 423.8,1249.2 424.8,1239.4 425.8,1237.7 426.8,1225.1 427.8,1219.9 428.8,1204.5 429.9,1195.0 430.9,1200.8 431.9,1210.1 432.9,1210.0 433.9,1220.8 434.9,1225.9 435.9,1234.1 436.9,1213.7 437.9,1197.9 438.9,1182.9 439.9,1170.3 440.9,1148.8 441.9,1137.8 442.9,1143.7 443.9,1137.0 444.9,1140.8 445.9,1140.7 446.9,1128.5 447.9,1125.7 448.9,1142.3 449.9,1150.3 450.9,1158.8 451.9,1164.9 452.9,1171.1 453.9,1176.9 454.9,1181.7 455.9,1184.0 457.0,1185.9 457.0,1237.1 458.5,1333.5 459.5,1351.3 460.5,1370.1 461.5,1393.7 463.0,1297.4 464.5,1321.4 466.0,1192.0 467.5,1152.8 468.5,1140.9 469.5,1133.9 470.5,1116.7 471.5,1114.2 472.5,1103.6 473.5,1104.6 475.0,1074.5 476.0,1070.3 477.0,1061.2 478.0,1050.4 479.0,1053.3 480.0,1042.7 481.0,1044.4 482.0,1033.3 483.0,1011.0 484.1,1002.3 485.1,1010.1 486.1,1011.6 487.1,1020.3 488.1,1007.0 489.1,1004.8 490.1,990.2 491.1,1005.6 492.1,1030.6 493.1,1050.4 494.6,1086.6 496.1,1101.6 497.1,1089.8 498.1,1066.5 499.1,1053.5 500.1,1038.9 501.1,1035.9 502.1,1020.3 503.1,1031.5 504.1,1047.0 505.1,1056.5 506.6,1116.7 508.1,1134.8 512.7,1315.4 513.7,1315.8 514.7,1325.8 515.7,1333.5 517.2,1351.6 518.7,1312.4 520.2,1189.0 521.7,1170.9 522.7,1181.0 523.7,1201.1 524.7,1213.0 525.7,1212.1 526.7,1226.5 527.7,1225.1 529.2,1306.4 530.7,1375.6 538.3,1267.2 539.3,1252.5 540.3,1251.9 541.3,1240.1 542.3,1245.4 543.3,1259.3 544.3,1273.3 545.4,1259.7 546.5,1234.5 547.7,1217.5 548.8,1204.0 549.8,1210.3 550.8,1210.7 551.8,1216.1 552.8,1223.6 553.8,1248.0 554.8,1255.2 555.8,1258.0 556.8,1263.7 557.8,1276.3 559.3,1312.4 560.3,1291.5 561.3,1275.7 562.3,1255.2 563.5,1254.3 564.6,1243.0 565.7,1242.0 566.9,1240.1 567.9,1243.6 568.9,1257.6 569.9,1267.2 570.9,1288.5 571.9,1306.3 572.9,1321.4 573.9,1338.3 574.9,1348.6 575.9,1357.6 577.4,1387.7 578.4,1382.0 579.4,1370.1 580.4,1357.6 581.9,1321.4 583.4,1291.3 584.9,1276.3 586.4,1198.0 587.4,1208.7 588.4,1216.8 589.4,1231.1 590.4,1243.1 591.4,1249.0 592.5,1261.2 594.0,1288.3 597.0,1201.0 598.5,1164.9 599.5,1152.1 600.5,1148.2 601.5,1140.8 602.5,1134.2 603.5,1114.2 604.5,1107.7 605.5,1114.7 606.5,1118.4 607.5,1125.7 612.0,1164.9 612.0,1231.1 613.2,1228.3 614.3,1220.8 615.4,1227.6 616.5,1219.1 617.5,1228.2 618.5,1244.4 619.6,1255.2 620.6,1246.2 621.6,1233.4 622.6,1231.1 623.6,1227.8 624.6,1218.8 625.6,1219.1 627.1,1189.0 628.1,1187.7 629.1,1191.4 630.1,1201.0 631.1,1216.0 632.1,1234.3 633.1,1258.2 634.6,1291.3 635.6,1299.0 636.6,1303.5 637.6,1309.4 638.6,1319.2 639.6,1322.6 640.6,1321.4 641.8,1319.9 642.9,1303.2 644.0,1298.2 645.1,1291.3 646.2,1285.3 647.2,1286.4 648.2,1282.3 649.2,1278.8 650.2,1275.9 651.2,1267.2 654.2,1369.6 655.7,1417.8 658.7,1321.4 659.7,1342.0 660.7,1354.7 661.7,1375.6 660.5,1356.7 659.2,1339.8 658.0,1321.4 661.0,1336.5 662.0,1343.6 663.0,1357.0 664.0,1375.6 665.5,1321.4 667.0,1345.5 670.1,1122.7 671.6,1071.5 673.1,1201.0 674.6,1158.8 677.6,1179.9 679.1,1222.1 680.6,1285.3 682.1,1321.4 683.1,1323.4 684.1,1322.8 685.1,1330.5 686.6,1375.6 688.1,1336.5 689.6,1405.8 691.1,1441.9 692.6,1472.0 694.1,1490.1 695.7,1441.9 697.2,1405.8 698.7,1363.6 700.2,1282.3 701.2,1284.0 702.2,1277.2 703.2,1279.3 704.7,1327.5 706.2,1375.6 707.2,1369.8 708.2,1369.8 709.2,1372.6 710.2,1361.4 711.2,1353.2 712.2,1348.5 713.3,1355.6 714.5,1361.7 715.6,1366.6 716.7,1375.6 717.7,1359.3 718.7,1336.1 719.7,1321.4 720.8,1317.3 721.8,1303.4 723.2,1318.0 724.5,1324.2 725.8,1330.5 726.9,1327.4 728.0,1326.1 729.1,1324.7 730.3,1321.4 731.4,1314.6 732.5,1317.5 733.7,1317.2 734.8,1315.4 735.9,1310.8 737.1,1309.0 738.2,1316.8 739.3,1312.4 740.3,1323.9 741.3,1338.7 742.3,1351.6 743.3,1372.7 744.3,1385.0 745.3,1399.7 746.8,1417.8 749.9,1321.4 751.4,1366.6 752.9,1441.9 754.4,1490.1 757.4,1411.8 758.9,1357.6 760.4,1291.3 761.9,1246.2 762.9,1246.7 763.9,1258.0 764.9,1255.2 765.9,1256.7 766.9,1255.5 767.9,1264.2 768.9,1269.5 769.9,1265.5 770.9,1273.3 771.9,1277.0 772.9,1289.4 773.9,1291.3 775.4,1345.5 777.0,1357.6 778.5,1411.8 779.5,1421.9 780.5,1422.0 781.5,1435.9 782.5,1437.3 783.5,1438.8 784.5,1441.9 785.5,1436.7 786.5,1428.4 787.5,1426.8 788.5,1441.0 789.5,1447.8 790.5,1466.0 792.0,1484.0 792.9,1354.6 794.0,1323.4 795.0,1297.4 796.0,1301.9 797.0,1314.6 798.0,1315.4 799.0,1317.4 800.0,1332.5 801.0,1336.5 802.0,1337.8 803.0,1347.4 804.1,1351.6 805.1,1342.2 806.1,1335.1 807.1,1327.5 808.2,1339.5 809.3,1344.3 810.5,1350.0 811.6,1363.6 812.7,1350.8 813.8,1342.0 815.0,1343.0 816.1,1330.5 817.1,1314.1 818.1,1299.9 819.1,1276.3 820.1,1274.6 821.1,1262.5 822.1,1264.2 825.1,1363.6 826.6,1306.4 827.6,1295.3 828.6,1283.6 829.6,1267.2 830.6,1261.9 831.7,1251.2 832.7,1243.2 833.7,1252.5 834.7,1264.7 835.7,1276.3 836.7,1286.9 837.7,1287.6 838.7,1297.4 839.7,1303.7 840.7,1309.1 841.7,1315.4 842.7,1325.9 843.7,1329.1 844.7,1330.5 845.7,1337.7 846.7,1338.5 847.7,1336.5 848.8,1326.5 850.0,1318.2 851.1,1313.8 852.2,1306.4 853.2,1311.5 854.2,1321.6 855.2,1330.5 856.2,1337.7 857.2,1345.5 858.3,1345.5 859.4,1355.6 860.5,1367.4 861.6,1367.8 862.8,1381.7 863.8,1390.0 864.8,1407.7 865.8,1411.8 866.9,1410.6 868.0,1416.8 869.2,1415.6 870.3,1423.8 871.4,1421.9 872.6,1434.6 873.7,1438.7 874.8,1435.9 875.8,1429.6 876.8,1415.4 877.8,1411.8 879.3,1363.6 880.3,1353.1 881.3,1344.3 882.3,1339.5 883.3,1330.5 884.3,1319.6 885.4,1306.4 886.4,1295.6 887.4,1286.6 888.4,1276.3 889.9,1222.1 892.9,1306.4 893.9,1317.8 894.9,1339.0 895.9,1354.6 896.9,1348.9 897.9,1335.6 898.9,1321.4 899.9,1307.6 900.9,1303.6 901.9,1294.3 902.9,1306.0 903.9,1309.5 904.9,1321.4 905.9,1319.2 906.9,1306.9 907.9,1300.4 908.9,1297.8 909.9,1289.2 910.9,1285.3 912.0,1286.2 913.0,1278.7 914.0,1270.3 915.1,1270.4 916.2,1264.5 917.3,1267.3 918.5,1267.2 919.6,1260.8 920.7,1266.9 921.9,1269.6 923.0,1264.2 924.0,1280.5 925.0,1304.5 926.0,1324.5 927.5,1351.6 928.5,1357.4 929.5,1362.5 930.5,1369.6 931.6,1375.2 932.8,1380.9 933.9,1381.1 935.0,1381.7 936.2,1385.1 937.3,1394.7 938.4,1390.9 939.6,1396.7 940.6,1406.7 941.6,1412.7 942.6,1417.8 943.6,1431.0 944.6,1442.1 945.6,1447.9 946.6,1458.7 947.6,1477.5 948.6,1490.1 949.6,1480.9 950.6,1476.0 951.6,1466.0 952.6,1455.7 953.6,1435.5 954.6,1417.8 956.1,1366.6 957.1,1355.7 958.1,1356.2 959.1,1351.6 960.1,1344.1 961.1,1336.1 962.1,1321.4 963.1,1307.2 964.1,1293.1 965.1,1273.3 966.2,1255.4 967.2,1254.5 968.2,1237.1 972.7,1390.7 974.2,1435.9 977.2,1351.6 978.2,1374.4 979.2,1393.0 980.2,1411.8 981.0,1336.5 982.0,1356.4 983.0,1371.2 984.0,1381.7 990.1,1261.2 991.6,1321.4 992.6,1334.7 993.6,1361.4 994.6,1375.6 996.1,1351.6 997.1,1334.7 998.1,1307.8 999.1,1291.3 1000.6,1315.4 1002.1,1231.1 1003.6,1201.0 1005.1,1152.8 1006.1,1151.7 1007.1,1145.8 1008.1,1140.8 1009.1,1145.1 1010.1,1160.5 1011.1,1164.9 1012.1,1150.5 1013.1,1146.1 1014.1,1134.8 1015.1,1127.9 1016.2,1119.8 1017.2,1116.7 1018.2,1119.5 1019.2,1120.3 1020.2,1122.7 1021.2,1133.2 1022.2,1156.4 1023.2,1164.9 1024.2,1157.7 1025.2,1154.9 1026.2,1158.8 1027.2,1152.6 1028.2,1150.8 1029.2,1140.8 1030.7,1213.0 1031.7,1230.0 1032.7,1246.2 1033.7,1258.2 1035.2,1195.0 1036.2,1190.8 1037.2,1189.0 1038.2,1182.9 1039.7,1098.6 1040.7,1096.6 1041.7,1095.8 1042.8,1098.6 1043.8,1104.7 1044.8,1105.0 1045.8,1116.7 1047.3,1176.9 1048.3,1149.8 1049.3,1135.8 1050.3,1110.7 1051.3,1102.7 1052.3,1105.6 1053.3,1098.6 1054.8,1062.5 1056.3,999.3 1057.8,1020.3 1059.3,1044.4 1060.8,1068.5 1062.3,1116.7 1063.8,1140.8 1064.8,1152.2 1065.8,1155.7 1066.8,1164.9 1067.8,1158.9 1068.8,1152.3 1069.9,1140.8 1070.9,1136.1 1071.9,1118.3 1072.9,1113.7 1073.9,1119.7 1074.9,1132.3 1075.9,1143.8 1076.9,1144.4 1077.9,1143.3 1078.9,1146.8 1079.9,1137.9 1080.9,1141.5 1081.9,1137.8 1082.9,1146.4 1083.9,1142.2 1084.9,1146.8 1086.4,1167.9 1087.9,1195.0 1089.4,1219.1 1090.9,1243.2 1091.9,1249.6 1092.9,1253.8 1093.9,1261.2 1094.9,1270.6 1095.9,1285.7 1097.0,1291.3 1098.5,1327.5 1100.0,1357.6 1101.5,1375.6 1103.0,1345.5 1104.5,1408.8 1106.0,1426.8 1107.5,1478.0 1110.5,1327.5 1112.0,1291.3 1113.5,1273.3 1115.0,1249.2 1116.0,1240.9 1117.0,1238.9 1118.0,1231.1 1119.2,1229.4 1120.3,1228.6 1121.4,1231.6 1122.5,1225.1 1123.5,1215.0 1124.6,1218.9 1125.6,1210.0 1126.6,1199.7 1127.6,1195.7 1128.6,1185.9 1129.6,1183.5 1130.6,1175.7 1131.6,1167.9 1132.6,1167.6 1133.6,1174.0 1134.6,1170.9 1135.6,1176.0 1136.6,1192.6 1137.6,1201.0 1139.1,1225.1 1140.1,1225.8 1141.1,1229.5 1142.1,1231.1 1143.1,1241.3 1144.1,1246.7 1145.1,1249.2 1146.6,1258.2 1148.1,1216.1 1149.1,1210.6 1150.1,1199.7 1151.2,1195.0 1152.2,1193.8 1153.2,1198.5 1154.2,1201.0 1155.2,1203.8 1156.2,1210.4 1157.2,1219.1 1158.2,1234.6 1159.2,1234.5 1160.2,1249.2 1161.2,1260.0 1162.2,1261.8 1163.2,1270.3 1164.2,1277.7 1165.2,1286.1 1166.2,1297.4 1167.7,1333.5 1169.2,1369.6 1170.2,1372.6 1171.2,1385.2 1172.2,1393.7 1173.2,1395.7 1174.2,1405.1 1175.2,1411.8 1176.4,1406.3 1177.5,1410.5 1178.6,1407.8 1179.8,1399.7 1180.8,1415.1 1181.8,1433.5 1182.8,1447.9 1183.8,1441.0 1184.8,1421.7 1185.8,1411.8 1186.9,1410.7 1188.0,1416.2 1189.2,1419.3 1190.3,1426.8 1191.4,1432.7 1192.6,1432.9 1193.7,1436.4 1194.8,1441.9 1195.8,1453.5 1196.8,1454.8 1197.8,1466.0 1198.8,1470.7 1199.8,1469.6 1200.8,1469.0 1202.3,1426.8 1203.8,1351.6 1205.4,1321.4 1206.4,1300.2 1207.4,1285.2 1208.4,1261.2 1209.4,1258.3 1210.4,1263.8 1211.4,1258.2 1212.4,1274.4 1213.4,1280.3 1214.4,1291.3 1215.4,1311.7 1216.4,1332.9 1217.4,1345.5 1218.9,1315.4 1219.9,1310.3 1220.9,1302.4 1221.9,1291.3 1223.0,1294.3 1224.2,1293.6 1225.3,1289.9 1226.4,1285.3 1227.6,1289.6 1228.7,1279.8 1229.8,1282.3 1230.9,1279.3 1232.0,1285.4 1233.0,1285.7 1234.0,1291.3 1235.5,1321.4 1236.5,1332.2 1237.5,1341.6 1238.5,1357.6 1240.0,1399.7 1241.5,1460.0 1242.5,1454.4 1243.5,1436.1 1244.5,1426.8 1245.5,1415.5 1246.5,1409.5 1247.5,1393.7 1248.5,1401.0 1249.5,1421.3 1250.5,1426.8 1251.5,1435.4 1252.5,1447.3 1253.5,1466.0 1254.5,1451.1 1255.5,1438.2 1256.5,1426.8 1257.7,1435.6 1258.8,1439.0 1259.9,1441.3 1261.1,1441.9 1262.1,1449.2 1263.1,1458.5 1264.1,1466.0 1265.2,1453.0 1266.3,1450.4 1267.5,1435.3 1268.6,1426.8 1269.6,1417.2 1270.6,1414.4 1271.6,1405.8 1273.1,1321.4 1274.6,1276.3 1275.6,1277.1 1276.6,1284.1 1277.6,1291.3 1278.6,1301.5 1279.6,1296.5 1280.6,1306.4 1281.8,1305.9 1282.9,1310.4 1284.0,1314.7 1285.1,1321.4 1286.2,1324.5 1287.2,1326.5 1288.2,1333.5 1289.2,1339.6 1290.2,1346.5 1291.2,1357.6 1292.2,1342.4 1293.2,1334.8 1294.2,1321.4 1295.7,1294.3 1296.7,1285.4 1297.7,1278.8 1298.7,1273.3 1299.7,1272.5 1300.7,1260.0 1301.7,1261.2 1302.9,1255.4 1304.0,1258.2 1305.0,1273.5 1306.0,1279.5 1307.0,1291.3 1308.6,1309.4 1310.1,1321.4 1311.6,1357.6 1313.1,1375.6 1314.1,1386.0 1315.1,1385.3 1316.1,1396.7 1317.1,1381.9 1318.1,1370.8 1319.1,1351.6 1320.1,1348.6 1321.1,1352.8 1322.1,1348.5 1323.6,1327.5 1325.1,1306.4 1326.1,1308.7 1327.1,1307.1 1328.1,1309.4 1329.1,1323.4 1330.1,1324.2 1331.1,1333.5 1332.6,1381.7 1334.1,1405.8 1335.7,1423.8 1336.8,1417.5 1337.9,1413.2 1339.0,1403.6 1340.2,1399.7 1341.2,1405.8 1342.2,1404.9 1343.2,1405.8 1344.2,1413.8 1345.2,1420.3 1346.2,1426.8 1347.2,1443.7 1348.2,1454.8 1349.2,1460.0 1350.7,1490.1 1351.7,1478.1 1352.7,1457.4 1353.7,1441.9 1355.2,1369.6 1356.2,1372.6 1357.2,1378.0 1358.2,1381.7 1359.4,1374.7 1360.5,1374.0 1361.6,1383.1 1362.8,1375.6 1364.3,1402.7 1365.3,1379.2 1366.3,1369.9 1367.3,1345.5 1368.8,1303.4 1369.8,1305.5 1370.8,1308.4 1371.8,1303.4 1372.8,1287.3 1373.8,1279.0 1374.8,1270.3 1375.8,1280.9 1376.8,1278.4 1377.8,1291.3 1378.8,1289.6 1379.8,1295.6 1380.8,1300.4 1382.3,1330.5 1383.3,1347.6 1384.3,1368.4 1385.3,1393.7 1386.8,1357.6 1387.8,1347.6 1388.8,1328.6 1389.9,1321.4 1390.9,1321.1 1391.9,1311.2 1392.9,1303.4 1393.9,1303.0 1394.9,1318.2 1395.9,1318.4 1396.9,1318.3 1397.9,1324.2 1398.9,1327.5 1400.0,1329.7 1401.1,1326.1 1402.3,1332.0 1403.4,1333.5 1404.5,1329.7 1405.7,1332.9 1406.8,1343.0 1407.9,1339.5 1409.0,1344.9 1410.2,1342.8 1411.3,1346.2 1412.4,1345.5 1413.6,1347.8 1414.7,1336.7 1415.8,1338.7 1417.0,1336.5 1418.0,1333.1 1419.0,1333.9 1420.0,1339.5 1421.0,1340.8 1422.0,1348.1 1423.0,1357.6 1424.5,1381.7 1425.5,1384.3 1426.5,1394.3 1427.5,1405.8 1428.5,1414.3 1429.5,1427.3 1430.5,1435.9 1431.5,1447.2 1432.5,1454.8 1433.5,1456.9 1434.5,1467.6 1435.5,1473.1 1436.5,1481.0 1437.5,1483.0 1438.5,1471.0 1439.5,1472.0 1440.7,1465.8 1441.8,1472.8 1442.9,1469.0 1444.1,1466.0 1445.1,1448.5 1446.1,1436.4 1447.1,1423.8 1448.6,1411.8 1450.1,1381.7 1451.1,1367.2 1452.1,1356.8 1453.1,1345.5 1454.6,1390.7 1457.6,1276.3 1459.1,1225.1 1460.6,1170.9 1462.1,1131.7 1463.1,1133.9 1464.1,1136.5 1465.1,1140.8 1468.1,1351.6 1469.6,1327.5 1471.2,1291.3 1472.7,1351.6 1474.2,1360.6 1475.7,1231.1 1477.2,1291.3 1478.7,1423.8 1480.2,1456.9 1481.7,1333.5 1483.2,1285.3 1484.7,1228.1 1486.2,1231.1 1487.7,1378.7 1488.7,1401.3 1489.7,1420.5 1490.7,1435.9 1493.7,1321.4 1495.2,1291.3 1496.4,1298.1 1497.5,1303.1 1498.6,1306.8 1499.8,1315.4 1500.9,1320.1 1502.0,1324.3 1503.1,1316.7 1504.3,1321.4 1505.4,1323.1 1506.5,1322.3 1507.7,1321.1 1508.8,1318.4 1509.8,1294.7 1510.8,1282.9 1511.8,1264.2 1513.3,1351.6 1514.3,1356.0 1515.3,1364.0 1516.3,1375.6 1517.8,1438.9 1518.8,1426.8 1519.8,1414.5 1520.8,1399.7 1521.8,1389.2 1522.8,1378.6 1523.8,1363.6 1525.4,1315.4 1526.9,1107.7 1528.4,1137.8 1529.9,1185.9 1594.6,1315.4 1596.1,1363.6 1597.1,1358.0 1598.1,1347.2 1599.1,1339.5 1600.1,1322.0 1601.1,1318.7 1602.1,1303.4 1603.1,1293.2 1604.1,1279.3 1605.1,1261.2 1606.2,1251.4 1607.2,1233.6 1608.2,1228.1 1609.2,1238.5 1610.2,1251.5 1611.2,1270.3 1612.2,1278.9 1613.2,1284.8 1614.2,1291.3 1615.3,1283.8 1616.4,1289.3 1617.6,1285.8 1618.7,1276.3 1619.7,1276.1 1620.7,1265.8 1621.7,1261.2 1622.5,1261.2 1623.5,1271.8 1624.5,1283.8 1625.5,1300.4 1626.5,1310.3 1627.5,1314.8 1628.6,1318.4 1629.6,1301.7 1630.6,1295.2 1631.6,1276.3 1632.7,1274.9 1633.8,1270.7 1634.9,1268.5 1636.1,1267.2 1637.2,1264.6 1638.3,1256.2 1639.5,1253.4 1640.6,1246.2 1641.7,1237.9 1642.9,1241.1 1644.0,1232.1 1645.1,1231.1 1646.1,1229.0 1647.1,1213.6 1648.1,1210.0 1649.3,1207.3 1650.4,1209.0 1651.5,1206.5 1652.6,1207.0 1653.6,1223.4 1654.6,1244.2 1655.7,1255.2 1656.7,1239.6 1657.7,1234.4 1658.7,1219.1 1659.8,1222.1 1660.9,1224.0 1662.0,1220.7 1663.2,1222.1 1664.3,1226.8 1665.4,1230.8 1666.6,1237.6 1667.7,1243.2 1668.7,1246.2 1669.7,1251.5 1670.7,1261.2 1672.2,1288.3 1673.2,1284.0 1674.2,1276.6 1675.2,1276.3 1676.2,1258.9 1677.2,1243.0 1678.2,1225.1 1679.4,1224.3 1680.5,1224.1 1681.6,1230.9 1682.8,1231.1 1683.9,1240.0 1685.0,1236.8 1686.1,1246.1 1687.3,1249.2 1688.4,1253.3 1689.5,1258.3 1690.7,1258.1 1691.8,1258.2 1692.8,1246.9 1693.8,1236.6 1694.8,1231.1 1695.8,1233.1 1696.8,1224.7 1697.8,1225.1 1698.8,1229.3 1699.8,1249.6 1700.8,1255.2 1701.8,1267.6 1702.8,1285.1 1703.8,1303.4 1704.8,1292.2 1705.8,1282.4 1706.8,1276.3 1708.0,1275.2 1709.1,1266.9 1710.2,1264.3 1711.4,1261.2 1712.5,1269.3 1713.6,1283.3 1714.7,1282.5 1715.9,1297.4 1716.9,1288.3 1717.9,1272.9 1718.9,1267.2 1720.0,1257.8 1721.1,1258.0 1722.3,1249.9 1723.4,1246.2 1724.4,1256.0 1725.4,1277.3 1726.4,1291.3 1727.5,1298.6 1728.7,1297.6 1729.8,1298.1 1730.9,1300.4 1731.9,1313.0 1732.9,1323.4 1733.9,1327.5 1734.9,1316.3 1735.9,1311.0 1737.0,1306.4 1738.0,1304.9 1739.0,1297.5 1740.0,1285.3 1741.0,1269.7 1742.0,1263.7 1743.0,1249.2 1744.0,1260.7 1745.0,1264.3 1746.0,1270.3 1747.0,1284.7 1748.0,1294.6 1749.0,1306.4 1750.5,1375.6 1751.5,1357.4 1752.5,1342.1 1753.5,1330.5 1758.0,1336.5 1759.0,1326.2 1760.0,1328.5 1761.0,1321.4 1765.6,1291.3 1766.6,1299.0 1767.6,1316.9 1768.6,1327.5 1771.6,1207.0 1772.6,1208.7 1773.6,1212.3 1774.6,1216.1 1775.6,1226.7 1776.6,1224.8 1777.6,1231.1 1779.1,1291.3 1780.1,1300.1 1781.1,1308.0 1782.1,1318.4 1783.1,1308.0 1784.1,1301.1 1785.1,1297.4 1786.1,1305.8 1787.1,1317.2 1788.1,1321.4 1789.6,1348.5 1790.6,1329.6 1791.7,1325.8 1792.7,1306.4 1793.7,1290.4 1794.7,1264.9 1795.7,1252.2 1796.7,1260.7 1797.7,1263.1 1798.7,1270.3 1799.7,1277.5 1800.7,1279.5 1801.7,1291.3 1810.7,1273.3 1811.7,1259.3 1812.7,1245.4 1813.7,1231.1 1814.7,1243.5 1815.7,1250.2 1816.7,1258.2 1817.9,1263.7 1819.0,1267.1 1820.1,1263.9 1821.3,1270.3 1824.3,1354.6 1825.3,1331.8 1826.3,1320.2 1827.3,1303.4 1828.3,1289.9 1829.3,1281.0 1830.3,1276.3 1831.3,1289.2 1832.3,1306.8 1833.3,1321.4 1836.3,1426.8 1837.3,1408.2 1838.3,1388.4 1839.3,1366.6 1840.3,1356.9 1841.3,1331.7 1842.3,1321.4 1843.3,1318.1 1844.3,1308.5 1845.4,1309.4 1846.9,1243.2 1847.9,1259.3 1848.9,1270.5 1849.9,1285.3 1850.9,1286.0 1851.9,1293.1 1852.9,1300.4 1854.0,1304.6 1855.1,1304.6 1856.3,1312.5 1857.4,1309.4 1858.5,1300.9 1859.7,1293.9 1860.8,1294.1 1861.9,1282.3 1863.0,1288.8 1864.2,1288.1 1865.3,1301.5 1866.4,1303.4 1867.6,1306.3 1868.7,1317.8 1869.8,1318.6 1870.9,1321.4 1875.5,1327.5 1877.0,1351.6 1878.5,1426.8 1880.0,1484.0 1881.0,1481.7 1882.0,1476.8 1883.0,1466.0 1884.0,1458.1 1885.0,1455.5 1886.0,1441.9 1887.1,1432.4 1888.3,1432.5 1889.4,1434.7 1890.5,1426.8 1891.5,1408.9 1892.5,1404.8 1893.5,1390.7 1894.5,1394.7 1895.5,1389.3 1896.5,1384.7 1908.6,1243.2 1909.6,1231.4 1910.6,1206.0 1911.6,1195.0 1913.1,1207.0 1917.6,1466.0 1918.6,1450.4 1919.6,1435.2 1920.6,1417.8 1921.6,1429.1 1922.6,1440.9 1923.6,1453.9 1928.2,1276.3 1929.2,1275.8 1930.2,1264.2 1931.2,1264.2 1932.2,1265.8 1933.2,1279.4 1934.2,1285.3 1935.2,1303.0 1936.2,1313.3 1937.2,1321.4 1938.2,1329.5 1939.2,1331.0 1940.2,1339.5 1941.0,1321.4 1942.0,1316.3 1943.0,1295.9 1944.0,1291.3 1945.0,1284.3 1946.0,1286.8 1947.0,1279.3 1948.0,1293.1 1949.1,1296.2 1950.1,1306.4 1951.1,1321.3 1952.1,1321.8 1953.1,1336.5 1954.1,1323.6 1955.1,1303.2 1956.1,1294.3 1957.1,1302.2 1958.1,1312.7 1959.1,1327.5 1960.1,1327.6 1961.1,1338.4 1962.1,1345.5 1963.6,1381.7 1965.1,1423.8 1966.6,1447.9 1968.1,1481.0 1969.1,1472.0 1970.1,1460.3 1971.1,1453.9 1972.1,1459.8 1973.1,1456.6 1974.1,1466.0 1975.1,1454.1 1976.2,1442.2 1977.2,1429.8 1978.2,1440.7 1979.2,1458.9 1980.2,1466.0 1981.2,1463.5 1982.2,1469.1 1983.2,1472.0 1984.2,1477.5 1985.2,1482.5 1986.2,1490.1 1987.2,1487.7 1988.2,1474.9 1989.2,1466.0 1990.2,1472.2 1991.2,1477.3 1992.2,1484.0 1993.7,1441.9 1995.2,1411.8 1996.7,1396.7 1998.2,1351.6 1999.7,1384.7 2000.7,1361.9 2001.7,1345.9 2002.8,1318.4 2003.8,1343.1 2004.8,1362.4 2005.8,1381.7 2006.8,1367.6 2007.8,1362.7 2008.8,1351.6 2009.8,1359.1 2010.8,1373.9 2011.8,1387.7 2012.8,1365.9 2013.8,1358.0 2014.8,1339.5 2015.8,1339.2 2016.8,1329.1 2017.8,1321.4 2018.8,1332.3 2019.8,1338.5 2020.8,1351.6 2021.8,1343.8 2022.8,1337.1 2023.8,1330.5 2024.8,1334.6 2025.8,1337.8 2026.8,1345.5 2027.8,1349.2 2028.8,1362.6 2029.9,1366.6 2030.9,1379.1 2031.9,1384.5 2032.9,1387.7 2033.9,1394.2 2034.9,1392.1 2035.9,1402.7 2036.9,1387.3 2037.9,1380.7 2038.9,1363.6 2039.9,1377.3 2040.9,1380.2 2041.9,1387.7 2042.9,1369.4 2043.9,1351.8 2044.9,1330.5 2046.0,1324.4 2047.2,1327.0 2048.3,1319.8 2049.4,1318.4 2050.4,1337.7 2051.4,1348.1 2052.4,1363.6 2053.4,1351.5 2054.4,1336.2 2055.4,1321.4 2056.4,1339.9 2057.5,1357.1 2058.5,1375.6 2060.0,1399.7 2061.5,1429.8 2062.5,1444.3 2063.5,1451.0 2064.5,1456.9 2065.5,1459.0 2066.5,1463.0 2067.5,1466.0 2068.5,1462.7 2069.5,1452.9 2070.5,1441.9 2072.0,1411.8 2073.5,1366.6 2074.5,1355.4 2075.5,1346.0 2076.5,1327.5 2077.5,1320.9 2078.5,1324.6 2079.5,1321.4 2080.5,1315.9 2081.5,1306.9 2082.5,1300.4 2083.5,1300.9 2084.6,1295.9 2085.6,1285.3 2086.6,1280.0 2087.6,1278.7 2088.6,1273.3 2089.6,1282.5 2090.6,1287.7 2091.6,1291.3 2092.6,1299.7 2093.6,1315.0 2094.6,1321.4 2095.6,1327.7 2096.6,1333.3 2097.6,1345.5 2098.6,1355.5 2099.6,1363.4 2100.6,1369.6 2101.6,1378.6 2102.6,1389.7 2103.6,1399.7 2104.6,1417.6 2105.6,1427.5 2106.6,1435.9 2107.6,1426.7 2108.6,1424.8 2109.6,1411.8 2110.6,1414.6 2111.7,1414.7 2112.7,1417.8 2113.7,1413.5 2114.7,1409.2 2115.7,1399.7 2116.8,1401.5 2117.9,1395.8 2119.1,1392.7 2120.2,1387.7 2121.2,1390.5 2122.2,1390.2 2123.2,1399.7 2124.2,1408.2 2125.2,1413.2 2126.2,1426.8 2127.3,1435.9 2128.5,1432.7 2129.6,1439.4 2130.7,1441.9 2131.7,1433.7 2132.7,1416.0 2133.7,1408.8 2134.7,1401.7 2135.7,1384.6 2136.7,1375.6 2137.8,1365.6 2138.8,1366.8 2139.8,1360.6 2140.8,1366.4 2141.8,1379.7 2142.8,1381.7 2143.8,1363.9 2144.8,1342.7 2145.8,1330.5 2146.8,1322.7 2147.8,1320.8 2148.8,1324.5 2149.8,1318.4 2150.8,1315.0 2151.8,1306.4 2152.9,1298.7 2154.1,1299.8 2155.2,1299.4 2156.3,1297.4 2157.3,1305.1 2158.3,1309.0 2159.3,1306.4 2160.3,1300.9 2161.3,1288.0 2162.3,1276.3 2163.3,1289.2 2164.3,1297.0 2165.4,1312.4 2166.4,1315.8 2167.4,1312.4 2168.4,1318.4 2169.4,1320.1 2170.4,1330.4 2171.4,1330.5 2172.4,1342.3 2173.4,1355.3 2174.4,1363.6 2175.9,1417.8 2176.9,1401.3 2177.9,1383.0 2178.9,1369.6 2179.9,1389.7 2180.9,1410.7 2181.9,1429.8 2182.9,1439.8 2183.9,1460.1 2184.9,1469.0 2185.9,1451.7 2186.9,1419.0 2187.9,1399.7 2188.9,1394.6 2189.9,1399.5 2190.9,1393.7 2192.0,1402.4 2193.0,1402.5 2194.0,1411.8 2195.0,1422.9 2196.0,1428.7 2197.0,1441.9 2198.0,1455.3 2199.0,1461.0 2200.0,1469.0 2201.5,1351.6 2203.0,1315.4 2204.0,1314.6 2205.0,1309.4 2206.0,1312.4 2207.0,1305.3 2208.0,1300.0 2209.0,1294.3 2210.0,1295.7 2211.0,1296.5 2212.0,1303.4 2213.0,1306.8 2214.0,1319.8 2215.0,1324.5 2216.0,1336.6 2217.0,1342.6 2218.0,1345.5 2219.1,1351.9 2220.1,1359.1 2221.1,1360.6 2222.1,1363.2 2223.1,1371.2 2224.1,1381.7 2225.1,1385.1 2226.1,1377.7 2227.1,1384.7 2228.1,1373.7 2229.1,1376.0 2230.1,1366.6 2231.1,1352.9 2232.1,1342.8 2233.1,1336.5 2234.1,1323.2 2235.1,1316.5 2236.1,1300.4 2237.1,1291.5 2238.1,1298.9 2239.1,1291.3 2240.1,1288.0 2241.1,1290.2 2242.1,1288.3 2243.1,1301.0 2244.1,1309.9 2245.1,1327.5 2246.2,1338.0 2247.2,1333.6 2248.2,1342.5 2249.7,1363.6 2251.2,1405.8 2252.7,1460.0 2253.7,1446.6 2254.7,1430.4 2255.7,1408.8 2256.8,1406.0 2257.9,1409.8 2259.1,1396.8 2260.2,1399.7 2261.5,1380.6 2262.9,1370.0 2263.9,1364.4 2265.0,1359.3 2266.1,1353.1 2267.1,1357.1 2268.2,1370.5 2269.3,1376.4 2270.4,1389.3 2271.4,1406.4 2272.5,1421.4 2273.6,1442.8 2274.6,1451.7 2275.7,1460.0 2276.8,1457.1 2277.9,1447.1 2278.9,1438.1 2280.0,1434.3 2281.1,1426.4 2282.1,1430.0 2283.2,1436.8 2284.3,1434.3 2285.4,1435.0 2286.4,1442.8 2287.5,1454.7 2288.6,1468.5 2289.6,1475.8 2290.7,1492.1 2291.8,1479.2 2292.8,1464.3 2293.9,1453.1 2295.0,1442.8 2296.1,1431.7 2297.1,1427.8 2298.2,1421.2 2299.3,1425.7 2300.3,1408.7 2301.4,1395.7 2302.5,1387.3 2303.6,1372.1 2304.6,1351.9 2305.7,1340.0 2306.8,1330.3 2307.8,1327.1 2308.9,1323.2 2310.0,1316.4 2311.1,1313.7 2312.1,1307.8 2313.2,1313.6 2314.3,1312.1 2315.3,1319.2 2316.4,1322.8 2317.5,1333.5 2318.6,1335.7 2319.6,1342.3 2320.7,1357.1 2321.8,1360.0 2322.8,1352.8 2323.9,1338.6 2325.0,1335.7 2326.1,1324.7 2327.1,1322.8 2328.2,1288.6 2329.3,1281.7 2330.3,1284.3 2331.4,1291.9 2332.5,1292.8 2333.6,1294.3 2334.6,1300.8 2335.7,1297.1 2336.8,1304.3 2337.8,1305.4 2338.9,1301.4 2340.0,1307.1 2341.1,1310.0 2342.1,1311.4 2343.2,1316.4 2344.3,1292.8 2345.3,1289.8 2346.4,1275.7 2347.5,1269.9 2348.6,1258.6 2349.6,1247.4 2350.7,1243.6 2351.8,1247.4 2352.8,1250.0 2353.9,1248.5 2355.0,1258.6 2356.1,1254.9 2357.1,1262.8" fill="none" stroke="none" marker-start="url(#mk2)" marker-mid="url(#mk2)" marker-end="url(#mk2)"/>
<path d="M265.7,1903.8 L276.1,1903.8 L276.1,1903.8 L276.1,1874.1 L276.1,1874.1 L276.1,1874.1 L276.1,1903.8 L276.1,1903.8 L285.3,1903.8 L287.0,1903.8 L287.0,1933.5 L288.7,1933.5 L290.4,1933.5 L290.4,1963.2 L292.1,1963.2 L293.3,1963.2 L293.3,1992.8 L294.4,1992.8 L295.6,1992.8 L295.6,2022.5 L296.7,2022.5 L311.7,2052.2 L313.4,2052.2 L313.4,2022.5 L315.1,2022.5 L317.4,2022.5 L317.4,1992.8 L319.7,1992.8 L322.0,1992.8 L322.0,1963.2 L324.3,1963.2 L326.6,1963.2 L326.6,1933.5 L328.9,1933.5 L331.2,1933.5 L331.2,1903.8 L333.5,1903.8 L335.2,1903.8 L335.2,1874.1 L336.9,1874.1 L339.2,1874.1 L339.2,1844.4 L341.5,1844.4 L348.4,1844.4 L349.5,1844.4 L349.5,1874.1 L350.7,1874.1 L351.8,1874.1 L351.8,1903.8 L353.0,1903.8 L355.3,1903.8 L355.3,1933.5 L357.6,1933.5 L359.3,1933.5 L359.3,1963.2 L361.0,1963.2 L362.7,1963.2 L362.7,1992.8 L364.5,1992.8 L372.5,1992.8 L372.5,1992.8 L372.5,2022.5 L372.5,2022.5 L367.9,2022.5 L374.8,2022.5 L377.1,2022.5 L377.1,2052.2 L379.4,2052.2 L380.5,2052.2 L380.5,2022.5 L381.7,2022.5 L384.0,2022.5 L384.0,1992.8 L386.3,1992.8 L388.0,1992.8 L388.0,1963.2 L389.7,1963.2 L390.9,1963.2 L390.9,1933.5 L392.0,1933.5 L393.1,1933.5 L393.1,1903.8 L394.3,1903.8 L396.0,1903.8 L396.0,1874.1 L397.7,1874.1 L399.5,1874.1 L399.5,1844.4 L401.2,1844.4 L402.9,1844.4 L402.9,1814.8 L404.6,1814.8 L404.6,1814.8 L404.6,1785.1 L404.6,1785.1 L409.2,1785.1 L409.2,1785.1 L409.2,1814.8 L409.2,1814.8 L411.5,1814.8 L413.8,1814.8 L413.8,1755.4 L416.1,1755.4 L417.3,1755.4 L417.3,1785.1 L418.4,1785.1 L419.0,1785.1 L419.0,1844.4 L419.6,1844.4 L421.3,1844.4 L421.3,1874.1 L423.0,1874.1 L424.7,1874.1 L424.7,1903.8 L426.4,1903.8 L427.0,1903.8 L427.0,1933.5 L427.6,1933.5 L428.7,1933.5 L428.7,1963.2 L429.9,1963.2 L430.5,1963.2 L430.5,1992.8 L431.0,1992.8 L432.2,1992.8 L432.2,2022.5 L433.3,2022.5 L433.9,2022.5 L433.9,2052.2 L434.5,2052.2 L446.0,2052.2 L447.1,2052.2 L447.1,2022.5 L448.2,2022.5 L450.0,2022.5 L450.0,1992.8 L451.7,1992.8 L452.8,1992.8 L452.8,1963.2 L454.0,1963.2 L455.1,1963.2 L455.1,1933.5 L456.3,1933.5 L458.6,1933.5 L458.6,1903.8 L460.9,1903.8 L462.6,1903.8 L462.6,1874.1 L464.3,1874.1 L466.6,1874.1 L466.6,1844.4 L468.9,1844.4 L470.6,1844.4 L470.6,1814.8 L472.4,1814.8 L476.9,1814.8 L478.7,1814.8 L478.7,1844.4 L480.4,1844.4 L483.8,1844.4 L483.8,1874.1 L487.3,1874.1 L489.6,1874.1 L489.6,1903.8 L491.9,1903.8 L492.4,1903.8 L492.4,1933.5 L493.0,1933.5 L494.7,1933.5 L494.7,1963.2 L496.5,1963.2 L498.2,1963.2 L498.2,1992.8 L499.9,1992.8 L502.2,1992.8 L502.2,2022.5 L504.5,2022.5 L512.5,2022.5 L512.5,2022.5 L512.5,2052.2 L512.5,2052.2 L513.7,2052.2 L513.7,2022.5 L514.8,2022.5 L517.1,2022.5 L517.1,1992.8 L519.4,1992.8 L521.1,1992.8 L521.1,1963.2 L522.9,1963.2 L525.2,1963.2 L525.2,1933.5 L527.4,1933.5 L530.3,1933.5 L530.3,1903.8 L533.2,1903.8 L534.9,1903.8 L534.9,1874.1 L536.6,1874.1 L538.4,1874.1 L538.4,1844.4 L540.1,1844.4 L544.1,1844.4 L544.1,1814.8 L548.1,1814.8 L549.8,1814.8 L549.8,1844.4 L551.6,1844.4 L553.3,1844.4 L553.3,1874.1 L555.0,1874.1 L556.1,1874.1 L556.1,1903.8 L557.3,1903.8 L558.4,1903.8 L558.4,1933.5 L559.6,1933.5 L560.7,1933.5 L560.7,1963.2 L561.9,1963.2 L563.0,1963.2 L563.0,1992.8 L564.2,1992.8 L565.3,1992.8 L565.3,2022.5 L566.5,2022.5 L569.3,2022.5 L569.3,2052.2 L572.2,2052.2 L580.0,2052.2 L581.5,2052.2 L584.9,2052.2 L584.9,2052.2 L584.9,2022.5 L584.9,2022.5 L586.1,2022.5 L586.1,1992.8 L587.2,1992.8 L588.4,1992.8 L588.4,1963.2 L589.5,1963.2 L590.7,1963.2 L590.7,1933.5 L591.8,1933.5 L599.8,1933.5 L599.3,1933.5 L599.3,2022.5 L598.7,2022.5 L602.1,2022.5 L603.3,2022.5 L603.3,1992.8 L604.4,1992.8 L609.0,1992.8 L609.0,1963.2 L613.6,1963.2 L614.2,1963.2 L614.2,1992.8 L614.8,1992.8 L619.4,1992.8 L621.1,1992.8 L621.1,2022.5 L622.8,2022.5 L624.5,2022.5 L624.5,2052.2 L626.2,2052.2 L627.4,2052.2 L627.4,2081.9 L628.5,2081.9 L629.7,2081.9 L629.7,2111.6 L630.8,2111.6 L632.6,2111.6 L632.6,2141.2 L634.3,2141.2 L636.0,2141.2 L636.0,2170.9 L637.7,2170.9 L638.3,2170.9 L638.3,2141.2 L638.9,2141.2 L648.1,2141.2 L648.6,2141.2 L648.6,2111.6 L649.2,2111.6 L651.5,2111.6 L651.5,2081.9 L653.8,2081.9 L655.5,2081.9 L655.5,2052.2 L657.2,2052.2 L671.0,2052.2 L672.2,2052.2 L672.2,2022.5 L673.3,2022.5 L676.2,2022.5 L676.2,1992.8 L679.0,1992.8 L679.6,1992.8 L679.6,2022.5 L680.2,2022.5 L689.4,2022.5 L689.9,2022.5 L689.9,2052.2 L690.5,2052.2 L692.8,2052.2 L692.8,2081.9 L695.1,2081.9 L696.8,2081.9 L696.8,2111.6 L698.6,2111.6 L712.3,2111.6 L712.3,2111.6 L712.3,2081.9 L712.3,2081.9 L734.1,2081.9 L734.7,2081.9 L734.7,2052.2 L735.3,2052.2 L737.6,2052.2 L737.6,2022.5 L739.9,2022.5 L754.8,2022.5 L756.0,2022.5 L756.0,2052.2 L757.1,2052.2 L758.8,2052.2 L758.8,2081.9 L760.5,2081.9 L761.7,2081.9 L761.7,2111.6 L762.8,2111.6 L775.5,2111.6 L776.0,2111.6 L776.0,2081.9 L776.6,2081.9 L784.6,2081.9 L784.6,2081.9 L784.6,2111.6 L784.6,2111.6 L797.3,2111.6 L797.3,2111.6 L797.3,2141.2 L797.3,2141.2 L798.4,2141.2 L798.4,2111.6 L799.6,2111.6 L801.9,2111.6 L801.9,2081.9 L804.2,2081.9 L806.5,2081.9 L806.5,2052.2 L808.8,2052.2 L831.7,2052.2 L831.7,2052.2 L831.7,2081.9 L831.7,2081.9 L854.7,2081.9 L855.2,2081.9 L855.2,2111.6 L855.8,2111.6 L858.1,2111.6 L858.1,2141.2 L860.4,2141.2 L862.1,2141.2 L862.1,2170.9 L863.8,2170.9 L870.7,2170.9 L871.9,2170.9 L871.9,2141.2 L873.0,2141.2 L874.8,2141.2 L874.8,2111.6 L876.5,2111.6 L890.0,2111.6 L891.5,2111.6 L892.6,2111.6 L892.6,2141.2 L893.8,2141.2 L894.3,2141.2 L894.3,2111.6 L894.9,2111.6 L905.3,2111.6 L905.3,2111.6 L905.3,2081.9 L905.3,2081.9 L914.4,2081.9 L914.4,2081.9 L914.4,2052.2 L914.4,2052.2 L928.2,2052.2 L928.2,2052.2 L928.2,2081.9 L928.2,2081.9 L935.1,2081.9 L935.1,2081.9 L935.1,2052.2 L935.1,2052.2 L956.9,2052.2 L956.9,2052.2 L956.9,2081.9 L956.9,2081.9 L969.5,2081.9 L969.5,2081.9 L969.5,2052.2 L969.5,2052.2 L987.9,2052.2 L987.9,2052.2 L987.9,2081.9 L987.9,2081.9 L989.6,2081.9 L989.6,2111.6 L991.3,2111.6 L1004.0,2111.6 L1004.0,2111.6 L1004.0,2081.9 L1004.0,2081.9 L1017.7,2081.9 L1017.7,2081.9 L1017.7,2052.2 L1017.7,2052.2 L1029.2,2052.2 L1029.2,2052.2 L1029.2,2022.5 L1029.2,2022.5 L1048.7,2022.5 L1048.7,2022.5 L1048.7,2052.2 L1048.7,2052.2 L1051.0,2052.2 L1051.0,2081.9 L1053.3,2081.9 L1055.0,2081.9 L1055.0,2111.6 L1056.8,2111.6 L1067.1,2111.6 L1067.1,2111.6 L1067.1,2141.2 L1067.1,2141.2 L1067.7,2141.2 L1067.7,2111.6 L1068.2,2111.6 L1082.0,2111.6 L1082.0,2111.6 L1082.0,2081.9 L1082.0,2081.9 L1090.1,2081.9 L1090.6,2081.9 L1090.6,2052.2 L1091.2,2052.2 L1096.9,2052.2 L1096.9,2052.2 L1096.9,2022.5 L1096.9,2022.5 L1114.2,2022.5 L1114.7,2022.5 L1114.7,2052.2 L1115.3,2052.2 L1118.2,2052.2 L1118.2,2081.9 L1121.0,2081.9 L1122.8,2081.9 L1122.8,2111.6 L1124.5,2111.6 L1145.2,2111.6 L1145.2,2111.6 L1145.2,2081.9 L1145.2,2081.9 L1152.0,2081.9 L1152.6,2081.9 L1152.6,2052.2 L1153.2,2052.2 L1158.9,2052.2 L1160.1,2052.2 L1160.1,2022.5 L1161.2,2022.5 L1162.9,2022.5 L1162.9,1992.8 L1164.7,1992.8 L1176.1,1992.8 L1176.1,1992.8 L1176.1,2022.5 L1176.1,2022.5 L1178.4,2022.5 L1178.4,2052.2 L1180.7,2052.2 L1183.0,2052.2 L1183.0,2081.9 L1185.3,2081.9 L1187.0,2081.9 L1187.0,2111.6 L1188.8,2111.6 L1196.8,2111.6 L1196.8,2111.6 L1196.8,2141.2 L1196.8,2141.2 L1200.0,2141.2 L1201.5,2141.2 L1207.2,2141.2 L1207.2,2141.2 L1207.2,2111.6 L1207.2,2111.6 L1210.1,2111.6 L1210.1,2081.9 L1213.0,2081.9 L1216.4,2081.9 L1216.4,2052.2 L1219.8,2052.2 L1222.1,2052.2 L1222.1,2022.5 L1224.4,2022.5 L1227.9,2022.5 L1227.9,1992.8 L1231.3,1992.8 L1241.7,1992.8 L1242.2,1992.8 L1242.2,2022.5 L1242.8,2022.5 L1245.7,2022.5 L1245.7,2052.2 L1248.5,2052.2 L1250.3,2052.2 L1250.3,2081.9 L1252.0,2081.9 L1253.7,2081.9 L1253.7,2111.6 L1255.4,2111.6 L1263.5,2111.6 L1263.5,2111.6 L1263.5,2141.2 L1263.5,2141.2 L1265.8,2141.2 L1265.8,2170.9 L1268.1,2170.9 L1269.2,2170.9 L1269.2,2141.2 L1270.3,2141.2 L1271.5,2141.2 L1271.5,2111.6 L1272.6,2111.6 L1284.1,2111.6 L1284.7,2111.6 L1284.7,2081.9 L1285.3,2081.9 L1286.4,2081.9 L1286.4,2052.2 L1287.6,2052.2 L1289.3,2052.2 L1289.3,2022.5 L1291.0,2022.5 L1293.3,2022.5 L1293.3,1992.8 L1295.6,1992.8 L1299.0,1992.8 L1299.0,1963.2 L1302.5,1963.2 L1302.5,1963.2 L1302.5,1992.8 L1302.5,1992.8 L1309.4,1992.8 L1310.5,1992.8 L1310.5,2022.5 L1311.7,2022.5 L1314.0,2022.5 L1314.0,2052.2 L1316.3,2052.2 L1325.4,2052.2 L1325.4,2052.2 L1325.4,2081.9 L1325.4,2081.9 L1322.0,2081.9 L1324.3,2081.9 L1324.3,2111.6 L1326.6,2111.6 L1384.0,2022.5 L1385.7,2022.5 L1385.7,2052.2 L1387.4,2052.2 L1389.7,2052.2 L1389.7,2081.9 L1392.0,2081.9 L1393.2,2081.9 L1393.2,2111.6 L1394.3,2111.6 L1410.4,2111.6 L1411.0,2111.6 L1411.0,2081.9 L1411.5,2081.9 L1413.8,2081.9 L1413.8,2052.2 L1416.1,2052.2 L1419.0,2052.2 L1419.0,2022.5 L1421.9,2022.5 L1424.2,2022.5 L1424.2,1992.8 L1426.5,1992.8 L1431.0,1992.8 L1431.0,1963.2 L1435.6,1963.2 L1436.2,1963.2 L1436.2,1992.8 L1436.8,1992.8 L1448.3,1992.8 L1448.8,1992.8 L1448.8,2022.5 L1449.4,2022.5 L1452.3,2022.5 L1452.3,2052.2 L1455.2,2052.2 L1456.9,2052.2 L1456.9,2081.9 L1458.6,2081.9 L1460.9,2081.9 L1460.9,2111.6 L1463.2,2111.6 L1474.7,2111.6 L1474.7,2111.6 L1474.7,2081.9 L1474.7,2081.9 L1477.0,2081.9 L1477.0,2052.2 L1479.3,2052.2 L1481.6,2052.2 L1481.6,2022.5 L1483.8,2022.5 L1487.3,2022.5 L1487.3,1992.8 L1490.7,1992.8 L1494.2,1992.8 L1494.2,1963.2 L1497.6,1963.2 L1510.0,1963.2 L1511.5,1963.2 L1514.9,1963.2 L1515.5,1963.2 L1515.5,1992.8 L1516.1,1992.8 L1518.4,1992.8 L1518.4,2022.5 L1520.7,2022.5 L1522.4,2022.5 L1522.4,2052.2 L1524.1,2052.2 L1526.4,2052.2 L1526.4,2081.9 L1528.7,2081.9 L1530.4,2081.9 L1530.4,2111.6 L1532.1,2111.6 L1537.9,2111.6 L1537.9,2111.6 L1537.9,2081.9 L1537.9,2081.9 L1543.6,2081.9 L1544.2,2081.9 L1544.2,2052.2 L1544.8,2052.2 L1547.1,2052.2 L1547.1,2022.5 L1549.4,2022.5 L1564.3,2022.5 L1564.3,2022.5 L1564.3,1992.8 L1564.3,1992.8 L1570.0,1992.8 L1570.6,1992.8 L1570.6,1963.2 L1571.2,1963.2 L1583.8,1963.2 L1583.8,1963.2 L1583.8,1992.8 L1583.8,1992.8 L1584.9,1992.8 L1584.9,2022.5 L1586.1,2022.5 L1587.2,2022.5 L1587.2,2052.2 L1588.4,2052.2 L1589.5,2052.2 L1589.5,2081.9 L1590.7,2081.9 L1607.9,2081.9 L1607.9,2081.9 L1607.9,2052.2 L1607.9,2052.2 L1610.2,2052.2 L1610.2,2022.5 L1612.5,2022.5 L1624.0,2022.5 L1624.0,2022.5 L1624.0,2052.2 L1624.0,2052.2 L1627.4,2052.2 L1627.4,2052.2 L1627.4,2022.5 L1627.4,2022.5 L1638.9,2022.5 L1638.9,2022.5 L1638.9,1992.8 L1638.9,1992.8 L1638.9,1992.8 L1638.9,2022.5 L1638.9,2022.5 L1650.4,2022.5 L1650.9,2022.5 L1650.9,2052.2 L1651.5,2052.2 L1653.8,2052.2 L1653.8,2081.9 L1656.1,2081.9 L1657.3,2081.9 L1657.3,2111.6 L1658.4,2111.6 L1672.2,2111.6 L1671.0,2111.6 L1671.0,2081.9 L1669.9,2081.9 L1679.1,2081.9 L1679.1,2081.9 L1679.1,2052.2 L1679.1,2052.2 L1689.4,2052.2 L1689.4,2052.2 L1689.4,2081.9 L1689.4,2081.9 L1689.4,2081.9 L1689.4,2052.2 L1689.4,2052.2 L1700.9,2052.2 L1701.4,2052.2 L1701.4,2022.5 L1702.0,2022.5 L1703.2,2022.5 L1703.2,1992.8 L1704.3,1992.8 L1715.8,1992.8 L1716.9,1992.8 L1716.9,2022.5 L1718.1,2022.5 L1719.8,2022.5 L1719.8,2052.2 L1721.5,2052.2 L1723.8,2052.2 L1723.8,2081.9 L1726.1,2081.9 L1726.7,2081.9 L1726.7,2052.2 L1727.3,2052.2 L1736.5,2052.2 L1736.5,2052.2 L1736.5,2022.5 L1736.5,2022.5 L1751.4,2022.5 L1751.4,2022.5 L1751.4,2052.2 L1751.4,2052.2 L1752.5,2052.2 L1752.5,2081.9 L1753.7,2081.9 L1766.3,2081.9 L1766.9,2081.9 L1766.9,2052.2 L1767.4,2052.2 L1769.2,2052.2 L1769.2,2022.5 L1770.9,2022.5 L1781.2,2022.5 L1781.2,2022.5 L1781.2,1992.8 L1781.2,1992.8 L1781.8,1992.8 L1781.8,2022.5 L1782.4,2022.5 L1798.4,2022.5 L1798.4,2022.5 L1798.4,1992.8 L1798.4,1992.8 L1808.8,1992.8 L1809.3,1992.8 L1809.3,2022.5 L1809.9,2022.5 L1812.8,2022.5 L1812.8,2052.2 L1815.7,2052.2 L1817.4,2052.2 L1817.4,2081.9 L1819.1,2081.9 L1819.6,2081.9 L1819.6,2111.6 L1820.0,2111.6 L1821.5,2111.6 L1834.1,2111.6 L1834.1,2111.6 L1834.1,2081.9 L1834.1,2081.9 L1835.8,2081.9 L1835.8,2052.2 L1837.5,2052.2 L1839.3,2052.2 L1839.3,2022.5 L1841.0,2022.5 L1862.8,2022.5 L1862.8,2022.5 L1862.8,1992.8 L1862.8,1992.8 L1866.2,1992.8 L1866.2,1963.2 L1869.7,1963.2 L1869.7,1963.2 L1869.7,1992.8 L1869.7,1992.8 L1875.4,1992.8 L1876.6,1992.8 L1876.6,2022.5 L1877.7,2022.5 L1880.0,2022.5 L1880.0,2052.2 L1882.3,2052.2 L1884.0,2052.2 L1884.0,2081.9 L1885.8,2081.9 L1886.9,2081.9 L1886.9,2111.6 L1888.1,2111.6 L1890.3,2111.6 L1890.3,2141.2 L1892.6,2141.2 L1893.8,2141.2 L1893.8,2111.6 L1894.9,2111.6 L1904.1,2111.6 L1905.3,2111.6 L1905.3,2081.9 L1906.4,2081.9 L1908.7,2081.9 L1908.7,2052.2 L1911.0,2052.2 L1914.5,2052.2 L1914.5,2022.5 L1917.9,2022.5 L1927.1,2022.5 L1927.7,2022.5 L1927.7,1992.8 L1928.2,1992.8 L1932.2,1992.8 L1932.2,1963.2 L1936.3,1963.2 L1936.3,1963.2 L1936.3,1992.8 L1936.3,1992.8 L1943.1,1992.8 L1944.3,1992.8 L1944.3,2022.5 L1945.4,2022.5 L1946.6,2022.5 L1946.6,2052.2 L1947.7,2052.2 L1949.5,2052.2 L1949.5,2081.9 L1951.2,2081.9 L1952.3,2081.9 L1952.3,2111.6 L1953.5,2111.6 L1955.2,2111.6 L1955.2,2141.2 L1956.9,2141.2 L1970.7,2141.2 L1971.8,2141.2 L1971.8,2111.6 L1973.0,2111.6 L1974.1,2111.6 L1974.1,2081.9 L1975.3,2081.9 L1977.6,2081.9 L1977.6,2052.2 L1979.9,2052.2 L1983.3,2052.2 L1983.3,2022.5 L1986.8,2022.5 L1990.2,2022.5 L1990.2,1992.8 L1993.7,1992.8 L1995.4,1992.8 L1995.4,1963.2 L1997.1,1963.2 L2002.8,1963.2 L2004.0,1963.2 L2004.0,1992.8 L2005.1,1992.8 L2007.4,1992.8 L2007.4,2022.5 L2009.7,2022.5 L2011.4,2022.5 L2011.4,2052.2 L2013.2,2052.2 L2014.3,2052.2 L2014.3,2081.9 L2015.5,2081.9 L2016.6,2081.9 L2016.6,2111.6 L2017.8,2111.6 L2019.5,2111.6 L2019.5,2141.2 L2021.2,2141.2 L2022.9,2141.2 L2022.9,2170.9 L2024.6,2170.9 L2033.8,2170.9 L2034.4,2170.9 L2034.4,2141.2 L2035.0,2141.2 L2036.7,2141.2 L2036.7,2111.6 L2038.4,2111.6 L2040.7,2111.6 L2040.7,2081.9 L2043.0,2081.9 L2045.9,2081.9 L2045.9,2052.2 L2048.8,2052.2 L2051.0,2052.2 L2051.0,2022.5 L2053.3,2022.5 L2055.1,2022.5 L2055.1,1992.8 L2056.8,1992.8 L2059.1,1992.8 L2059.1,1963.2 L2061.4,1963.2 L2063.1,1963.2 L2063.1,1933.5 L2064.8,1933.5 L2071.7,1933.5 L2072.9,1933.5 L2072.9,1963.2 L2074.0,1963.2 L2075.7,1963.2 L2075.7,1992.8 L2077.4,1992.8 L2078.6,1992.8 L2078.6,2022.5 L2079.7,2022.5 L2080.9,2022.5 L2080.9,2052.2 L2082.0,2052.2 L2083.8,2052.2 L2083.8,2081.9 L2085.5,2081.9 L2087.2,2081.9 L2087.2,2111.6 L2088.9,2111.6 L2090.1,2111.6 L2090.1,2141.2 L2091.2,2141.2 L2106.1,2141.2 L2107.3,2141.2 L2107.3,2111.6 L2108.4,2111.6 L2110.2,2111.6 L2110.2,2081.9 L2111.9,2081.9 L2113.0,2081.9 L2113.0,2052.2 L2114.2,2052.2 L2115.9,2052.2 L2115.9,2022.5 L2117.6,2022.5 L2119.3,2022.5 L2119.3,1992.8 L2121.1,1992.8 L2122.8,1992.8 L2122.8,1963.2 L2124.5,1963.2 L2126.2,1963.2 L2126.2,1933.5 L2128.0,1933.5 L2130.0,1933.5 L2137.9,1933.5 L2139.0,1933.5 L2139.0,1963.2 L2140.2,1963.2 L2141.9,1963.2 L2141.9,1992.8 L2143.6,1992.8 L2144.8,1992.8 L2144.8,2022.5 L2145.9,2022.5 L2147.6,2022.5 L2147.6,2052.2 L2149.4,2052.2 L2151.1,2052.2 L2151.1,2081.9 L2152.8,2081.9 L2154.5,2081.9 L2154.5,2111.6 L2156.2,2111.6 L2158.0,2111.6 L2158.0,2141.2 L2159.7,2141.2 L2163.1,2141.2 L2163.1,2170.9 L2166.6,2170.9 L2167.7,2170.9 L2167.7,2141.2 L2168.9,2141.2 L2172.3,2141.2 L2172.3,2111.6 L2175.8,2111.6 L2177.5,2111.6 L2177.5,2081.9 L2179.2,2081.9 L2180.9,2081.9 L2180.9,2052.2 L2182.6,2052.2 L2184.4,2052.2 L2184.4,2022.5 L2186.1,2022.5 L2187.8,2022.5 L2187.8,1992.8 L2189.5,1992.8 L2191.0,1992.8 L2191.0,1963.2 L2192.5,1963.2" fill="none" stroke="#a0b6e6" stroke-width="3.6"/>
<path d="M265.7,1903.8H276.1M276.1,1903.8H285.3M285.3,1903.8H287.0M287.0,1933.5H288.7M288.7,1933.5H290.4M290.4,1963.2H292.1M292.1,1963.2H293.3M293.3,1992.8H294.4M294.4,1992.8H295.6M295.6,2022.5H296.7M311.7,2052.2H313.4M313.4,2022.5H315.1M315.1,2022.5H317.4M317.4,1992.8H319.7M319.7,1992.8H322.0M322.0,1963.2H324.3M324.3,1963.2H326.6M326.6,1933.5H328.9M328.9,1933.5H331.2M331.2,1903.8H333.5M333.5,1903.8H335.2M335.2,1874.1H336.9M336.9,1874.1H339.2M339.2,1844.4H341.5M341.5,1844.4H348.4M348.4,1844.4H349.5M349.5,1874.1H350.7M350.7,1874.1H351.8M351.8,1903.8H353.0M353.0,1903.8H355.3M355.3,1933.5H357.6M357.6,1933.5H359.3M359.3,1963.2H361.0M361.0,1963.2H362.7M362.7,1992.8H364.5M364.5,1992.8H372.5M372.5,2022.5H367.9M367.9,2022.5H374.8M374.8,2022.5H377.1M377.1,2052.2H379.4M379.4,2052.2H380.5M380.5,2022.5H381.7M381.7,2022.5H384.0M384.0,1992.8H386.3M386.3,1992.8H388.0M388.0,1963.2H389.7M389.7,1963.2H390.9M390.9,1933.5H392.0M392.0,1933.5H393.1M393.1,1903.8H394.3M394.3,1903.8H396.0M396.0,1874.1H397.7M397.7,1874.1H399.5M399.5,1844.4H401.2M401.2,1844.4H402.9M402.9,1814.8H404.6M404.6,1785.1H409.2M409.2,1814.8H411.5M411.5,1814.8H413.8M413.8,1755.4H416.1M416.1,1755.4H417.3M417.3,1785.1H418.4M418.4,1785.1H419.0M419.0,1844.4H419.6M419.6,1844.4H421.3M421.3,1874.1H423.0M423.0,1874.1H424.7M424.7,1903.8H426.4M426.4,1903.8H427.0M427.0,1933.5H427.6M427.6,1933.5H428.7M428.7,1963.2H429.9M429.9,1963.2H430.5M430.5,1992.8H431.0M431.0,1992.8H432.2M432.2,2022.5H433.3M433.3,2022.5H433.9M433.9,2052.2H434.5M434.5,2052.2H446.0M446.0,2052.2H447.1M447.1,2022.5H448.2M448.2,2022.5H450.0M450.0,1992.8H451.7M451.7,1992.8H452.8M452.8,1963.2H454.0M454.0,1963.2H455.1M455.1,1933.5H456.3M456.3,1933.5H458.6M458.6,1903.8H460.9M460.9,1903.8H462.6M462.6,1874.1H464.3M464.3,1874.1H466.6M466.6,1844.4H468.9M468.9,1844.4H470.6M470.6,1814.8H472.4M472.4,1814.8H476.9M476.9,1814.8H478.7M478.7,1844.4H480.4M480.4,1844.4H483.8M483.8,1874.1H487.3M487.3,1874.1H489.6M489.6,1903.8H491.9M491.9,1903.8H492.4M492.4,1933.5H493.0M493.0,1933.5H494.7M494.7,1963.2H496.5M496.5,1963.2H498.2M498.2,1992.8H499.9M499.9,1992.8H502.2M502.2,2022.5H504.5M504.5,2022.5H512.5M512.5,2052.2H513.7M513.7,2022.5H514.8M514.8,2022.5H517.1M517.1,1992.8H519.4M519.4,1992.8H521.1M521.1,1963.2H522.9M522.9,1963.2H525.2M525.2,1933.5H527.4M527.4,1933.5H530.3M530.3,1903.8H533.2M533.2,1903.8H534.9M534.9,1874.1H536.6M536.6,1874.1H538.4M538.4,1844.4H540.1M540.1,1844.4H544.1M544.1,1814.8H548.1M548.1,1814.8H549.8M549.8,1844.4H551.6M551.6,1844.4H553.3M553.3,1874.1H555.0M555.0,1874.1H556.1M556.1,1903.8H557.3M557.3,1903.8H558.4M558.4,1933.5H559.6M559.6,1933.5H560.7M560.7,1963.2H561.9M561.9,1963.2H563.0M563.0,1992.8H564.2M564.2,1992.8H565.3M565.3,2022.5H566.5M566.5,2022.5H569.3M569.3,2052.2H572.2M572.2,2052.2H580.0M580.0,2052.2H581.5M581.5,2052.2H584.9M584.9,2022.5H586.1M586.1,1992.8H587.2M587.2,1992.8H588.4M588.4,1963.2H589.5M589.5,1963.2H590.7M590.7,1933.5H591.8M591.8,1933.5H599.8M599.8,1933.5H599.3M599.3,2022.5H598.7M598.7,2022.5H602.1M602.1,2022.5H603.3M603.3,1992.8H604.4M604.4,1992.8H609.0M609.0,1963.2H613.6M613.6,1963.2H614.2M614.2,1992.8H614.8M614.8,1992.8H619.4M619.4,1992.8H621.1M621.1,2022.5H622.8M622.8,2022.5H624.5M624.5,2052.2H626.2M626.2,2052.2H627.4M627.4,2081.9H628.5M628.5,2081.9H629.7M629.7,2111.6H630.8M630.8,2111.6H632.6M632.6,2141.2H634.3M634.3,2141.2H636.0M636.0,2170.9H637.7M637.7,2170.9H638.3M638.3,2141.2H638.9M638.9,2141.2H648.1M648.1,2141.2H648.6M648.6,2111.6H649.2M649.2,2111.6H651.5M651.5,2081.9H653.8M653.8,2081.9H655.5M655.5,2052.2H657.2M657.2,2052.2H671.0M671.0,2052.2H672.2M672.2,2022.5H673.3M673.3,2022.5H676.2M676.2,1992.8H679.0M679.0,1992.8H679.6M679.6,2022.5H680.2M680.2,2022.5H689.4M689.4,2022.5H689.9M689.9,2052.2H690.5M690.5,2052.2H692.8M692.8,2081.9H695.1M695.1,2081.9H696.8M696.8,2111.6H698.6M698.6,2111.6H712.3M712.3,2081.9H734.1M734.1,2081.9H734.7M734.7,2052.2H735.3M735.3,2052.2H737.6M737.6,2022.5H739.9M739.9,2022.5H754.8M754.8,2022.5H756.0M756.0,2052.2H757.1M757.1,2052.2H758.8M758.8,2081.9H760.5M760.5,2081.9H761.7M761.7,2111.6H762.8M762.8,2111.6H775.5M775.5,2111.6H776.0M776.0,2081.9H776.6M776.6,2081.9H784.6M784.6,2111.6H797.3M797.3,2141.2H798.4M798.4,2111.6H799.6M799.6,2111.6H801.9M801.9,2081.9H804.2M804.2,2081.9H806.5M806.5,2052.2H808.8M808.8,2052.2H831.7M831.7,2081.9H854.7M854.7,2081.9H855.2M855.2,2111.6H855.8M855.8,2111.6H858.1M858.1,2141.2H860.4M860.4,2141.2H862.1M862.1,2170.9H863.8M863.8,2170.9H870.7M870.7,2170.9H871.9M871.9,2141.2H873.0M873.0,2141.2H874.8M874.8,2111.6H876.5M876.5,2111.6H890.0M890.0,2111.6H891.5M891.5,2111.6H892.6M892.6,2141.2H893.8M893.8,2141.2H894.3M894.3,2111.6H894.9M894.9,2111.6H905.3M905.3,2081.9H914.4M914.4,2052.2H928.2M928.2,2081.9H935.1M935.1,2052.2H956.9M956.9,2081.9H969.5M969.5,2052.2H987.9M987.9,2081.9H989.6M989.6,2111.6H991.3M991.3,2111.6H1004.0M1004.0,2081.9H1017.7M1017.7,2052.2H1029.2M1029.2,2022.5H1048.7M1048.7,2052.2H1051.0M1051.0,2081.9H1053.3M1053.3,2081.9H1055.0M1055.0,2111.6H1056.8M1056.8,2111.6H1067.1M1067.1,2141.2H1067.7M1067.7,2111.6H1068.2M1068.2,2111.6H1082.0M1082.0,2081.9H1090.1M1090.1,2081.9H1090.6M1090.6,2052.2H1091.2M1091.2,2052.2H1096.9M1096.9,2022.5H1114.2M1114.2,2022.5H1114.7M1114.7,2052.2H1115.3M1115.3,2052.2H1118.2M1118.2,2081.9H1121.0M1121.0,2081.9H1122.8M1122.8,2111.6H1124.5M1124.5,2111.6H1145.2M1145.2,2081.9H1152.0M1152.0,2081.9H1152.6M1152.6,2052.2H1153.2M1153.2,2052.2H1158.9M1158.9,2052.2H1160.1M1160.1,2022.5H1161.2M1161.2,2022.5H1162.9M1162.9,1992.8H1164.7M1164.7,1992.8H1176.1M1176.1,2022.5H1178.4M1178.4,2052.2H1180.7M1180.7,2052.2H1183.0M1183.0,2081.9H1185.3M1185.3,2081.9H1187.0M1187.0,2111.6H1188.8M1188.8,2111.6H1196.8M1196.8,2141.2H1200.0M1200.0,2141.2H1201.5M1201.5,2141.2H1207.2M1207.2,2111.6H1210.1M1210.1,2081.9H1213.0M1213.0,2081.9H1216.4M1216.4,2052.2H1219.8M1219.8,2052.2H1222.1M1222.1,2022.5H1224.4M1224.4,2022.5H1227.9M1227.9,1992.8H1231.3M1231.3,1992.8H1241.7M1241.7,1992.8H1242.2M1242.2,2022.5H1242.8M1242.8,2022.5H1245.7M1245.7,2052.2H1248.5M1248.5,2052.2H1250.3M1250.3,2081.9H1252.0M1252.0,2081.9H1253.7M1253.7,2111.6H1255.4M1255.4,2111.6H1263.5M1263.5,2141.2H1265.8M1265.8,2170.9H1268.1M1268.1,2170.9H1269.2M1269.2,2141.2H1270.3M1270.3,2141.2H1271.5M1271.5,2111.6H1272.6M1272.6,2111.6H1284.1M1284.1,2111.6H1284.7M1284.7,2081.9H1285.3M1285.3,2081.9H1286.4M1286.4,2052.2H1287.6M1287.6,2052.2H1289.3M1289.3,2022.5H1291.0M1291.0,2022.5H1293.3M1293.3,1992.8H1295.6M1295.6,1992.8H1299.0M1299.0,1963.2H1302.5M1302.5,1992.8H1309.4M1309.4,1992.8H1310.5M1310.5,2022.5H1311.7M1311.7,2022.5H1314.0M1314.0,2052.2H1316.3M1316.3,2052.2H1325.4M1325.4,2081.9H1322.0M1322.0,2081.9H1324.3M1324.3,2111.6H1326.6M1384.0,2022.5H1385.7M1385.7,2052.2H1387.4M1387.4,2052.2H1389.7M1389.7,2081.9H1392.0M1392.0,2081.9H1393.2M1393.2,2111.6H1394.3M1394.3,2111.6H1410.4M1410.4,2111.6H1411.0M1411.0,2081.9H1411.5M1411.5,2081.9H1413.8M1413.8,2052.2H1416.1M1416.1,2052.2H1419.0M1419.0,2022.5H1421.9M1421.9,2022.5H1424.2M1424.2,1992.8H1426.5M1426.5,1992.8H1431.0M1431.0,1963.2H1435.6M1435.6,1963.2H1436.2M1436.2,1992.8H1436.8M1436.8,1992.8H1448.3M1448.3,1992.8H1448.8M1448.8,2022.5H1449.4M1449.4,2022.5H1452.3M1452.3,2052.2H1455.2M1455.2,2052.2H1456.9M1456.9,2081.9H1458.6M1458.6,2081.9H1460.9M1460.9,2111.6H1463.2M1463.2,2111.6H1474.7M1474.7,2081.9H1477.0M1477.0,2052.2H1479.3M1479.3,2052.2H1481.6M1481.6,2022.5H1483.8M1483.8,2022.5H1487.3M1487.3,1992.8H1490.7M1490.7,1992.8H1494.2M1494.2,1963.2H1497.6M1497.6,1963.2H1510.0M1510.0,1963.2H1511.5M1511.5,1963.2H1514.9M1514.9,1963.2H1515.5M1515.5,1992.8H1516.1M1516.1,1992.8H1518.4M1518.4,2022.5H1520.7M1520.7,2022.5H1522.4M1522.4,2052.2H1524.1M1524.1,2052.2H1526.4M1526.4,2081.9H1528.7M1528.7,2081.9H1530.4M1530.4,2111.6H1532.1M1532.1,2111.6H1537.9M1537.9,2081.9H1543.6M1543.6,2081.9H1544.2M1544.2,2052.2H1544.8M1544.8,2052.2H1547.1M1547.1,2022.5H1549.4M1549.4,2022.5H1564.3M1564.3,1992.8H1570.0M1570.0,1992.8H1570.6M1570.6,1963.2H1571.2M1571.2,1963.2H1583.8M1583.8,1992.8H1584.9M1584.9,2022.5H1586.1M1586.1,2022.5H1587.2M1587.2,2052.2H1588.4M1588.4,2052.2H1589.5M1589.5,2081.9H1590.7M1590.7,2081.9H1607.9M1607.9,2052.2H1610.2M1610.2,2022.5H1612.5M1612.5,2022.5H1624.0M1624.0,2052.2H1627.4M1627.4,2022.5H1638.9M1638.9,2022.5H1650.4M1650.4,2022.5H1650.9M1650.9,2052.2H1651.5M1651.5,2052.2H1653.8M1653.8,2081.9H1656.1M1656.1,2081.9H1657.3M1657.3,2111.6H1658.4M1658.4,2111.6H1672.2M1672.2,2111.6H1671.0M1671.0,2081.9H1669.9M1669.9,2081.9H1679.1M1679.1,2052.2H1689.4M1689.4,2052.2H1700.9M1700.9,2052.2H1701.4M1701.4,2022.5H1702.0M1702.0,2022.5H1703.2M1703.2,1992.8H1704.3M1704.3,1992.8H1715.8M1715.8,1992.8H1716.9M1716.9,2022.5H1718.1M1718.1,2022.5H1719.8M1719.8,2052.2H1721.5M1721.5,2052.2H1723.8M1723.8,2081.9H1726.1M1726.1,2081.9H1726.7M1726.7,2052.2H1727.3M1727.3,2052.2H1736.5M1736.5,2022.5H1751.4M1751.4,2052.2H1752.5M1752.5,2081.9H1753.7M1753.7,2081.9H1766.3M1766.3,2081.9H1766.9M1766.9,2052.2H1767.4M1767.4,2052.2H1769.2M1769.2,2022.5H1770.9M1770.9,2022.5H1781.2M1781.2,1992.8H1781.8M1781.8,2022.5H1782.4M1782.4,2022.5H1798.4M1798.4,1992.8H1808.8M1808.8,1992.8H1809.3M1809.3,2022.5H1809.9M1809.9,2022.5H1812.8M1812.8,2052.2H1815.7M1815.7,2052.2H1817.4M1817.4,2081.9H1819.1M1819.1,2081.9H1819.6M1819.6,2111.6H1820.0M1820.0,2111.6H1821.5M1821.5,2111.6H1834.1M1834.1,2081.9H1835.8M1835.8,2052.2H1837.5M1837.5,2052.2H1839.3M1839.3,2022.5H1841.0M1841.0,2022.5H1862.8M1862.8,1992.8H1866.2M1866.2,1963.2H1869.7M1869.7,1992.8H1875.4M1875.4,1992.8H1876.6M1876.6,2022.5H1877.7M1877.7,2022.5H1880.0M1880.0,2052.2H1882.3M1882.3,2052.2H1884.0M1884.0,2081.9H1885.8M1885.8,2081.9H1886.9M1886.9,2111.6H1888.1M1888.1,2111.6H1890.3M1890.3,2141.2H1892.6M1892.6,2141.2H1893.8M1893.8,2111.6H1894.9M1894.9,2111.6H1904.1M1904.1,2111.6H1905.3M1905.3,2081.9H1906.4M1906.4,2081.9H1908.7M1908.7,2052.2H1911.0M1911.0,2052.2H1914.5M1914.5,2022.5H1917.9M1917.9,2022.5H1927.1M1927.1,2022.5H1927.7M1927.7,1992.8H1928.2M1928.2,1992.8H1932.2M1932.2,1963.2H1936.3M1936.3,1992.8H1943.1M1943.1,1992.8H1944.3M1944.3,2022.5H1945.4M1945.4,2022.5H1946.6M1946.6,2052.2H1947.7M1947.7,2052.2H1949.5M1949.5,2081.9H1951.2M1951.2,2081.9H1952.3M1952.3,2111.6H1953.5M1953.5,2111.6H1955.2M1955.2,2141.2H1956.9M1956.9,2141.2H1970.7M1970.7,2141.2H1971.8M1971.8,2111.6H1973.0M1973.0,2111.6H1974.1M1974.1,2081.9H1975.3M1975.3,2081.9H1977.6M1977.6,2052.2H1979.9M1979.9,2052.2H1983.3M1983.3,2022.5H1986.8M1986.8,2022.5H1990.2M1990.2,1992.8H1993.7M1993.7,1992.8H1995.4M1995.4,1963.2H1997.1M1997.1,1963.2H2002.8M2002.8,1963.2H2004.0M2004.0,1992.8H2005.1M2005.1,1992.8H2007.4M2007.4,2022.5H2009.7M2009.7,2022.5H2011.4M2011.4,2052.2H2013.2M2013.2,2052.2H2014.3M2014.3,2081.9H2015.5M2015.5,2081.9H2016.6M2016.6,2111.6H2017.8M2017.8,2111.6H2019.5M2019.5,2141.2H2021.2M2021.2,2141.2H2022.9M2022.9,2170.9H2024.6M2024.6,2170.9H2033.8M2033.8,2170.9H2034.4M2034.4,2141.2H2035.0M2035.0,2141.2H2036.7M2036.7,2111.6H2038.4M2038.4,2111.6H2040.7M2040.7,2081.9H2043.0M2043.0,2081.9H2045.9M2045.9,2052.2H2048.8M2048.8,2052.2H2051.0M2051.0,2022.5H2053.3M2053.3,2022.5H2055.1M2055.1,1992.8H2056.8M2056.8,1992.8H2059.1M2059.1,1963.2H2061.4M2061.4,1963.2H2063.1M2063.1,1933.5H2064.8M2064.8,1933.5H2071.7M2071.7,1933.5H2072.9M2072.9,1963.2H2074.0M2074.0,1963.2H2075.7M2075.7,1992.8H2077.4M2077.4,1992.8H2078.6M2078.6,2022.5H2079.7M2079.7,2022.5H2080.9M2080.9,2052.2H2082.0M2082.0,2052.2H2083.8M2083.8,2081.9H2085.5M2085.5,2081.9H2087.2M2087.2,2111.6H2088.9M2088.9,2111.6H2090.1M2090.1,2141.2H2091.2M2091.2,2141.2H2106.1M2106.1,2141.2H2107.3M2107.3,2111.6H2108.4M2108.4,2111.6H2110.2M2110.2,2081.9H2111.9M2111.9,2081.9H2113.0M2113.0,2052.2H2114.2M2114.2,2052.2H2115.9M2115.9,2022.5H2117.6M2117.6,2022.5H2119.3M2119.3,1992.8H2121.1M2121.1,1992.8H2122.8M2122.8,1963.2H2124.5M2124.5,1963.2H2126.2M2126.2,1933.5H2128.0M2128.0,1933.5H2130.0M2130.0,1933.5H2137.9M2137.9,1933.5H2139.0M2139.0,1963.2H2140.2M2140.2,1963.2H2141.9M2141.9,1992.8H2143.6M2143.6,1992.8H2144.8M2144.8,2022.5H2145.9M2145.9,2022.5H2147.6M2147.6,2052.2H2149.4M2149.4,2052.2H2151.1M2151.1,2081.9H2152.8M2152.8,2081.9H2154.5M2154.5,2111.6H2156.2M2156.2,2111.6H2158.0M2158.0,2141.2H2159.7M2159.7,2141.2H2163.1M2163.1,2170.9H2166.6M2166.6,2170.9H2167.7M2167.7,2141.2H2168.9M2168.9,2141.2H2172.3M2172.3,2111.6H2175.8M2175.8,2111.6H2177.5M2177.5,2081.9H2179.2M2179.2,2081.9H2180.9M2180.9,2052.2H2182.6M2182.6,2052.2H2184.4M2184.4,2022.5H2186.1M2186.1,2022.5H2187.8M2187.8,1992.8H2189.5M2189.5,1992.8H2191.0M2191.0,1963.2H2192.5" fill="none" stroke="#2a4fa8" stroke-width="3.0"/>
<path d="M276.1,1903.8V1874.1M379.4,2022.5V2052.2M512.5,2022.5V2052.2M548.1,1844.4V1814.8M613.6,1992.8V1963.2M637.7,2141.2V2170.9M679.0,2022.5V1992.8M797.3,2111.6V2141.2M893.8,2111.6V2141.2M1067.1,2111.6V2141.2M1268.1,2141.2V2170.9M1302.5,1992.8V1963.2M1435.6,1992.8V1963.2M1638.9,2022.5V1992.8M1689.4,2052.2V2081.9M1726.1,2052.2V2081.9M1781.2,2022.5V1992.8M1869.7,1992.8V1963.2M1892.6,2111.6V2141.2M1936.3,1992.8V1963.2M2166.6,2141.2V2170.9" fill="none" stroke="#3558ad" stroke-width="3.6"/>
<path d="M260.7,1902.0h10v3.6h-10zM271.1,1902.0h10v3.6h-10zM271.1,1872.3h10v3.6h-10zM271.1,1902.0h10v3.6h-10zM280.3,1902.0h10v3.6h-10zM283.7,1931.7h10v3.6h-10zM287.1,1961.4h10v3.6h-10zM289.4,1991.0h10v3.6h-10zM291.7,2020.7h10v3.6h-10zM306.7,2050.4h10v3.6h-10zM310.1,2020.7h10v3.6h-10zM314.7,1991.0h10v3.6h-10zM319.3,1961.4h10v3.6h-10zM323.9,1931.7h10v3.6h-10zM328.5,1902.0h10v3.6h-10zM331.9,1872.3h10v3.6h-10zM336.5,1842.6h10v3.6h-10zM343.4,1842.6h10v3.6h-10zM345.7,1872.3h10v3.6h-10zM348.0,1902.0h10v3.6h-10zM352.6,1931.7h10v3.6h-10zM356.0,1961.4h10v3.6h-10zM359.5,1991.0h10v3.6h-10zM367.5,1991.0h10v3.6h-10zM367.5,2020.7h10v3.6h-10zM362.9,2020.7h10v3.6h-10zM369.8,2020.7h10v3.6h-10zM374.4,2050.4h10v3.6h-10zM376.7,2020.7h10v3.6h-10zM381.3,1991.0h10v3.6h-10zM384.7,1961.4h10v3.6h-10zM387.0,1931.7h10v3.6h-10zM389.3,1902.0h10v3.6h-10zM392.7,1872.3h10v3.6h-10zM396.2,1842.6h10v3.6h-10zM399.6,1813.0h10v3.6h-10zM399.6,1783.3h10v3.6h-10zM404.2,1783.3h10v3.6h-10zM404.2,1813.0h10v3.6h-10zM406.5,1813.0h10v3.6h-10zM411.1,1753.6h10v3.6h-10zM413.4,1783.3h10v3.6h-10zM414.6,1842.6h10v3.6h-10zM418.0,1872.3h10v3.6h-10zM421.4,1902.0h10v3.6h-10zM422.6,1931.7h10v3.6h-10zM424.9,1961.4h10v3.6h-10zM426.0,1991.0h10v3.6h-10zM428.3,2020.7h10v3.6h-10zM429.5,2050.4h10v3.6h-10zM441.0,2050.4h10v3.6h-10zM443.2,2020.7h10v3.6h-10zM446.7,1991.0h10v3.6h-10zM449.0,1961.4h10v3.6h-10zM451.3,1931.7h10v3.6h-10zM455.9,1902.0h10v3.6h-10zM459.3,1872.3h10v3.6h-10zM463.9,1842.6h10v3.6h-10zM467.4,1813.0h10v3.6h-10zM471.9,1813.0h10v3.6h-10zM475.4,1842.6h10v3.6h-10zM482.3,1872.3h10v3.6h-10zM486.9,1902.0h10v3.6h-10zM488.0,1931.7h10v3.6h-10zM491.5,1961.4h10v3.6h-10zM494.9,1991.0h10v3.6h-10zM499.5,2020.7h10v3.6h-10zM507.5,2020.7h10v3.6h-10zM507.5,2050.4h10v3.6h-10zM509.8,2020.7h10v3.6h-10zM514.4,1991.0h10v3.6h-10zM517.9,1961.4h10v3.6h-10zM522.4,1931.7h10v3.6h-10zM528.2,1902.0h10v3.6h-10zM531.6,1872.3h10v3.6h-10zM535.1,1842.6h10v3.6h-10zM543.1,1813.0h10v3.6h-10zM546.6,1842.6h10v3.6h-10zM550.0,1872.3h10v3.6h-10zM552.3,1902.0h10v3.6h-10zM554.6,1931.7h10v3.6h-10zM556.9,1961.4h10v3.6h-10zM559.2,1991.0h10v3.6h-10zM561.5,2020.7h10v3.6h-10zM567.2,2050.4h10v3.6h-10zM575.0,2050.4h10v3.6h-10zM576.5,2050.4h10v3.6h-10zM579.9,2050.4h10v3.6h-10zM579.9,2020.7h10v3.6h-10zM582.2,1991.0h10v3.6h-10zM584.5,1961.4h10v3.6h-10zM586.8,1931.7h10v3.6h-10zM594.8,1931.7h10v3.6h-10zM593.7,2020.7h10v3.6h-10zM597.1,2020.7h10v3.6h-10zM599.4,1991.0h10v3.6h-10zM608.6,1961.4h10v3.6h-10zM609.8,1991.0h10v3.6h-10zM614.4,1991.0h10v3.6h-10zM617.8,2020.7h10v3.6h-10zM621.2,2050.4h10v3.6h-10zM623.5,2080.1h10v3.6h-10zM625.8,2109.8h10v3.6h-10zM629.3,2139.4h10v3.6h-10zM632.7,2169.1h10v3.6h-10zM633.9,2139.4h10v3.6h-10zM643.1,2139.4h10v3.6h-10zM644.2,2109.8h10v3.6h-10zM648.8,2080.1h10v3.6h-10zM652.2,2050.4h10v3.6h-10zM666.0,2050.4h10v3.6h-10zM668.3,2020.7h10v3.6h-10zM674.0,1991.0h10v3.6h-10zM675.2,2020.7h10v3.6h-10zM684.4,2020.7h10v3.6h-10zM685.5,2050.4h10v3.6h-10zM690.1,2080.1h10v3.6h-10zM693.6,2109.8h10v3.6h-10zM707.3,2109.8h10v3.6h-10zM707.3,2080.1h10v3.6h-10zM729.1,2080.1h10v3.6h-10zM730.3,2050.4h10v3.6h-10zM734.9,2020.7h10v3.6h-10zM749.8,2020.7h10v3.6h-10zM752.1,2050.4h10v3.6h-10zM755.5,2080.1h10v3.6h-10zM757.8,2109.8h10v3.6h-10zM770.5,2109.8h10v3.6h-10zM771.6,2080.1h10v3.6h-10zM779.6,2080.1h10v3.6h-10zM779.6,2109.8h10v3.6h-10zM792.3,2109.8h10v3.6h-10zM792.3,2139.4h10v3.6h-10zM794.6,2109.8h10v3.6h-10zM799.2,2080.1h10v3.6h-10zM803.8,2050.4h10v3.6h-10zM826.7,2050.4h10v3.6h-10zM826.7,2080.1h10v3.6h-10zM849.7,2080.1h10v3.6h-10zM850.8,2109.8h10v3.6h-10zM855.4,2139.4h10v3.6h-10zM858.8,2169.1h10v3.6h-10zM865.7,2169.1h10v3.6h-10zM868.0,2139.4h10v3.6h-10zM871.5,2109.8h10v3.6h-10zM885.0,2109.8h10v3.6h-10zM886.5,2109.8h10v3.6h-10zM888.8,2139.4h10v3.6h-10zM889.9,2109.8h10v3.6h-10zM900.3,2109.8h10v3.6h-10zM900.3,2080.1h10v3.6h-10zM909.4,2080.1h10v3.6h-10zM909.4,2050.4h10v3.6h-10zM923.2,2050.4h10v3.6h-10zM923.2,2080.1h10v3.6h-10zM930.1,2080.1h10v3.6h-10zM930.1,2050.4h10v3.6h-10zM951.9,2050.4h10v3.6h-10zM951.9,2080.1h10v3.6h-10zM964.5,2080.1h10v3.6h-10zM964.5,2050.4h10v3.6h-10zM982.9,2050.4h10v3.6h-10zM982.9,2080.1h10v3.6h-10zM986.3,2109.8h10v3.6h-10zM999.0,2109.8h10v3.6h-10zM999.0,2080.1h10v3.6h-10zM1012.7,2080.1h10v3.6h-10zM1012.7,2050.4h10v3.6h-10zM1024.2,2050.4h10v3.6h-10zM1024.2,2020.7h10v3.6h-10zM1043.7,2020.7h10v3.6h-10zM1043.7,2050.4h10v3.6h-10zM1048.3,2080.1h10v3.6h-10zM1051.8,2109.8h10v3.6h-10zM1062.1,2109.8h10v3.6h-10zM1062.1,2139.4h10v3.6h-10zM1063.2,2109.8h10v3.6h-10zM1077.0,2109.8h10v3.6h-10zM1077.0,2080.1h10v3.6h-10zM1085.1,2080.1h10v3.6h-10zM1086.2,2050.4h10v3.6h-10zM1091.9,2050.4h10v3.6h-10zM1091.9,2020.7h10v3.6h-10zM1109.2,2020.7h10v3.6h-10zM1110.3,2050.4h10v3.6h-10zM1116.0,2080.1h10v3.6h-10zM1119.5,2109.8h10v3.6h-10zM1140.2,2109.8h10v3.6h-10zM1140.2,2080.1h10v3.6h-10zM1147.0,2080.1h10v3.6h-10zM1148.2,2050.4h10v3.6h-10zM1153.9,2050.4h10v3.6h-10zM1156.2,2020.7h10v3.6h-10zM1159.7,1991.0h10v3.6h-10zM1171.1,1991.0h10v3.6h-10zM1171.1,2020.7h10v3.6h-10zM1175.7,2050.4h10v3.6h-10zM1180.3,2080.1h10v3.6h-10zM1183.8,2109.8h10v3.6h-10zM1191.8,2109.8h10v3.6h-10zM1191.8,2139.4h10v3.6h-10zM1195.0,2139.4h10v3.6h-10zM1196.5,2139.4h10v3.6h-10zM1202.2,2139.4h10v3.6h-10zM1202.2,2109.8h10v3.6h-10zM1208.0,2080.1h10v3.6h-10zM1214.8,2050.4h10v3.6h-10zM1219.4,2020.7h10v3.6h-10zM1226.3,1991.0h10v3.6h-10zM1236.7,1991.0h10v3.6h-10zM1237.8,2020.7h10v3.6h-10zM1243.5,2050.4h10v3.6h-10zM1247.0,2080.1h10v3.6h-10zM1250.4,2109.8h10v3.6h-10zM1258.5,2109.8h10v3.6h-10zM1258.5,2139.4h10v3.6h-10zM1263.1,2169.1h10v3.6h-10zM1265.3,2139.4h10v3.6h-10zM1267.6,2109.8h10v3.6h-10zM1279.1,2109.8h10v3.6h-10zM1280.3,2080.1h10v3.6h-10zM1282.6,2050.4h10v3.6h-10zM1286.0,2020.7h10v3.6h-10zM1290.6,1991.0h10v3.6h-10zM1297.5,1961.4h10v3.6h-10zM1297.5,1991.0h10v3.6h-10zM1304.4,1991.0h10v3.6h-10zM1306.7,2020.7h10v3.6h-10zM1311.3,2050.4h10v3.6h-10zM1320.4,2050.4h10v3.6h-10zM1320.4,2080.1h10v3.6h-10zM1317.0,2080.1h10v3.6h-10zM1321.6,2109.8h10v3.6h-10zM1379.0,2020.7h10v3.6h-10zM1382.4,2050.4h10v3.6h-10zM1387.0,2080.1h10v3.6h-10zM1389.3,2109.8h10v3.6h-10zM1405.4,2109.8h10v3.6h-10zM1406.5,2080.1h10v3.6h-10zM1411.1,2050.4h10v3.6h-10zM1416.9,2020.7h10v3.6h-10zM1421.5,1991.0h10v3.6h-10zM1430.6,1961.4h10v3.6h-10zM1431.8,1991.0h10v3.6h-10zM1443.3,1991.0h10v3.6h-10zM1444.4,2020.7h10v3.6h-10zM1450.2,2050.4h10v3.6h-10zM1453.6,2080.1h10v3.6h-10zM1458.2,2109.8h10v3.6h-10zM1469.7,2109.8h10v3.6h-10zM1469.7,2080.1h10v3.6h-10zM1474.3,2050.4h10v3.6h-10zM1478.8,2020.7h10v3.6h-10zM1485.7,1991.0h10v3.6h-10zM1492.6,1961.4h10v3.6h-10zM1505.0,1961.4h10v3.6h-10zM1506.5,1961.4h10v3.6h-10zM1509.9,1961.4h10v3.6h-10zM1511.1,1991.0h10v3.6h-10zM1515.7,2020.7h10v3.6h-10zM1519.1,2050.4h10v3.6h-10zM1523.7,2080.1h10v3.6h-10zM1527.1,2109.8h10v3.6h-10zM1532.9,2109.8h10v3.6h-10zM1532.9,2080.1h10v3.6h-10zM1538.6,2080.1h10v3.6h-10zM1539.8,2050.4h10v3.6h-10zM1544.4,2020.7h10v3.6h-10zM1559.3,2020.7h10v3.6h-10zM1559.3,1991.0h10v3.6h-10zM1565.0,1991.0h10v3.6h-10zM1566.2,1961.4h10v3.6h-10zM1578.8,1961.4h10v3.6h-10zM1578.8,1991.0h10v3.6h-10zM1581.1,2020.7h10v3.6h-10zM1583.4,2050.4h10v3.6h-10zM1585.7,2080.1h10v3.6h-10zM1602.9,2080.1h10v3.6h-10zM1602.9,2050.4h10v3.6h-10zM1607.5,2020.7h10v3.6h-10zM1619.0,2020.7h10v3.6h-10zM1619.0,2050.4h10v3.6h-10zM1622.4,2050.4h10v3.6h-10zM1622.4,2020.7h10v3.6h-10zM1633.9,2020.7h10v3.6h-10zM1633.9,1991.0h10v3.6h-10zM1633.9,2020.7h10v3.6h-10zM1645.4,2020.7h10v3.6h-10zM1646.5,2050.4h10v3.6h-10zM1651.1,2080.1h10v3.6h-10zM1653.4,2109.8h10v3.6h-10zM1667.2,2109.8h10v3.6h-10zM1664.9,2080.1h10v3.6h-10zM1674.1,2080.1h10v3.6h-10zM1674.1,2050.4h10v3.6h-10zM1684.4,2050.4h10v3.6h-10zM1684.4,2080.1h10v3.6h-10zM1684.4,2050.4h10v3.6h-10zM1695.9,2050.4h10v3.6h-10zM1697.0,2020.7h10v3.6h-10zM1699.3,1991.0h10v3.6h-10zM1710.8,1991.0h10v3.6h-10zM1713.1,2020.7h10v3.6h-10zM1716.5,2050.4h10v3.6h-10zM1721.1,2080.1h10v3.6h-10zM1722.3,2050.4h10v3.6h-10zM1731.5,2050.4h10v3.6h-10zM1731.5,2020.7h10v3.6h-10zM1746.4,2020.7h10v3.6h-10zM1746.4,2050.4h10v3.6h-10zM1748.7,2080.1h10v3.6h-10zM1761.3,2080.1h10v3.6h-10zM1762.4,2050.4h10v3.6h-10zM1765.9,2020.7h10v3.6h-10zM1776.2,2020.7h10v3.6h-10zM1776.2,1991.0h10v3.6h-10zM1777.4,2020.7h10v3.6h-10zM1793.4,2020.7h10v3.6h-10zM1793.4,1991.0h10v3.6h-10zM1803.8,1991.0h10v3.6h-10zM1804.9,2020.7h10v3.6h-10zM1810.7,2050.4h10v3.6h-10zM1814.1,2080.1h10v3.6h-10zM1815.0,2109.8h10v3.6h-10zM1816.5,2109.8h10v3.6h-10zM1829.1,2109.8h10v3.6h-10zM1829.1,2080.1h10v3.6h-10zM1832.5,2050.4h10v3.6h-10zM1836.0,2020.7h10v3.6h-10zM1857.8,2020.7h10v3.6h-10zM1857.8,1991.0h10v3.6h-10zM1864.7,1961.4h10v3.6h-10zM1864.7,1991.0h10v3.6h-10zM1870.4,1991.0h10v3.6h-10zM1872.7,2020.7h10v3.6h-10zM1877.3,2050.4h10v3.6h-10zM1880.8,2080.1h10v3.6h-10zM1883.1,2109.8h10v3.6h-10zM1887.6,2139.4h10v3.6h-10zM1889.9,2109.8h10v3.6h-10zM1899.1,2109.8h10v3.6h-10zM1901.4,2080.1h10v3.6h-10zM1906.0,2050.4h10v3.6h-10zM1912.9,2020.7h10v3.6h-10zM1922.1,2020.7h10v3.6h-10zM1923.2,1991.0h10v3.6h-10zM1931.3,1961.4h10v3.6h-10zM1931.3,1991.0h10v3.6h-10zM1938.1,1991.0h10v3.6h-10zM1940.4,2020.7h10v3.6h-10zM1942.7,2050.4h10v3.6h-10zM1946.2,2080.1h10v3.6h-10zM1948.5,2109.8h10v3.6h-10zM1951.9,2139.4h10v3.6h-10zM1965.7,2139.4h10v3.6h-10zM1968.0,2109.8h10v3.6h-10zM1970.3,2080.1h10v3.6h-10zM1974.9,2050.4h10v3.6h-10zM1981.8,2020.7h10v3.6h-10zM1988.7,1991.0h10v3.6h-10zM1992.1,1961.4h10v3.6h-10zM1997.8,1961.4h10v3.6h-10zM2000.1,1991.0h10v3.6h-10zM2004.7,2020.7h10v3.6h-10zM2008.2,2050.4h10v3.6h-10zM2010.5,2080.1h10v3.6h-10zM2012.8,2109.8h10v3.6h-10zM2016.2,2139.4h10v3.6h-10zM2019.6,2169.1h10v3.6h-10zM2028.8,2169.1h10v3.6h-10zM2030.0,2139.4h10v3.6h-10zM2033.4,2109.8h10v3.6h-10zM2038.0,2080.1h10v3.6h-10zM2043.8,2050.4h10v3.6h-10zM2048.3,2020.7h10v3.6h-10zM2051.8,1991.0h10v3.6h-10zM2056.4,1961.4h10v3.6h-10zM2059.8,1931.7h10v3.6h-10zM2066.7,1931.7h10v3.6h-10zM2069.0,1961.4h10v3.6h-10zM2072.4,1991.0h10v3.6h-10zM2074.7,2020.7h10v3.6h-10zM2077.0,2050.4h10v3.6h-10zM2080.5,2080.1h10v3.6h-10zM2083.9,2109.8h10v3.6h-10zM2086.2,2139.4h10v3.6h-10zM2101.1,2139.4h10v3.6h-10zM2103.4,2109.8h10v3.6h-10zM2106.9,2080.1h10v3.6h-10zM2109.2,2050.4h10v3.6h-10zM2112.6,2020.7h10v3.6h-10zM2116.1,1991.0h10v3.6h-10zM2119.5,1961.4h10v3.6h-10zM2123.0,1931.7h10v3.6h-10zM2125.0,1931.7h10v3.6h-10zM2132.9,1931.7h10v3.6h-10zM2135.2,1961.4h10v3.6h-10zM2138.6,1991.0h10v3.6h-10zM2140.9,2020.7h10v3.6h-10zM2144.4,2050.4h10v3.6h-10zM2147.8,2080.1h10v3.6h-10zM2151.2,2109.8h10v3.6h-10zM2154.7,2139.4h10v3.6h-10zM2161.6,2169.1h10v3.6h-10zM2163.9,2139.4h10v3.6h-10zM2170.8,2109.8h10v3.6h-10zM2174.2,2080.1h10v3.6h-10zM2177.6,2050.4h10v3.6h-10zM2181.1,2020.7h10v3.6h-10zM2184.5,1991.0h10v3.6h-10zM2187.5,1961.4h10v3.6h-10z" fill="#2a4fa8"/>
<rect x="20.5" y="19.5" width="2369" height="788" fill="none" stroke="#000" stroke-width="4.5" stroke-linejoin="round"/>
<path d="M19.5,807.5 V1645.8 H2389 V807.5" fill="none" stroke="#000" stroke-width="4.5" stroke-linejoin="round"/>
<rect x="19.5" y="1657.9" width="2376.8" height="819.7" fill="none" stroke="#000" stroke-width="4.5" stroke-linejoin="round"/>
</svg></body></html>
